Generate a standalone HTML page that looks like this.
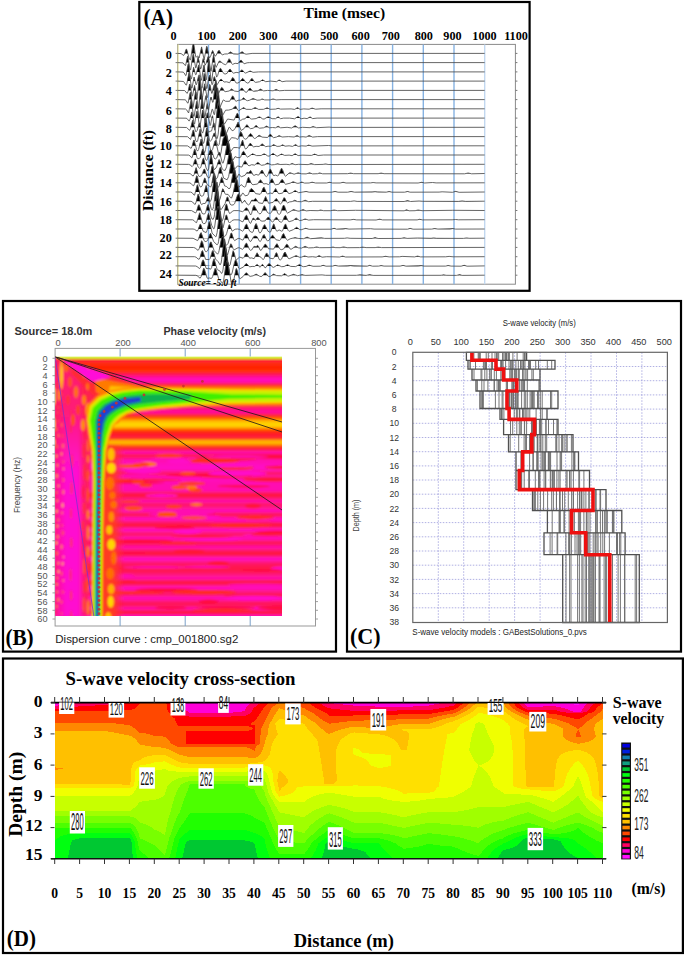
<!DOCTYPE html>
<html><head><meta charset="utf-8"><style>
html,body{margin:0;padding:0;background:#fff;width:685px;height:956px;overflow:hidden}
svg{display:block}
</style></head><body>
<svg width="685" height="956" viewBox="0 0 685 956">
<rect width="685" height="956" fill="#fff"/>
<rect x="139.3" y="2" width="390.3" height="288.8" fill="none" stroke="#000" stroke-width="2.2"/>
<text x="143.5" y="25.0" font-size="22.5" font-family="Liberation Serif" font-weight="bold" text-anchor="start" fill="#000" textLength="29.5" lengthAdjust="spacingAndGlyphs" >(A)</text>
<text x="303.6" y="17.5" font-size="15.6" font-family="Liberation Serif" font-weight="bold" text-anchor="start" fill="#000" textLength="81.5" lengthAdjust="spacingAndGlyphs" >Time (msec)</text>
<text x="173.5" y="39.6" font-size="12.2" font-family="Liberation Serif" font-weight="bold" text-anchor="middle" fill="#000" >0</text>
<text x="206.7" y="39.6" font-size="12.2" font-family="Liberation Serif" font-weight="bold" text-anchor="middle" fill="#000" >100</text>
<text x="237.8" y="39.6" font-size="12.2" font-family="Liberation Serif" font-weight="bold" text-anchor="middle" fill="#000" >200</text>
<text x="268.5" y="39.6" font-size="12.2" font-family="Liberation Serif" font-weight="bold" text-anchor="middle" fill="#000" >300</text>
<text x="300" y="39.6" font-size="12.2" font-family="Liberation Serif" font-weight="bold" text-anchor="middle" fill="#000" >400</text>
<text x="329.3" y="39.6" font-size="12.2" font-family="Liberation Serif" font-weight="bold" text-anchor="middle" fill="#000" >500</text>
<text x="360.6" y="39.6" font-size="12.2" font-family="Liberation Serif" font-weight="bold" text-anchor="middle" fill="#000" >600</text>
<text x="390.8" y="39.6" font-size="12.2" font-family="Liberation Serif" font-weight="bold" text-anchor="middle" fill="#000" >700</text>
<text x="423.8" y="39.6" font-size="12.2" font-family="Liberation Serif" font-weight="bold" text-anchor="middle" fill="#000" >800</text>
<text x="452.5" y="39.6" font-size="12.2" font-family="Liberation Serif" font-weight="bold" text-anchor="middle" fill="#000" >900</text>
<text x="484.5" y="39.6" font-size="12.2" font-family="Liberation Serif" font-weight="bold" text-anchor="middle" fill="#000" >1000</text>
<text x="516" y="39.6" font-size="12.2" font-family="Liberation Serif" font-weight="bold" text-anchor="middle" fill="#000" >1100</text>
<text x="171.8" y="58.5" font-size="12.2" font-family="Liberation Serif" font-weight="bold" text-anchor="end" fill="#000" >0</text>
<text x="171.8" y="76.8" font-size="12.2" font-family="Liberation Serif" font-weight="bold" text-anchor="end" fill="#000" >2</text>
<text x="171.8" y="94.5" font-size="12.2" font-family="Liberation Serif" font-weight="bold" text-anchor="end" fill="#000" >4</text>
<text x="171.8" y="114.60000000000001" font-size="12.2" font-family="Liberation Serif" font-weight="bold" text-anchor="end" fill="#000" >6</text>
<text x="171.8" y="133.2" font-size="12.2" font-family="Liberation Serif" font-weight="bold" text-anchor="end" fill="#000" >8</text>
<text x="171.8" y="149.89999999999998" font-size="12.2" font-family="Liberation Serif" font-weight="bold" text-anchor="end" fill="#000" >10</text>
<text x="171.8" y="168.2" font-size="12.2" font-family="Liberation Serif" font-weight="bold" text-anchor="end" fill="#000" >12</text>
<text x="171.8" y="187.2" font-size="12.2" font-family="Liberation Serif" font-weight="bold" text-anchor="end" fill="#000" >14</text>
<text x="171.8" y="206.2" font-size="12.2" font-family="Liberation Serif" font-weight="bold" text-anchor="end" fill="#000" >16</text>
<text x="171.8" y="224.0" font-size="12.2" font-family="Liberation Serif" font-weight="bold" text-anchor="end" fill="#000" >18</text>
<text x="171.8" y="242.2" font-size="12.2" font-family="Liberation Serif" font-weight="bold" text-anchor="end" fill="#000" >20</text>
<text x="171.8" y="259.2" font-size="12.2" font-family="Liberation Serif" font-weight="bold" text-anchor="end" fill="#000" >22</text>
<text x="171.8" y="278.2" font-size="12.2" font-family="Liberation Serif" font-weight="bold" text-anchor="end" fill="#000" >24</text>
<text transform="translate(153.4,170.5) rotate(-90)" x="0" y="0" font-size="15.6" font-family="Liberation Serif" font-weight="bold" text-anchor="middle" textLength="81" lengthAdjust="spacingAndGlyphs">Distance (ft)</text>
<rect x="177.6" y="44.4" width="337.79999999999995" height="239.79999999999998" fill="none" stroke="#8a8a8a" stroke-width="1"/>
<line x1="178.1" y1="44.4" x2="178.1" y2="284.2" stroke="#e8e49a" stroke-width="1"/>
<line x1="208.5" y1="44.4" x2="208.5" y2="284.2" stroke="#86b2e2" stroke-width="1.4"/>
<line x1="239.2" y1="44.4" x2="239.2" y2="284.2" stroke="#86b2e2" stroke-width="1.4"/>
<line x1="269.9" y1="44.4" x2="269.9" y2="284.2" stroke="#86b2e2" stroke-width="1.4"/>
<line x1="300.6" y1="44.4" x2="300.6" y2="284.2" stroke="#86b2e2" stroke-width="1.4"/>
<line x1="331.2" y1="44.4" x2="331.2" y2="284.2" stroke="#86b2e2" stroke-width="1.4"/>
<line x1="361.9" y1="44.4" x2="361.9" y2="284.2" stroke="#86b2e2" stroke-width="1.4"/>
<line x1="392.6" y1="44.4" x2="392.6" y2="284.2" stroke="#86b2e2" stroke-width="1.4"/>
<line x1="423.3" y1="44.4" x2="423.3" y2="284.2" stroke="#86b2e2" stroke-width="1.4"/>
<line x1="454.0" y1="44.4" x2="454.0" y2="284.2" stroke="#86b2e2" stroke-width="1.4"/>
<line x1="484.7" y1="44.4" x2="484.7" y2="284.2" stroke="#c2d8f0" stroke-width="1.4"/>
<line x1="515.4" y1="53.4" x2="517.4" y2="53.4" stroke="#777" stroke-width="1"/>
<line x1="515.4" y1="62.6" x2="517.4" y2="62.6" stroke="#777" stroke-width="1"/>
<line x1="515.4" y1="71.9" x2="517.4" y2="71.9" stroke="#777" stroke-width="1"/>
<line x1="515.4" y1="81.1" x2="517.4" y2="81.1" stroke="#777" stroke-width="1"/>
<line x1="515.4" y1="90.4" x2="517.4" y2="90.4" stroke="#777" stroke-width="1"/>
<line x1="515.4" y1="99.6" x2="517.4" y2="99.6" stroke="#777" stroke-width="1"/>
<line x1="515.4" y1="108.8" x2="517.4" y2="108.8" stroke="#777" stroke-width="1"/>
<line x1="515.4" y1="118.1" x2="517.4" y2="118.1" stroke="#777" stroke-width="1"/>
<line x1="515.4" y1="127.3" x2="517.4" y2="127.3" stroke="#777" stroke-width="1"/>
<line x1="515.4" y1="136.6" x2="517.4" y2="136.6" stroke="#777" stroke-width="1"/>
<line x1="515.4" y1="145.8" x2="517.4" y2="145.8" stroke="#777" stroke-width="1"/>
<line x1="515.4" y1="155.0" x2="517.4" y2="155.0" stroke="#777" stroke-width="1"/>
<line x1="515.4" y1="164.3" x2="517.4" y2="164.3" stroke="#777" stroke-width="1"/>
<line x1="515.4" y1="173.5" x2="517.4" y2="173.5" stroke="#777" stroke-width="1"/>
<line x1="515.4" y1="182.8" x2="517.4" y2="182.8" stroke="#777" stroke-width="1"/>
<line x1="515.4" y1="192.0" x2="517.4" y2="192.0" stroke="#777" stroke-width="1"/>
<line x1="515.4" y1="201.2" x2="517.4" y2="201.2" stroke="#777" stroke-width="1"/>
<line x1="515.4" y1="210.5" x2="517.4" y2="210.5" stroke="#777" stroke-width="1"/>
<line x1="515.4" y1="219.7" x2="517.4" y2="219.7" stroke="#777" stroke-width="1"/>
<line x1="515.4" y1="229.0" x2="517.4" y2="229.0" stroke="#777" stroke-width="1"/>
<line x1="515.4" y1="238.2" x2="517.4" y2="238.2" stroke="#777" stroke-width="1"/>
<line x1="515.4" y1="247.4" x2="517.4" y2="247.4" stroke="#777" stroke-width="1"/>
<line x1="515.4" y1="256.7" x2="517.4" y2="256.7" stroke="#777" stroke-width="1"/>
<line x1="515.4" y1="265.9" x2="517.4" y2="265.9" stroke="#777" stroke-width="1"/>
<line x1="515.4" y1="275.2" x2="517.4" y2="275.2" stroke="#777" stroke-width="1"/>
<clipPath id="aclip"><rect x="177.6" y="44.4" width="337.79999999999995" height="239.79999999999998"/></clipPath>
<line x1="175.6" y1="53.4" x2="177.6" y2="53.4" stroke="#666" stroke-width="0.9"/>
<line x1="175.6" y1="62.6" x2="177.6" y2="62.6" stroke="#666" stroke-width="0.9"/>
<line x1="175.6" y1="71.9" x2="177.6" y2="71.9" stroke="#666" stroke-width="0.9"/>
<line x1="175.6" y1="81.1" x2="177.6" y2="81.1" stroke="#666" stroke-width="0.9"/>
<line x1="175.6" y1="90.4" x2="177.6" y2="90.4" stroke="#666" stroke-width="0.9"/>
<line x1="175.6" y1="99.6" x2="177.6" y2="99.6" stroke="#666" stroke-width="0.9"/>
<line x1="175.6" y1="108.8" x2="177.6" y2="108.8" stroke="#666" stroke-width="0.9"/>
<line x1="175.6" y1="118.1" x2="177.6" y2="118.1" stroke="#666" stroke-width="0.9"/>
<line x1="175.6" y1="127.3" x2="177.6" y2="127.3" stroke="#666" stroke-width="0.9"/>
<line x1="175.6" y1="136.6" x2="177.6" y2="136.6" stroke="#666" stroke-width="0.9"/>
<line x1="175.6" y1="145.8" x2="177.6" y2="145.8" stroke="#666" stroke-width="0.9"/>
<line x1="175.6" y1="155.0" x2="177.6" y2="155.0" stroke="#666" stroke-width="0.9"/>
<line x1="175.6" y1="164.3" x2="177.6" y2="164.3" stroke="#666" stroke-width="0.9"/>
<line x1="175.6" y1="173.5" x2="177.6" y2="173.5" stroke="#666" stroke-width="0.9"/>
<line x1="175.6" y1="182.8" x2="177.6" y2="182.8" stroke="#666" stroke-width="0.9"/>
<line x1="175.6" y1="192.0" x2="177.6" y2="192.0" stroke="#666" stroke-width="0.9"/>
<line x1="175.6" y1="201.2" x2="177.6" y2="201.2" stroke="#666" stroke-width="0.9"/>
<line x1="175.6" y1="210.5" x2="177.6" y2="210.5" stroke="#666" stroke-width="0.9"/>
<line x1="175.6" y1="219.7" x2="177.6" y2="219.7" stroke="#666" stroke-width="0.9"/>
<line x1="175.6" y1="229.0" x2="177.6" y2="229.0" stroke="#666" stroke-width="0.9"/>
<line x1="175.6" y1="238.2" x2="177.6" y2="238.2" stroke="#666" stroke-width="0.9"/>
<line x1="175.6" y1="247.4" x2="177.6" y2="247.4" stroke="#666" stroke-width="0.9"/>
<line x1="175.6" y1="256.7" x2="177.6" y2="256.7" stroke="#666" stroke-width="0.9"/>
<line x1="175.6" y1="265.9" x2="177.6" y2="265.9" stroke="#666" stroke-width="0.9"/>
<line x1="175.6" y1="275.2" x2="177.6" y2="275.2" stroke="#666" stroke-width="0.9"/>
<g clip-path="url(#aclip)"><path d="M177.6 53.4 184.6 53.4 186.1 49.2 186.6 49.2 188.1 53.4 191.6 53.4 193.1 42.9 193.6 42.6 195.1 53.3 195.6 53.4 200.1 53.4 201.6 46.9 203.1 53.4 205.1 53.4 206.6 46.3 207.1 46.8 208.6 53.4 211.1 53.4 212.6 50.5 214.1 53.4 217.1 53.4 218.1 51.2 219.1 50.2 221.1 53.4 228.1 53.4 230.6 51.9 232.6 53.3 239.6 53.4 242.1 51.7 244.6 53.4 484.6 53.4 L484.7 53.4 L177.6 53.4Z M177.6 62.6 186.1 62.6 187.6 56.2 189.1 62.6 191.6 62.6 193.1 53.9 193.6 54.7 194.6 62.1 195.1 62.6 196.6 62.6 197.1 61.8 198.1 56.9 199.6 62.6 202.1 62.6 203.1 58.7 203.6 59.2 204.6 62.6 206.1 62.6 208.1 56.4 208.6 56.5 209.6 62.6 212.1 62.6 213.6 54.3 215.1 62.6 218.1 62.6 219.6 60.9 222.1 62.6 227.1 62.6 229.1 58.7 231.6 62.6 238.6 62.6 240.6 60.2 241.1 60.1 243.1 62.6 484.6 62.6 L484.7 62.6 L177.6 62.6Z M177.6 71.9 186.6 71.9 188.1 63.9 188.6 63.7 190.1 71.9 192.6 71.9 193.6 67.3 195.1 71.9 196.6 71.9 198.6 64.9 200.1 71.9 202.6 71.9 204.1 65.0 205.1 71.9 207.1 71.9 208.6 60.6 209.1 62.0 210.1 71.9 212.6 71.9 214.1 64.5 215.6 71.9 218.6 71.9 219.6 69.1 220.6 68.3 222.6 71.8 223.1 71.9 228.1 71.7 229.1 69.8 230.1 69.0 232.1 71.9 239.6 71.9 241.6 70.0 242.6 70.3 244.1 71.9 248.1 71.9 250.1 71.0 252.1 71.9 484.6 71.9 L484.7 71.9 L177.6 71.9Z M177.6 81.1 187.1 81.1 189.1 72.1 190.6 81.1 193.1 81.1 194.1 77.0 195.1 81.0 197.1 81.1 199.1 74.8 200.6 81.1 202.6 81.1 203.1 80.6 204.1 73.5 204.6 74.2 205.6 81.1 208.1 81.1 209.1 75.8 209.6 75.2 211.1 81.0 211.6 81.1 213.1 81.1 214.1 76.8 214.6 76.8 215.6 81.1 219.1 81.1 221.1 79.1 223.1 81.1 230.6 81.1 232.6 77.5 233.6 78.2 235.1 81.1 240.1 81.1 242.6 78.3 245.1 81.1 250.1 81.0 251.1 79.1 252.1 78.4 254.1 81.1 260.6 81.1 262.6 79.8 264.6 81.1 277.6 81.1 279.1 79.9 281.1 81.1 484.6 81.1 L484.7 81.1 L177.6 81.1Z M177.6 90.4 188.1 90.4 189.6 84.0 190.1 84.6 191.1 90.4 193.1 90.4 194.6 85.4 195.6 90.3 197.6 90.4 198.1 90.0 199.1 78.6 199.6 77.5 201.1 90.4 203.1 90.4 204.6 83.8 206.1 90.4 208.6 90.3 209.6 84.4 210.1 84.9 211.1 90.4 212.6 90.4 214.1 84.7 214.6 84.4 216.1 90.4 219.6 90.4 221.6 87.4 222.6 88.0 224.1 90.4 229.6 90.4 231.6 88.9 233.6 90.4 239.6 90.4 241.1 88.4 242.1 88.1 244.1 90.4 248.1 90.4 249.1 88.8 250.1 88.1 252.1 90.4 258.6 90.3 260.6 89.1 262.6 90.4 274.1 90.4 276.1 89.3 278.1 90.4 484.6 90.4 L484.7 90.4 L177.6 90.4Z M177.6 99.6 188.6 99.6 189.1 98.8 190.1 92.6 190.6 92.3 191.6 99.0 192.1 99.6 194.1 99.6 195.6 91.2 196.1 92.1 197.1 99.6 199.6 99.4 200.6 89.6 201.1 88.9 202.6 99.6 205.1 99.5 206.1 95.5 207.1 99.6 210.1 99.6 211.1 97.0 212.1 99.6 213.1 99.6 213.6 99.3 215.6 79.6 216.1 80.5 218.1 99.6 230.6 99.6 232.6 95.8 233.6 96.9 234.6 99.5 235.1 99.6 241.6 99.6 243.6 97.8 245.6 99.6 250.6 99.6 253.1 98.4 255.6 99.6 260.6 99.6 262.6 98.9 264.1 99.6 271.1 99.6 273.1 98.9 275.1 99.6 484.6 99.6 L484.7 99.6 L177.6 99.6Z M177.6 108.8 189.6 108.8 191.1 99.6 191.6 100.7 192.6 108.8 195.1 108.8 196.6 101.4 198.1 108.8 200.6 108.8 202.1 96.5 203.6 108.8 206.1 108.8 207.1 103.7 208.6 108.8 215.1 108.8 217.6 87.8 218.6 93.0 220.1 108.8 232.6 108.8 235.6 106.0 237.1 108.8 241.6 108.8 243.6 107.6 245.6 108.8 253.1 108.8 255.1 107.5 257.6 108.8 264.6 108.8 267.1 107.8 269.1 108.8 276.1 108.8 278.1 108.3 280.1 108.8 295.6 108.8 297.6 107.6 299.1 108.8 310.1 108.8 312.1 108.1 314.6 108.8 484.6 108.8 L484.7 108.8 L177.6 108.8Z M177.6 118.1 190.1 118.1 191.6 112.2 192.1 112.4 193.1 118.1 195.6 118.1 196.6 111.9 197.1 111.1 198.6 118.1 201.1 118.1 202.6 110.1 203.1 111.0 204.1 118.1 206.1 118.1 207.1 113.3 207.6 112.8 208.6 117.7 209.1 118.1 211.6 118.1 212.1 116.2 212.6 115.8 213.1 118.1 216.1 118.1 217.6 105.1 218.1 102.7 218.6 102.6 222.6 118.1 235.1 118.1 237.1 113.3 237.6 113.4 238.1 114.3 239.1 117.8 239.6 118.1 245.6 118.1 247.6 115.9 248.6 116.3 250.1 118.1 257.1 118.1 259.1 116.9 261.6 118.1 266.1 118.1 268.1 116.7 269.1 116.9 270.6 118.1 276.1 118.1 278.1 116.7 279.6 118.1 295.6 118.1 298.1 116.5 300.1 118.1 308.1 118.1 310.1 116.9 311.6 118.1 484.6 118.1 L484.7 118.1 L177.6 118.1Z M177.6 127.3 190.6 127.3 192.6 120.3 194.6 127.3 198.1 127.1 199.1 123.4 199.6 123.2 201.1 127.3 203.6 127.3 204.1 126.8 205.6 117.6 206.1 118.3 207.6 127.3 212.6 127.0 213.6 122.9 214.1 123.2 215.1 127.3 218.6 127.3 221.1 108.5 221.6 109.0 222.1 111.4 224.1 127.1 224.6 127.3 235.6 127.3 238.1 122.1 240.1 127.3 245.1 127.2 246.1 125.4 247.1 124.7 249.1 127.3 254.1 127.3 256.1 125.3 258.1 127.3 264.6 127.3 266.6 126.1 268.6 127.3 276.1 127.3 278.1 126.2 280.1 127.3 292.6 127.3 295.1 125.7 297.6 127.3 311.1 127.3 313.1 126.5 315.1 127.3 484.6 127.3 L484.7 127.3 L177.6 127.3Z M177.6 136.6 191.6 136.6 193.1 130.0 193.6 130.2 195.1 136.6 198.1 136.6 198.6 136.0 200.1 129.2 201.6 136.6 204.6 136.6 205.1 136.0 206.6 128.0 207.1 128.5 208.6 136.6 212.6 136.6 214.1 133.0 214.6 133.0 215.6 136.6 220.1 136.6 222.1 125.1 222.6 123.9 223.1 123.8 224.6 127.4 226.6 136.6 238.6 136.6 240.6 131.5 241.6 132.7 243.1 136.6 248.1 136.6 250.6 133.5 253.1 136.6 257.1 136.6 259.1 135.2 261.6 136.6 268.1 136.6 270.1 134.2 270.6 134.3 272.6 136.6 277.1 136.6 279.1 135.6 281.1 136.6 294.6 136.6 297.1 135.5 299.1 136.6 307.1 136.6 309.1 135.4 311.6 136.6 484.6 136.6 L484.7 136.6 L177.6 136.6Z M177.6 145.8 192.1 145.8 193.6 140.4 194.1 140.0 195.6 145.6 199.1 145.8 201.1 139.0 203.1 145.8 206.1 145.8 207.6 137.2 208.1 137.8 209.6 145.8 213.6 145.8 215.1 140.6 215.6 140.6 217.1 145.8 221.6 145.8 223.1 138.7 226.1 133.9 226.6 134.1 227.1 135.5 229.1 145.8 240.6 145.8 242.1 140.6 242.6 140.0 244.1 145.3 244.6 145.8 248.1 145.8 250.1 143.3 250.6 143.3 252.6 145.8 260.1 145.7 262.1 143.8 264.6 145.8 271.6 145.8 273.6 144.6 275.6 145.8 280.6 145.8 282.6 144.8 284.6 145.8 293.6 145.8 295.6 144.5 297.6 145.8 306.6 145.8 308.6 145.1 311.1 145.8 484.6 145.8 L484.7 145.8 L177.6 145.8Z M177.6 155.0 192.6 155.0 193.1 154.7 194.6 149.0 195.1 149.4 196.6 155.0 200.6 155.0 202.6 148.9 203.1 149.3 204.6 155.0 208.6 154.8 209.6 151.1 210.6 149.7 211.6 150.5 213.1 155.0 217.6 155.0 219.1 152.3 219.6 152.4 220.6 155.0 225.1 155.0 227.1 143.4 228.1 141.3 229.1 143.7 231.1 155.0 241.1 155.0 241.6 154.9 242.6 152.0 243.6 151.2 246.1 155.0 250.6 155.0 252.6 153.8 255.1 155.0 261.6 155.0 264.1 153.9 266.6 155.0 270.6 155.0 273.1 153.4 275.6 155.0 279.6 155.0 281.6 154.0 283.6 155.0 293.1 155.0 295.1 153.7 297.1 155.0 312.6 155.0 314.6 154.1 317.1 155.0 484.6 155.0 L484.7 155.0 L177.6 155.0Z M177.6 164.3 193.1 164.3 193.6 164.1 195.1 159.3 195.6 159.2 197.1 164.0 201.6 164.3 202.6 159.9 203.1 158.4 203.6 158.1 205.1 163.8 205.6 164.3 209.1 164.3 211.1 153.6 213.1 164.3 217.1 164.3 219.1 159.5 221.1 164.3 227.1 164.3 229.1 153.6 230.1 151.3 231.1 153.3 233.1 164.3 243.1 164.3 245.1 160.7 247.6 164.3 255.6 164.3 257.6 162.4 258.6 162.8 260.1 164.3 265.1 164.3 267.6 163.0 270.1 164.3 275.6 164.3 277.6 163.7 279.6 164.3 290.6 164.3 292.1 163.4 294.1 164.3 309.1 164.3 311.1 163.6 313.6 164.3 323.6 164.3 325.6 163.9 327.1 164.3 484.6 164.3 L484.7 164.3 L177.6 164.3Z M177.6 173.5 194.1 173.5 196.1 167.6 198.1 173.5 202.6 173.5 203.6 170.1 204.1 169.1 204.6 169.1 206.1 173.4 210.6 173.5 211.6 167.6 212.1 165.8 212.6 165.7 214.1 173.0 214.6 173.5 218.6 173.5 219.6 168.8 220.1 167.4 220.6 167.2 222.1 173.1 222.6 173.5 229.1 173.5 231.1 162.8 232.1 160.0 233.1 161.7 235.1 173.5 246.1 173.5 247.1 172.3 248.6 172.8 250.6 170.4 252.6 173.5 259.6 173.5 262.1 170.0 264.1 173.5 268.1 173.5 270.1 169.2 270.6 169.3 272.6 173.5 279.1 173.5 281.6 168.2 284.1 173.5 288.1 173.5 290.1 172.7 292.1 173.5 296.1 173.5 298.1 172.8 300.6 173.5 307.6 173.5 309.6 172.8 311.6 173.5 318.1 173.5 319.6 172.9 321.6 173.5 348.6 173.5 350.6 173.1 352.6 173.5 379.1 173.5 381.1 173.1 383.1 173.5 466.1 173.5 468.1 173.0 470.6 173.5 484.6 173.5 L484.7 173.5 L177.6 173.5Z M177.6 182.8 194.6 182.8 196.6 175.8 197.1 176.0 198.6 182.1 199.1 182.8 203.1 182.7 204.6 178.0 205.1 178.3 206.6 182.8 211.6 182.8 212.1 182.1 213.6 173.3 214.1 173.5 214.6 175.7 215.6 182.8 219.6 182.8 220.1 182.3 221.6 177.4 222.1 177.8 223.6 182.8 231.1 182.8 234.1 169.1 234.6 169.1 235.1 170.3 237.1 182.3 237.6 182.8 246.6 182.8 248.1 177.4 248.6 177.1 251.1 182.8 258.1 182.8 260.6 179.8 262.6 182.8 269.6 182.8 271.1 179.6 272.1 178.7 274.1 182.8 279.6 182.8 282.1 179.3 284.6 182.8 291.1 182.7 293.1 181.7 295.6 182.8 300.1 182.8 301.6 182.0 303.6 182.8 310.1 182.8 312.1 182.2 314.6 182.8 327.6 182.8 329.6 182.3 331.6 182.8 341.1 182.8 343.1 182.3 345.1 182.8 419.6 182.8 421.6 182.3 423.6 182.8 484.6 182.8 L484.7 182.8 L177.6 182.8Z M177.6 192.0 195.6 192.0 197.1 185.2 197.6 184.7 199.6 192.0 204.1 192.0 206.1 185.4 206.6 186.0 207.6 191.5 208.1 192.0 212.1 192.0 214.6 173.8 215.6 177.8 217.1 192.0 221.1 192.0 221.6 191.7 222.6 188.8 223.1 189.0 224.6 192.0 233.1 192.0 233.6 191.2 235.6 180.1 236.1 178.8 236.6 178.6 237.6 181.7 239.1 191.4 239.6 192.0 249.1 192.0 251.1 188.5 252.6 189.3 254.6 192.0 261.6 192.0 263.1 188.0 264.1 187.2 266.1 192.0 266.6 192.0 273.6 192.0 275.6 188.5 277.6 192.0 283.1 192.0 284.6 189.6 285.6 188.9 287.6 192.0 293.1 192.0 295.1 190.5 297.6 192.0 303.6 192.0 306.1 191.5 308.1 192.0 332.6 192.0 335.1 191.5 337.1 192.0 348.6 192.0 351.1 191.5 353.6 192.0 375.1 191.7 387.1 192.0 389.1 191.6 391.1 192.0 405.6 192.0 407.6 191.5 409.1 192.0 453.6 192.0 455.6 191.4 458.1 192.0 484.6 192.0 L484.7 192.0 L177.6 192.0Z M177.6 201.2 196.1 201.2 198.1 194.1 199.1 196.2 200.1 201.2 206.1 201.2 208.1 197.2 209.6 201.2 214.1 201.2 214.6 199.9 216.1 185.8 216.6 182.9 217.1 182.2 219.1 199.9 219.6 201.2 225.6 201.2 227.1 197.1 227.6 196.9 229.1 201.2 235.6 201.1 237.6 194.7 238.6 193.8 239.6 195.7 241.1 201.2 243.6 201.2 244.6 200.3 245.6 201.2 250.6 201.2 252.1 200.0 253.6 200.2 255.6 198.3 257.6 201.2 263.6 201.2 265.6 196.5 267.6 201.2 274.1 201.2 276.1 198.5 277.1 199.3 278.1 201.1 282.1 201.2 284.1 197.6 285.1 198.6 286.1 201.1 286.6 201.2 292.6 201.2 295.1 200.3 297.1 201.2 303.1 201.2 305.1 200.2 307.6 201.2 405.1 201.2 407.6 200.6 409.6 201.2 462.1 200.9 484.6 201.2 L484.7 201.2 L177.6 201.2Z M177.6 210.5 196.6 210.5 198.1 205.9 198.6 204.9 199.1 204.8 201.1 210.5 206.1 210.5 207.6 205.1 208.1 204.6 209.6 210.1 210.1 210.5 215.1 210.3 216.6 195.5 217.6 191.3 218.6 196.4 220.1 210.5 224.6 210.5 225.6 205.6 226.1 204.2 226.6 204.1 228.6 210.5 244.1 210.4 245.6 208.2 246.6 207.8 248.6 210.5 252.1 210.5 253.6 205.7 254.1 205.4 257.1 210.5 262.1 210.5 264.1 205.7 265.1 206.6 266.6 210.5 272.1 210.5 274.6 205.6 275.6 207.0 276.6 210.2 281.1 210.5 281.6 210.2 282.6 206.7 283.6 205.0 284.6 206.3 286.1 210.5 291.6 210.5 293.6 209.5 296.1 210.5 301.1 210.5 303.1 209.5 305.1 210.5 318.6 210.5 320.6 210.0 322.6 210.5 331.6 210.5 334.1 210.0 336.1 210.5 404.6 210.5 406.6 209.8 408.6 210.5 416.1 210.5 418.1 210.0 420.6 210.5 484.6 210.5 L484.7 210.5 L177.6 210.5Z M177.6 219.7 197.6 219.7 199.6 212.8 201.6 219.7 206.6 219.7 208.1 213.8 208.6 213.3 210.6 219.7 215.6 219.7 217.1 208.5 218.1 206.0 219.1 208.5 221.1 219.7 224.6 219.7 226.1 214.9 226.6 215.1 228.1 219.7 244.1 219.7 245.6 215.9 246.6 215.1 248.6 219.7 252.1 219.7 253.1 218.1 253.6 218.0 254.6 219.6 256.1 219.7 257.1 217.9 258.1 217.4 260.1 219.7 266.1 219.7 268.1 217.1 269.1 217.6 270.6 219.7 274.6 219.6 276.1 217.2 277.1 217.7 278.1 219.6 283.1 219.7 284.6 216.1 285.6 215.4 287.6 219.7 294.1 219.7 296.1 217.9 298.1 219.7 303.1 219.7 305.1 218.9 307.1 219.7 351.1 219.7 353.6 219.4 355.6 219.7 377.1 219.7 379.6 219.2 381.6 219.7 418.1 219.7 420.1 219.3 421.6 219.7 484.6 219.7 L484.7 219.7 L177.6 219.7Z M177.6 229.0 198.1 229.0 200.1 224.2 200.6 224.3 201.1 225.3 202.1 228.8 207.1 229.0 209.1 221.7 209.6 221.8 210.1 223.5 211.1 228.9 217.1 229.0 217.6 228.4 219.6 211.0 220.1 211.2 220.6 213.8 222.1 227.7 222.6 229.0 227.6 229.0 229.1 224.7 229.6 224.8 231.1 229.0 244.1 229.0 245.6 224.9 246.6 224.0 248.6 228.9 254.1 229.0 255.1 225.2 256.1 223.5 258.1 229.0 262.1 229.0 264.6 224.6 267.1 229.0 271.6 229.0 273.6 223.9 274.1 224.3 275.6 229.0 283.1 229.0 285.1 224.2 285.6 223.9 287.6 229.0 294.1 229.0 296.6 227.3 299.1 229.0 304.1 228.9 305.6 228.3 308.1 229.0 332.1 229.0 334.1 228.3 336.1 229.0 345.6 228.6 348.1 229.0 408.1 229.0 410.1 228.4 412.1 229.0 432.6 229.0 434.6 228.6 437.1 229.0 452.6 228.6 454.6 229.0 484.6 229.0 L484.7 229.0 L177.6 229.0Z M177.6 238.2 198.6 238.2 200.1 234.0 201.1 232.6 203.1 238.1 208.6 237.9 209.6 234.6 210.6 233.3 212.6 238.2 218.6 238.2 219.1 237.9 220.6 224.6 221.1 221.9 221.6 221.4 224.1 238.2 229.6 238.2 230.6 234.3 231.1 233.1 231.6 233.0 233.6 238.2 244.1 238.2 245.6 234.7 246.6 234.0 248.6 238.2 252.6 238.2 254.1 236.2 255.1 236.0 256.6 236.2 258.1 238.2 262.1 238.2 263.1 235.5 264.1 234.5 266.1 238.2 270.1 238.2 272.6 235.1 275.1 238.2 281.1 238.2 282.6 234.6 283.6 233.5 286.1 238.2 293.1 238.2 295.1 237.6 297.6 238.2 304.6 238.2 307.1 237.1 309.1 238.2 321.6 237.8 323.6 238.2 373.1 238.2 375.1 237.6 377.1 238.2 402.1 238.2 404.1 237.7 406.1 238.2 433.6 237.9 464.6 238.2 466.6 237.9 468.6 238.2 484.6 238.2 L484.7 238.2 L177.6 238.2Z M177.6 247.4 199.1 247.4 199.6 247.2 201.6 240.7 202.6 242.3 204.1 247.4 208.6 247.4 210.1 243.0 210.6 242.0 211.1 241.9 213.1 247.4 219.6 247.4 221.6 237.7 222.6 236.3 223.6 237.9 225.6 247.4 229.6 247.3 230.6 244.0 231.1 243.8 232.6 247.3 233.1 247.4 244.1 247.4 245.6 243.8 246.6 243.1 248.6 247.4 253.1 247.4 254.1 246.3 256.1 246.7 257.6 245.3 259.1 247.4 263.1 247.4 265.1 244.1 266.1 244.7 267.6 247.4 274.6 247.4 276.1 244.5 277.1 243.7 279.1 247.4 284.6 247.4 286.6 244.2 287.6 244.7 289.1 247.4 293.6 247.4 295.6 246.3 298.1 247.4 303.1 247.4 305.1 246.3 307.1 247.4 314.6 247.4 316.6 246.9 318.6 247.4 331.1 247.4 333.1 247.0 334.6 247.4 341.6 247.4 343.6 246.9 346.1 247.4 360.6 247.4 362.6 247.1 364.6 247.4 376.1 247.4 378.6 247.1 380.6 247.4 484.6 247.4 L484.7 247.4 L177.6 247.4Z M177.6 256.7 200.1 256.7 201.6 251.9 202.1 250.8 202.6 250.7 204.6 256.7 210.6 256.7 212.6 250.7 213.1 250.8 213.6 251.9 215.1 256.7 221.6 256.7 222.1 255.5 224.1 239.0 224.6 239.1 225.1 241.4 227.1 256.7 231.6 256.7 233.1 250.7 233.6 251.1 235.1 256.7 244.1 256.7 245.6 254.0 246.6 253.3 248.6 256.7 255.1 256.7 257.1 252.8 259.6 256.7 264.6 256.7 266.6 252.9 269.1 256.7 274.1 256.7 274.6 256.5 276.1 252.8 276.6 252.8 277.1 253.7 278.1 256.7 282.6 256.7 284.1 253.0 285.1 252.0 287.6 256.7 294.1 256.7 296.1 255.6 298.1 256.7 302.6 256.7 304.6 255.9 307.1 256.7 317.1 256.7 319.1 255.6 321.1 256.7 340.6 256.7 342.6 256.1 344.6 256.7 383.6 256.7 385.6 256.3 387.6 256.7 415.6 256.7 417.6 256.1 419.6 256.7 484.6 256.7 L484.7 256.7 L177.6 256.7Z M177.6 265.9 200.6 265.9 201.1 265.6 202.1 261.7 203.1 259.8 204.1 261.7 205.1 265.6 211.6 265.9 212.1 265.7 213.1 261.0 214.1 258.7 216.1 265.9 223.1 265.9 223.6 265.2 225.1 251.6 225.6 249.0 226.1 248.6 228.6 265.9 233.6 265.9 235.6 259.6 236.6 261.2 238.1 265.9 244.1 265.9 245.6 264.1 246.6 263.6 248.6 265.9 255.1 265.9 257.1 264.4 258.6 265.8 261.1 265.9 262.1 264.5 262.6 264.4 263.6 265.9 266.6 265.9 269.1 263.5 271.6 265.9 276.1 265.9 277.6 264.8 280.1 265.9 285.1 265.9 287.6 264.7 289.6 265.9 297.1 265.9 299.6 264.4 301.6 265.9 307.1 265.9 309.1 265.1 311.6 265.9 321.1 265.9 323.1 265.3 325.1 265.9 333.1 265.9 335.1 265.4 337.6 265.9 350.6 265.6 368.1 265.9 369.6 265.4 371.6 265.9 379.6 265.9 381.1 265.6 383.1 265.9 401.1 265.9 403.1 265.4 405.1 265.9 421.1 265.6 423.6 265.9 446.6 265.9 448.1 265.5 450.1 265.9 462.1 265.9 464.1 265.3 466.1 265.9 484.6 265.9 L484.7 265.9 L177.6 265.9Z M177.6 275.2 201.6 275.1 203.6 268.4 204.1 268.5 204.6 269.6 206.1 275.2 212.6 275.2 213.1 274.9 215.1 268.3 216.1 269.7 217.6 275.2 224.1 275.2 224.6 273.9 226.1 262.6 227.1 260.3 228.1 263.3 230.1 275.2 234.6 275.2 236.1 268.6 236.6 268.8 237.1 270.1 238.6 275.2 244.1 275.2 245.6 273.2 246.6 272.8 248.6 275.2 254.1 275.2 256.1 274.1 258.1 275.2 262.6 275.2 265.1 272.6 267.6 275.2 271.6 275.2 273.6 274.1 275.6 275.2 282.6 275.2 284.6 273.6 287.1 275.2 291.1 275.2 293.6 274.3 295.6 275.2 300.1 275.2 302.1 274.6 304.1 275.2 357.6 275.2 359.6 274.8 367.6 275.2 369.6 274.6 372.1 275.2 441.6 275.2 443.6 274.8 445.6 275.2 457.6 275.2 459.6 274.6 461.6 275.2 484.6 275.2 L484.7 275.2 L177.6 275.2Z" fill="#000"/>
<path d="M177.6 53.4 181.1 53.6 183.6 55.5 184.6 53.9 186.1 49.2 186.6 49.2 189.1 58.0 190.1 60.0 190.6 59.7 192.6 45.7 193.1 42.9 193.6 42.6 195.6 56.3 196.1 57.3 197.6 55.8 199.1 58.0 201.6 46.9 204.1 59.9 206.6 46.3 207.1 46.8 208.6 55.4 209.6 57.9 210.6 56.3 212.6 50.5 215.1 56.1 216.1 55.5 218.1 51.2 219.1 50.2 221.6 54.4 222.6 54.8 224.6 54.0 227.6 53.9 230.6 51.9 233.6 54.0 238.1 54.2 242.1 51.7 244.6 53.7 246.1 54.2 252.1 53.4 484.6 53.4 M177.6 62.6 183.1 62.9 185.1 65.5 185.6 65.4 187.6 56.2 188.1 57.2 189.6 67.6 190.1 69.6 190.6 69.9 193.1 53.9 193.6 54.7 195.6 67.8 196.1 67.7 198.1 56.9 200.6 69.1 201.6 66.5 203.1 58.7 203.6 59.2 205.1 65.2 206.1 63.4 208.1 56.4 208.6 56.5 210.6 70.4 211.1 71.2 213.6 54.3 215.6 66.5 216.1 67.4 219.1 61.2 220.1 61.0 223.1 63.7 225.6 64.8 226.6 63.8 229.1 58.7 230.1 59.8 231.6 63.5 232.6 64.4 235.1 63.3 238.1 63.6 240.1 60.7 241.1 60.1 244.1 63.8 247.1 62.8 249.6 62.6 484.6 62.6 M177.6 71.9 183.1 72.1 184.1 72.9 185.6 75.6 186.1 75.4 188.1 63.9 188.6 63.7 190.1 74.8 191.1 79.1 191.6 78.2 193.6 67.3 195.1 73.3 195.6 74.7 196.1 74.6 198.6 64.9 199.1 65.9 200.6 77.4 201.1 79.9 201.6 80.2 203.6 65.9 204.1 65.0 206.1 79.9 206.6 78.9 208.6 60.6 209.1 62.0 211.1 80.8 211.6 80.8 212.1 78.1 213.6 65.5 214.1 64.5 216.6 77.1 217.6 75.6 219.6 69.1 220.6 68.3 223.6 73.4 225.1 74.1 227.1 73.3 229.1 69.8 230.1 69.0 232.6 72.6 233.6 73.2 236.1 72.4 238.6 72.7 241.6 70.0 242.6 70.3 244.6 72.7 245.6 73.1 250.1 71.0 253.1 72.3 258.6 71.9 484.6 71.9 M177.6 81.1 183.6 81.5 186.1 85.2 186.6 84.9 189.1 72.1 191.6 88.2 192.1 87.9 194.1 77.0 196.1 84.9 196.6 84.4 198.6 75.5 199.1 74.8 199.6 75.8 201.6 88.6 202.1 88.2 202.6 85.3 204.1 73.5 204.6 74.2 206.6 88.7 207.1 88.2 208.6 78.1 209.6 75.2 212.1 84.7 212.6 84.1 214.1 76.8 214.6 76.8 216.6 84.9 217.1 84.8 220.1 79.8 221.1 79.1 224.1 82.0 226.6 81.8 229.6 82.7 232.6 77.5 233.6 78.2 235.6 82.5 237.1 83.2 239.6 82.2 242.6 78.3 243.6 79.1 245.6 82.1 247.6 83.1 249.1 82.5 251.1 79.1 252.1 78.4 254.6 81.9 255.6 82.4 259.6 81.7 262.6 79.8 265.6 81.7 270.6 81.1 276.6 81.7 279.1 79.9 282.1 81.7 286.1 81.1 484.6 81.1 M177.6 90.4 184.6 90.5 187.1 93.4 188.1 91.4 189.6 84.0 190.1 84.6 192.1 96.2 192.6 95.5 194.6 85.4 196.6 97.8 197.1 98.4 199.1 78.6 199.6 77.5 201.6 98.5 202.1 99.9 204.6 83.8 207.1 97.8 207.6 97.2 209.6 84.4 210.1 84.9 211.6 93.2 212.1 93.4 213.6 86.5 214.1 84.7 214.6 84.4 216.6 94.2 217.1 95.4 217.6 95.5 221.6 87.4 222.6 88.0 224.1 90.9 225.1 91.7 229.1 91.0 231.6 88.9 234.6 91.1 238.1 91.5 239.1 91.0 241.1 88.4 242.1 88.1 245.1 91.9 246.1 92.4 247.1 91.9 249.1 88.8 250.1 88.1 252.6 91.0 253.6 91.4 257.6 90.9 260.6 89.1 263.6 90.9 267.6 90.4 273.1 90.8 276.1 89.3 279.1 90.8 284.6 90.4 484.6 90.4 M177.6 99.6 185.1 99.8 186.1 100.5 187.6 103.1 188.1 103.1 190.1 92.6 190.6 92.3 192.6 106.6 193.1 107.3 195.6 91.2 196.1 92.1 198.1 108.0 198.6 107.9 200.6 89.6 201.1 88.9 203.1 106.7 203.6 108.1 204.1 106.8 205.6 96.4 206.1 95.5 208.1 109.1 208.6 110.1 210.6 97.9 211.1 97.0 212.6 102.3 213.1 102.1 215.6 79.6 216.1 80.5 218.6 104.1 219.1 106.0 220.1 107.0 223.1 100.1 223.6 100.0 225.6 101.3 229.6 101.3 232.6 95.8 233.6 96.9 235.1 100.5 236.1 101.3 238.1 100.3 241.1 100.1 243.6 97.8 246.1 100.2 247.6 100.7 249.6 100.2 253.1 98.4 257.1 100.2 260.1 100.0 262.1 98.9 264.6 99.9 270.1 99.9 273.1 98.9 276.1 99.9 281.1 99.6 484.6 99.6 M177.6 108.8 185.6 109.0 186.6 109.8 188.6 113.0 191.1 99.6 191.6 100.7 193.1 113.5 193.6 116.2 194.1 116.6 196.6 101.4 199.1 118.3 199.6 117.7 200.1 114.4 202.1 96.5 204.6 116.9 205.1 116.5 207.1 103.7 207.6 104.7 209.1 115.5 209.6 117.5 210.1 117.4 212.1 109.2 212.6 109.4 214.1 114.7 214.6 114.4 217.6 87.8 218.6 93.0 220.6 112.8 221.1 115.0 222.1 116.3 225.6 110.2 228.6 110.1 232.1 109.2 235.6 106.0 237.6 110.0 238.6 110.8 243.6 107.6 246.1 109.3 251.6 109.4 255.1 107.5 258.6 109.4 263.6 109.3 267.1 107.8 270.1 109.3 275.6 109.1 278.1 108.3 280.6 109.1 291.1 108.9 294.6 109.4 297.6 107.6 300.1 109.4 303.6 108.9 309.1 109.2 312.1 108.1 315.6 109.2 321.1 108.8 484.6 108.8 M177.6 118.1 186.1 118.2 187.1 118.6 189.1 121.1 190.1 119.2 191.6 112.2 192.1 112.4 192.6 114.7 194.1 123.9 194.6 124.0 196.6 111.9 197.1 111.1 199.1 123.6 199.6 125.7 200.1 125.8 202.6 110.1 203.1 111.0 205.1 123.0 207.1 113.3 207.6 112.8 210.1 125.6 210.6 124.7 212.1 116.2 212.6 115.8 214.6 129.9 215.1 130.3 217.6 105.1 218.1 102.7 218.6 102.6 221.1 111.7 223.1 121.3 224.1 123.8 224.6 123.9 227.6 119.0 234.1 120.1 237.1 113.3 237.6 113.4 238.1 114.3 239.6 119.4 240.6 120.6 242.6 119.2 245.1 118.8 247.6 115.9 248.6 116.3 250.6 118.8 251.6 119.1 256.1 118.6 259.1 116.9 260.1 117.1 262.6 118.9 264.1 119.1 268.1 116.7 272.1 118.7 275.6 118.7 278.1 116.7 280.6 118.7 283.6 118.1 289.6 118.1 294.6 118.8 298.1 116.5 301.1 118.8 304.1 118.2 307.1 118.6 310.1 116.9 312.6 118.6 317.1 118.1 484.6 118.1 M177.6 127.3 186.6 127.5 189.6 130.4 190.6 128.4 192.6 120.3 195.6 131.5 196.1 131.8 197.1 130.7 199.1 123.4 199.6 123.2 201.6 131.4 202.6 133.1 203.6 130.1 205.6 117.6 206.1 118.3 207.6 129.1 208.6 132.4 210.1 131.2 211.1 131.3 211.6 130.9 213.6 122.9 214.1 123.2 216.1 136.7 216.6 138.5 217.1 138.7 218.1 134.7 220.1 114.4 221.1 108.5 221.6 109.0 222.1 111.4 224.6 130.1 225.6 133.6 226.1 134.0 229.1 127.2 229.6 127.3 232.1 130.7 233.6 130.3 235.1 128.4 238.1 122.1 241.1 130.5 244.1 128.6 246.1 125.4 247.1 124.7 249.6 128.2 250.6 128.7 253.6 128.1 256.1 125.3 258.6 127.9 259.6 128.2 263.6 127.8 266.6 126.1 269.6 127.8 272.6 127.5 275.6 127.8 278.1 126.2 280.6 127.8 287.1 127.3 291.6 128.0 295.1 125.7 298.6 128.0 302.6 127.3 310.1 127.7 313.1 126.5 316.6 127.7 329.1 127.1 332.1 127.4 484.6 127.3 M177.6 136.6 187.6 136.7 190.6 139.5 193.1 130.0 193.6 130.2 194.1 132.1 195.6 140.2 196.6 142.0 197.6 140.9 200.1 129.2 203.1 143.4 203.6 143.2 204.1 141.9 206.6 128.0 207.1 128.5 209.6 140.7 210.6 141.0 211.6 140.1 214.1 133.0 214.6 133.0 217.1 143.8 218.1 145.7 219.1 144.5 219.6 142.3 221.6 127.6 222.1 125.1 222.6 123.9 223.1 123.8 224.6 127.4 227.6 140.5 228.6 141.7 231.6 137.6 235.6 138.2 237.6 139.5 238.6 137.8 240.6 131.5 241.6 132.7 243.6 137.8 244.6 138.9 245.6 139.2 247.1 138.4 249.6 134.3 250.6 133.5 251.6 134.4 253.6 137.9 254.6 138.5 255.6 138.2 259.1 135.2 262.1 137.1 267.6 137.5 270.1 134.2 271.1 134.7 272.6 137.1 273.6 137.7 276.6 137.0 279.1 135.6 282.1 137.0 288.6 136.6 294.1 137.0 297.1 135.5 299.6 137.0 303.1 136.7 306.1 137.1 309.1 135.4 312.6 137.1 317.6 136.6 484.6 136.6 M177.6 145.8 187.6 145.9 191.1 148.4 192.1 146.2 193.6 140.4 194.1 140.0 196.6 149.7 197.6 151.1 198.6 149.5 201.1 139.0 202.1 141.8 203.6 150.6 204.6 152.8 205.6 149.5 207.6 137.2 208.1 137.8 210.6 150.7 211.6 150.8 212.6 149.5 214.6 141.9 215.1 140.6 215.6 140.6 218.6 153.9 219.6 156.1 220.1 156.1 221.1 152.1 223.1 138.7 226.1 133.9 226.6 134.1 227.1 135.5 229.6 149.6 230.6 151.6 233.6 147.5 237.6 147.6 239.6 148.3 242.6 140.0 244.6 147.4 245.6 149.1 247.1 148.0 250.1 143.3 251.1 143.8 252.6 146.3 253.6 146.9 256.1 146.3 259.1 146.5 262.1 143.8 265.6 146.7 268.1 146.2 271.1 146.3 273.6 144.6 277.1 146.4 280.1 146.2 282.6 144.8 285.1 146.2 289.1 145.8 292.6 146.4 295.6 144.5 297.6 146.1 298.6 146.4 301.6 145.8 306.1 146.1 308.6 145.1 312.1 146.1 328.6 145.5 332.1 145.9 484.6 145.8 M177.6 155.0 188.6 155.1 190.1 155.9 191.6 157.7 192.1 157.6 194.6 149.0 195.1 149.4 197.1 157.8 197.6 158.6 199.1 158.7 200.1 157.7 200.6 156.3 202.6 148.9 203.6 150.9 205.6 159.5 206.6 160.4 207.6 158.7 209.6 151.1 210.6 149.7 211.6 150.5 214.1 158.0 215.1 159.1 216.6 158.2 218.6 153.1 219.1 152.3 219.6 152.4 222.1 162.2 222.6 163.1 223.1 163.1 224.6 158.1 227.1 143.4 228.1 141.3 229.1 143.7 231.6 158.6 232.6 160.7 235.1 156.6 237.1 157.5 240.1 157.7 240.6 157.2 242.6 152.0 243.6 151.2 246.6 156.4 247.6 157.1 252.6 153.8 256.6 155.6 261.1 155.5 263.6 154.0 264.6 153.9 267.6 155.9 269.1 156.2 273.1 153.4 276.1 155.7 277.6 156.1 281.6 154.0 284.6 155.4 289.1 155.1 292.1 155.7 295.1 153.7 298.1 155.6 302.1 155.1 311.6 155.4 314.6 154.1 318.1 155.5 323.6 155.0 484.6 155.0 M177.6 164.3 188.6 164.4 190.1 164.9 192.1 166.6 193.1 165.6 194.6 160.4 195.1 159.3 195.6 159.2 198.1 167.0 199.6 168.3 200.6 167.6 201.1 166.3 202.6 159.9 203.1 158.4 203.6 158.1 206.1 168.0 207.6 170.7 208.6 169.1 210.6 154.8 211.1 153.6 213.1 166.2 214.1 169.6 215.1 169.0 216.6 167.0 219.1 159.5 219.6 160.0 222.1 168.8 223.6 170.1 225.1 170.4 226.6 166.9 229.1 153.6 230.1 151.3 231.1 153.3 233.6 166.9 234.6 169.1 237.6 165.9 241.1 167.0 242.1 166.8 244.1 162.0 245.1 160.7 248.1 165.3 249.1 165.8 251.6 164.7 254.6 165.1 257.6 162.4 258.6 162.8 260.6 165.0 261.6 165.3 264.6 164.8 267.6 163.0 271.6 164.9 274.6 164.6 277.6 163.7 280.1 164.5 286.1 164.3 289.6 164.7 292.1 163.4 295.1 164.7 298.6 164.3 308.1 164.6 311.1 163.6 314.6 164.6 323.1 164.4 325.6 163.9 328.1 164.5 484.6 164.3 M177.6 173.5 190.1 173.6 193.1 176.1 194.1 174.7 196.1 167.6 198.1 174.8 199.1 176.6 201.6 175.7 203.6 170.1 204.1 169.1 204.6 169.1 207.1 176.2 208.1 177.6 209.1 178.1 210.1 176.0 212.1 165.8 212.6 165.7 214.6 175.7 215.6 178.4 216.6 178.6 217.6 177.1 219.6 168.8 220.1 167.4 220.6 167.2 223.6 178.1 227.1 179.8 228.6 176.7 231.1 162.8 232.1 160.0 233.1 161.7 235.6 176.8 236.6 178.7 238.6 174.3 239.1 174.1 240.6 176.3 241.6 176.7 245.1 175.2 247.1 172.3 248.6 172.8 250.6 170.4 253.1 175.0 254.1 175.4 256.1 174.4 258.1 175.1 259.1 174.8 261.1 171.0 262.1 170.0 265.1 175.7 266.6 176.6 267.6 175.7 269.6 170.0 270.1 169.2 270.6 169.3 273.1 175.2 274.1 175.6 275.6 175.1 277.6 175.9 278.6 175.3 280.6 169.7 281.6 168.2 282.6 169.7 284.6 175.4 285.6 176.2 289.1 173.1 290.1 172.7 294.1 174.2 298.1 172.8 301.6 173.8 306.1 173.9 309.6 172.8 312.6 173.9 317.6 173.7 319.6 172.9 322.6 173.8 347.6 173.7 350.6 173.1 353.6 173.7 378.1 173.7 381.1 173.1 384.1 173.7 464.6 173.8 468.1 173.0 471.6 173.8 484.6 173.5 M177.6 182.8 189.6 182.9 191.1 183.5 193.1 185.8 193.6 185.8 194.6 183.7 196.6 175.8 197.1 176.0 197.6 177.4 199.1 184.3 200.1 186.8 201.1 187.0 202.1 185.9 204.6 178.0 205.1 178.3 207.1 184.6 209.1 185.7 210.6 187.2 211.6 185.1 213.6 173.3 214.1 173.5 214.6 175.7 216.1 185.8 217.1 188.1 218.1 187.6 219.1 185.9 221.6 177.4 222.1 177.8 224.6 185.9 226.6 186.5 229.1 189.0 230.1 187.9 230.6 186.4 233.1 172.3 234.1 169.1 234.6 169.1 235.1 170.3 237.6 185.1 238.6 187.6 241.1 184.6 244.1 187.0 245.1 187.0 245.6 186.5 247.6 178.8 248.6 177.1 251.1 183.0 252.1 184.3 253.1 184.7 257.6 184.0 259.6 180.6 260.6 179.8 263.6 184.0 266.1 183.6 268.6 184.6 269.6 183.5 271.1 179.6 272.1 178.7 274.6 184.3 275.6 184.8 279.1 184.1 281.1 180.3 282.1 179.3 283.1 180.3 284.6 183.4 285.6 184.3 290.1 183.2 293.1 181.7 297.1 183.3 299.1 183.2 301.6 182.0 304.6 183.1 309.1 183.0 312.1 182.2 315.6 183.0 326.6 183.0 329.6 182.3 332.6 183.0 340.1 183.0 343.1 182.3 346.1 183.0 370.6 182.9 373.1 182.5 376.1 182.9 418.1 183.0 421.6 182.3 424.6 183.0 432.6 182.5 436.1 182.9 484.6 182.8 M177.6 192.0 190.6 192.1 192.1 192.7 194.1 195.2 194.6 195.1 197.1 185.2 197.6 184.7 200.1 195.0 201.1 196.1 202.6 196.1 203.6 195.0 206.1 185.4 207.1 188.3 209.1 200.1 210.1 201.6 211.1 200.0 211.6 197.9 214.6 173.8 215.6 177.8 217.6 196.3 218.1 198.9 219.1 200.8 220.1 198.9 222.6 188.8 223.1 189.0 225.1 193.9 225.6 194.3 228.1 194.4 230.6 197.8 231.6 198.0 233.1 193.8 235.6 180.1 236.1 178.8 236.6 178.6 237.6 181.7 239.6 194.2 240.6 196.5 242.6 193.1 243.1 193.1 245.1 195.8 247.6 195.3 248.6 193.9 250.1 189.7 251.1 188.5 253.1 189.9 255.6 193.6 260.1 194.3 261.1 193.2 263.1 188.0 264.1 187.2 266.6 193.1 267.6 194.1 270.1 193.0 272.6 193.6 275.6 188.5 278.1 193.2 279.1 193.7 282.6 193.1 284.6 189.6 285.6 188.9 288.1 193.0 289.1 193.6 292.1 192.7 295.1 190.5 298.6 192.7 306.1 191.5 309.1 192.2 331.6 192.2 335.1 191.5 338.1 192.2 347.6 192.2 351.1 191.5 354.6 192.2 372.1 192.1 375.1 191.7 377.6 192.1 386.1 192.2 389.1 191.6 392.1 192.2 404.6 192.2 407.6 191.5 410.1 192.2 439.1 192.1 442.1 191.8 452.6 192.3 455.6 191.4 459.1 192.3 484.6 192.0 M177.6 201.2 191.1 201.3 192.6 202.0 194.6 204.3 195.1 204.4 196.1 202.1 198.1 194.1 199.1 196.2 200.6 203.2 201.6 204.6 203.1 203.5 205.1 203.5 205.6 203.1 207.6 197.8 208.1 197.2 208.6 197.7 211.1 208.4 212.1 209.9 213.1 208.4 213.6 206.5 216.1 185.8 216.6 182.9 217.1 182.2 219.6 204.7 220.1 207.9 220.6 209.5 221.1 209.7 225.1 203.5 227.1 197.1 227.6 196.9 228.1 197.7 230.1 204.2 231.1 205.0 233.1 205.0 234.6 203.7 237.6 194.7 238.6 193.8 242.1 203.2 244.6 200.3 247.1 204.0 248.6 204.9 249.6 204.2 251.6 200.3 253.6 200.2 255.6 198.3 258.6 202.8 262.6 203.5 265.6 196.5 268.6 203.3 273.1 202.3 276.1 198.5 277.1 199.3 279.1 202.8 280.6 203.9 281.6 203.1 284.1 197.6 285.1 198.6 286.6 202.1 287.6 202.9 289.6 201.9 292.1 201.6 294.6 200.3 297.6 201.6 301.6 201.7 305.1 200.2 308.6 201.7 312.6 201.3 350.6 201.4 354.1 200.9 357.1 201.4 404.1 201.5 407.6 200.6 410.6 201.5 419.1 201.0 422.6 201.3 458.6 201.4 462.1 200.9 465.6 201.4 484.6 201.2 M177.6 210.5 191.6 210.6 195.6 213.0 196.6 211.4 198.1 205.9 198.6 204.9 199.1 204.8 202.1 213.4 203.1 213.9 204.6 214.0 205.6 212.5 207.1 206.6 208.1 204.6 209.1 207.5 211.1 217.0 212.1 219.0 213.1 219.4 214.1 217.0 214.6 214.2 216.6 195.5 217.6 191.3 218.6 196.4 220.6 216.4 221.1 219.3 222.1 221.3 223.6 217.2 225.6 205.6 226.1 204.2 226.6 204.1 228.6 211.5 229.6 213.5 230.6 213.1 232.6 211.0 234.1 210.6 238.6 210.6 242.6 211.7 243.6 211.1 245.6 208.2 246.6 207.8 247.6 208.9 250.6 215.0 251.6 213.5 253.1 207.0 254.1 205.4 258.1 212.5 259.1 213.6 260.1 214.0 261.6 212.4 264.1 205.7 265.1 206.6 267.1 212.1 268.6 213.2 270.6 213.1 271.6 212.2 273.6 206.9 274.6 205.6 275.6 207.0 277.6 213.0 279.1 214.6 280.6 213.1 282.6 206.7 283.6 205.0 284.6 206.3 286.6 212.2 287.6 213.1 293.6 209.5 297.1 210.9 299.1 211.2 303.1 209.5 306.1 210.9 310.1 210.5 318.1 210.7 320.6 210.0 323.6 210.7 330.6 210.7 334.1 210.0 337.6 210.7 355.6 210.3 404.1 210.8 406.6 209.8 409.1 210.8 415.1 210.7 418.1 210.0 422.1 210.7 452.6 210.3 484.6 210.5 M177.6 219.7 192.6 219.8 194.1 220.6 196.1 222.8 196.6 222.6 199.6 212.8 202.6 223.0 203.6 223.6 205.1 223.5 206.1 222.0 207.6 215.5 208.6 213.3 211.6 225.2 213.6 228.8 214.1 228.7 214.6 227.3 217.1 208.5 218.1 206.0 219.6 210.9 222.1 225.7 223.1 227.7 226.1 214.9 226.6 215.1 227.1 216.4 228.6 221.9 229.6 223.0 232.1 220.5 234.1 219.8 239.1 219.9 242.1 221.7 243.1 221.6 245.6 215.9 246.6 215.1 249.6 222.7 250.6 223.4 253.1 218.1 253.6 218.0 255.1 220.3 255.6 220.3 257.1 217.9 258.1 217.4 260.6 220.7 262.1 221.2 265.1 220.9 267.6 217.5 268.6 217.2 271.1 221.0 272.6 221.9 273.6 221.3 275.6 217.7 276.6 217.2 279.1 221.2 280.1 221.9 281.6 222.1 282.6 221.2 284.6 216.1 285.6 215.4 288.1 221.0 289.1 221.7 293.1 220.5 296.1 217.9 299.6 220.6 302.1 220.2 305.1 218.9 308.6 220.1 313.6 219.7 350.1 219.9 353.6 219.4 356.6 219.9 376.1 220.0 379.6 219.2 382.6 219.9 417.1 219.9 419.6 219.3 422.6 219.9 452.1 219.8 455.6 219.5 458.6 219.8 484.6 219.7 M177.6 229.0 193.1 229.0 194.6 229.4 197.1 231.1 198.1 229.9 200.1 224.2 200.6 224.3 201.1 225.3 203.1 231.2 206.1 232.6 207.1 230.5 209.1 221.7 209.6 221.8 210.1 223.5 212.1 233.1 215.6 236.7 216.1 236.6 217.1 232.6 219.6 211.0 220.1 211.2 220.6 213.8 223.1 234.0 223.6 235.5 224.6 236.4 225.6 235.7 226.6 233.6 229.1 224.7 229.6 224.8 232.1 231.0 232.6 231.0 235.1 229.2 237.6 229.0 239.6 229.4 242.6 231.2 243.6 230.3 245.6 224.9 246.6 224.0 249.6 231.1 252.1 232.5 253.1 231.8 255.1 225.2 256.1 223.5 257.1 225.4 259.1 232.3 260.1 233.1 261.6 231.2 263.6 225.8 264.6 224.6 268.1 231.3 269.6 232.1 270.6 231.9 273.6 223.9 274.1 224.3 276.1 230.5 277.1 231.2 279.1 229.9 281.6 231.2 282.6 230.8 284.6 225.2 285.6 223.9 288.1 230.3 289.1 231.3 293.6 229.5 296.6 227.3 299.6 229.5 301.1 229.8 305.6 228.3 309.1 229.3 331.1 229.2 334.1 228.3 336.6 229.2 343.1 229.1 345.6 228.6 349.1 229.1 370.6 228.7 374.1 229.1 407.6 229.2 410.1 228.4 413.1 229.2 431.6 229.1 434.6 228.6 438.1 229.1 450.1 229.1 452.6 228.6 455.6 229.1 484.6 229.0 M177.6 238.2 193.1 238.3 197.6 240.6 198.6 238.9 200.1 234.0 201.1 232.6 204.1 240.6 205.1 241.5 206.1 241.5 207.6 240.5 209.6 234.6 210.6 233.3 213.6 241.5 217.1 244.9 218.1 243.5 218.6 241.3 220.6 224.6 221.1 221.9 221.6 221.4 224.1 240.3 224.6 243.1 225.6 245.4 226.6 245.1 228.1 243.4 230.6 234.3 231.1 233.1 231.6 233.0 233.6 239.3 234.6 240.6 238.1 238.4 240.1 238.7 242.1 240.0 243.1 240.0 245.6 234.7 246.6 234.0 249.1 240.1 250.1 241.5 251.1 241.1 253.6 236.7 255.1 236.0 257.1 236.7 259.1 240.8 260.1 241.5 261.1 240.6 263.1 235.5 264.1 234.5 266.6 240.0 267.6 241.0 269.1 240.3 271.6 235.9 272.6 235.1 276.1 239.8 279.6 240.5 280.6 239.6 282.6 234.6 283.6 233.5 286.1 238.9 287.6 240.3 290.1 238.8 295.1 237.6 298.1 238.4 303.6 238.7 307.1 237.1 310.6 238.7 321.6 237.8 324.6 238.4 344.6 238.3 347.1 237.9 350.1 238.3 372.1 238.5 375.1 237.6 378.1 238.5 401.1 238.4 404.1 237.7 407.1 238.4 417.6 238.0 431.1 238.3 433.6 237.9 436.6 238.3 463.6 238.4 466.6 237.9 469.1 238.3 484.6 238.2 M177.6 247.4 193.6 247.5 195.1 248.0 198.1 250.4 199.1 248.9 201.6 240.7 202.6 242.3 204.6 250.1 205.6 251.6 206.6 251.7 208.1 250.0 210.1 243.0 210.6 242.0 211.1 241.9 214.1 250.6 217.6 254.2 218.6 252.6 219.1 250.6 221.6 237.7 222.6 236.3 224.1 239.8 226.6 253.2 227.6 254.8 230.6 244.0 231.1 243.8 231.6 244.5 233.1 248.6 234.1 249.9 238.1 247.7 239.6 247.9 242.6 249.4 243.6 248.4 245.6 243.8 246.6 243.1 249.6 249.6 250.6 250.4 251.6 250.0 254.1 246.3 256.1 246.7 257.6 245.3 258.6 246.5 260.1 250.1 261.1 250.4 265.1 244.1 266.1 244.7 268.6 248.8 273.6 249.1 276.1 244.5 277.1 243.7 279.6 248.6 281.1 249.8 283.6 249.0 286.6 244.2 287.6 244.7 290.1 249.0 291.1 249.3 295.6 246.3 298.6 247.9 301.6 248.1 305.1 246.3 308.6 247.9 313.6 247.7 316.6 246.9 319.6 247.7 330.1 247.6 333.1 247.0 335.1 247.6 340.1 247.7 343.6 246.9 347.1 247.7 359.6 247.6 362.6 247.1 366.1 247.6 375.1 247.6 378.1 247.1 381.6 247.6 484.6 247.4 M177.6 256.7 194.6 256.7 196.1 257.2 198.1 259.0 199.1 259.3 200.1 257.5 201.6 251.9 202.1 250.8 202.6 250.7 205.6 259.4 209.1 259.6 210.1 258.6 212.1 251.7 212.6 250.7 213.1 250.8 215.6 259.1 218.1 261.6 220.1 264.9 221.1 263.0 221.6 259.9 224.1 239.0 224.6 239.1 225.1 241.4 227.6 261.8 229.1 266.0 230.1 264.8 233.1 250.7 234.1 252.6 235.6 258.6 236.6 259.7 239.6 257.1 243.1 258.2 244.1 257.2 245.6 254.0 246.6 253.3 249.6 258.2 251.6 257.9 254.1 258.7 257.1 252.8 259.1 256.4 261.1 257.3 263.1 259.7 264.1 258.5 265.6 254.4 266.6 252.9 267.6 253.9 269.6 258.1 273.1 258.8 274.1 257.7 276.1 252.8 276.6 252.8 277.1 253.7 279.1 259.3 280.1 260.1 281.6 259.1 284.1 253.0 285.1 252.0 288.1 258.2 289.1 258.8 296.1 255.6 299.6 257.3 301.6 257.1 304.6 255.9 308.1 257.0 312.6 256.7 316.1 257.2 319.1 255.6 322.1 257.2 326.6 256.7 339.6 257.0 342.6 256.1 345.6 257.0 382.1 256.9 385.6 256.3 389.1 256.9 399.6 256.8 402.1 256.4 414.6 256.9 417.6 256.1 420.6 256.9 445.6 256.8 449.1 256.4 453.1 256.8 484.6 256.7 M177.6 265.9 195.6 266.0 197.1 266.6 199.6 268.6 200.6 267.2 202.1 261.7 203.1 259.8 204.1 261.7 206.1 268.3 207.1 268.7 208.6 268.3 210.6 269.2 211.6 267.6 213.1 261.0 214.1 258.7 217.1 269.3 217.6 269.9 219.6 270.7 221.6 273.5 222.6 271.8 223.1 269.1 225.1 251.6 225.6 249.0 226.1 248.6 229.1 270.8 229.6 273.2 230.6 275.0 231.1 274.9 232.1 273.0 234.6 261.9 235.6 259.6 236.6 261.2 238.6 268.0 239.6 268.9 243.6 266.9 245.6 264.1 246.6 263.6 249.6 266.9 252.1 266.4 254.6 266.5 257.1 264.4 260.1 267.3 262.1 264.5 262.6 264.4 265.1 267.9 266.1 267.3 268.1 264.2 269.1 263.5 270.1 264.1 272.1 266.8 273.6 267.4 277.6 264.8 281.6 266.7 284.1 266.5 287.6 264.7 290.6 266.4 295.6 266.6 299.6 264.4 302.1 266.3 303.6 266.7 306.1 266.4 309.1 265.1 313.1 266.3 320.6 266.2 323.1 265.3 326.1 266.2 332.6 266.1 335.1 265.4 338.6 266.1 347.6 266.1 350.6 265.6 353.6 266.1 367.1 266.2 369.6 265.4 372.6 266.2 378.6 266.1 381.1 265.6 384.1 266.1 400.1 266.1 403.1 265.4 406.1 266.2 418.6 266.1 421.1 265.6 424.1 266.1 445.6 266.1 448.1 265.5 451.1 266.1 461.1 266.2 464.1 265.3 467.1 266.2 484.6 265.9 M177.6 275.2 195.6 275.3 197.1 275.7 200.1 278.2 201.1 276.7 203.6 268.4 204.1 268.5 204.6 269.6 207.1 278.0 207.6 278.4 209.6 278.0 211.1 278.5 212.1 277.8 212.6 276.6 215.1 268.3 216.1 269.7 218.6 278.6 222.6 283.4 223.6 280.8 226.1 262.6 227.1 260.3 228.1 263.3 231.1 282.0 232.1 284.6 232.6 284.5 233.1 283.4 236.1 268.6 236.6 268.8 237.1 270.1 239.1 277.8 240.1 278.7 243.1 276.5 245.6 273.2 246.6 272.8 249.1 275.8 250.1 276.4 253.1 275.8 256.1 274.1 259.6 276.2 261.1 276.6 262.1 276.1 265.1 272.6 268.1 276.1 269.1 276.6 270.6 276.2 273.6 274.1 276.6 275.6 281.6 275.8 284.6 273.6 287.6 275.9 288.6 276.1 293.6 274.3 297.6 275.7 302.1 274.6 305.1 275.4 322.1 274.9 325.6 275.3 356.6 275.3 359.6 274.8 366.1 275.4 369.6 274.6 373.1 275.4 441.1 275.3 443.6 274.8 446.1 275.3 456.6 275.4 459.6 274.6 462.1 275.4 484.6 275.2" fill="none" stroke="#4a4a4a" stroke-width="0.85"/></g>
<text x="178.4" y="285.5" font-size="10.5" font-family="Liberation Serif" font-weight="bold" font-style="italic" text-anchor="start" fill="#000" textLength="58" lengthAdjust="spacingAndGlyphs" >Source= -5.0 ft</text>
<rect x="3" y="301" width="333" height="350.6" fill="none" stroke="#000" stroke-width="2.2"/>
<text x="14.4" y="334.7" font-size="11" font-family="Liberation Sans" font-weight="bold" text-anchor="start" fill="#333" textLength="78" lengthAdjust="spacingAndGlyphs" >Source= 18.0m</text>
<text x="163.4" y="335.4" font-size="10.7" font-family="Liberation Sans" font-weight="bold" text-anchor="start" fill="#333" textLength="102.7" lengthAdjust="spacingAndGlyphs" >Phase velocity (m/s)</text>
<text x="58" y="345.6" font-size="9.3" font-family="Liberation Sans" text-anchor="middle" fill="#555" >0</text>
<text x="123" y="345.6" font-size="9.3" font-family="Liberation Sans" text-anchor="middle" fill="#555" >200</text>
<text x="188.2" y="345.6" font-size="9.3" font-family="Liberation Sans" text-anchor="middle" fill="#555" >400</text>
<text x="252.8" y="345.6" font-size="9.3" font-family="Liberation Sans" text-anchor="middle" fill="#555" >600</text>
<text x="318.9" y="345.6" font-size="9.3" font-family="Liberation Sans" text-anchor="middle" fill="#555" >800</text>
<rect x="55.1" y="348.4" width="260.4" height="277.6" fill="none" stroke="#999" stroke-width="1"/>
<text x="47.5" y="361.5" font-size="9.2" font-family="Liberation Sans" text-anchor="end" fill="#555" >0</text>
<text x="47.5" y="370.19" font-size="9.2" font-family="Liberation Sans" text-anchor="end" fill="#555" >2</text>
<text x="47.5" y="378.88" font-size="9.2" font-family="Liberation Sans" text-anchor="end" fill="#555" >4</text>
<text x="47.5" y="387.57" font-size="9.2" font-family="Liberation Sans" text-anchor="end" fill="#555" >6</text>
<text x="47.5" y="396.26" font-size="9.2" font-family="Liberation Sans" text-anchor="end" fill="#555" >8</text>
<text x="47.5" y="404.95" font-size="9.2" font-family="Liberation Sans" text-anchor="end" fill="#555" >10</text>
<text x="47.5" y="413.64" font-size="9.2" font-family="Liberation Sans" text-anchor="end" fill="#555" >12</text>
<text x="47.5" y="422.33" font-size="9.2" font-family="Liberation Sans" text-anchor="end" fill="#555" >14</text>
<text x="47.5" y="431.02" font-size="9.2" font-family="Liberation Sans" text-anchor="end" fill="#555" >16</text>
<text x="47.5" y="439.71" font-size="9.2" font-family="Liberation Sans" text-anchor="end" fill="#555" >18</text>
<text x="47.5" y="448.4" font-size="9.2" font-family="Liberation Sans" text-anchor="end" fill="#555" >20</text>
<text x="47.5" y="457.09" font-size="9.2" font-family="Liberation Sans" text-anchor="end" fill="#555" >22</text>
<text x="47.5" y="465.78000000000003" font-size="9.2" font-family="Liberation Sans" text-anchor="end" fill="#555" >24</text>
<text x="47.5" y="474.46999999999997" font-size="9.2" font-family="Liberation Sans" text-anchor="end" fill="#555" >26</text>
<text x="47.5" y="483.16" font-size="9.2" font-family="Liberation Sans" text-anchor="end" fill="#555" >28</text>
<text x="47.5" y="491.84999999999997" font-size="9.2" font-family="Liberation Sans" text-anchor="end" fill="#555" >30</text>
<text x="47.5" y="500.54" font-size="9.2" font-family="Liberation Sans" text-anchor="end" fill="#555" >32</text>
<text x="47.5" y="509.22999999999996" font-size="9.2" font-family="Liberation Sans" text-anchor="end" fill="#555" >34</text>
<text x="47.5" y="517.9200000000001" font-size="9.2" font-family="Liberation Sans" text-anchor="end" fill="#555" >36</text>
<text x="47.5" y="526.61" font-size="9.2" font-family="Liberation Sans" text-anchor="end" fill="#555" >38</text>
<text x="47.5" y="535.3000000000001" font-size="9.2" font-family="Liberation Sans" text-anchor="end" fill="#555" >40</text>
<text x="47.5" y="543.99" font-size="9.2" font-family="Liberation Sans" text-anchor="end" fill="#555" >42</text>
<text x="47.5" y="552.6800000000001" font-size="9.2" font-family="Liberation Sans" text-anchor="end" fill="#555" >44</text>
<text x="47.5" y="561.37" font-size="9.2" font-family="Liberation Sans" text-anchor="end" fill="#555" >46</text>
<text x="47.5" y="570.0600000000001" font-size="9.2" font-family="Liberation Sans" text-anchor="end" fill="#555" >48</text>
<text x="47.5" y="578.75" font-size="9.2" font-family="Liberation Sans" text-anchor="end" fill="#555" >50</text>
<text x="47.5" y="587.44" font-size="9.2" font-family="Liberation Sans" text-anchor="end" fill="#555" >52</text>
<text x="47.5" y="596.1300000000001" font-size="9.2" font-family="Liberation Sans" text-anchor="end" fill="#555" >54</text>
<text x="47.5" y="604.82" font-size="9.2" font-family="Liberation Sans" text-anchor="end" fill="#555" >56</text>
<text x="47.5" y="613.51" font-size="9.2" font-family="Liberation Sans" text-anchor="end" fill="#555" >58</text>
<text x="47.5" y="622.2" font-size="9.2" font-family="Liberation Sans" text-anchor="end" fill="#555" >60</text>
<text transform="translate(20.3,485) rotate(-90)" font-size="9" font-family="Liberation Sans" text-anchor="middle" fill="#444" textLength="56" lengthAdjust="spacingAndGlyphs">Frequency (Hz)</text>
<text x="5.4" y="645.2" font-size="22.5" font-family="Liberation Serif" font-weight="bold" text-anchor="start" fill="#000" textLength="28.3" lengthAdjust="spacingAndGlyphs" >(B)</text>
<text x="55.3" y="642.5" font-size="11.3" font-family="Liberation Sans" text-anchor="start" fill="#222" textLength="183" lengthAdjust="spacingAndGlyphs" >Dispersion curve : cmp_001800.sg2</text>
<defs>
<clipPath id="bclip"><rect x="55.1" y="356.5" width="226.9" height="259.5"/></clipPath>
<filter id="bblur" x="-5%" y="-5%" width="110%" height="110%"><feGaussianBlur stdDeviation="1.1"/></filter>
<filter id="bblur2" x="-20%" y="-20%" width="140%" height="140%"><feGaussianBlur stdDeviation="1.8"/></filter>
<linearGradient id="bband" gradientUnits="userSpaceOnUse" x1="0" y1="356.5" x2="0" y2="616.0">
<stop offset="0.0000" stop-color="#c8f000"/>
<stop offset="0.0081" stop-color="#c8f000"/>
<stop offset="0.0119" stop-color="#ff1050"/>
<stop offset="0.0212" stop-color="#ff2a20"/>
<stop offset="0.0289" stop-color="#ff3010"/>
<stop offset="0.0405" stop-color="#ff2000"/>
<stop offset="0.0559" stop-color="#ff3400"/>
<stop offset="0.0674" stop-color="#ff1a50"/>
<stop offset="0.0751" stop-color="#ff1080"/>
<stop offset="0.0867" stop-color="#ff10c0"/>
<stop offset="0.0983" stop-color="#ff10b0"/>
<stop offset="0.1079" stop-color="#ff2040"/>
<stop offset="0.1175" stop-color="#ff6000"/>
<stop offset="0.1241" stop-color="#ff9a00"/>
<stop offset="0.1303" stop-color="#f0e000"/>
<stop offset="0.1380" stop-color="#c8f000"/>
<stop offset="0.1522" stop-color="#a8f000"/>
<stop offset="0.1657" stop-color="#c8f000"/>
<stop offset="0.1734" stop-color="#f0f000"/>
<stop offset="0.1811" stop-color="#ffb000"/>
<stop offset="0.1869" stop-color="#ff6000"/>
<stop offset="0.1946" stop-color="#ff1a60"/>
<stop offset="0.2062" stop-color="#ff1090"/>
<stop offset="0.2177" stop-color="#ff10a0"/>
<stop offset="0.2254" stop-color="#ff2030"/>
<stop offset="0.2331" stop-color="#ff4010"/>
<stop offset="0.2428" stop-color="#ff8a00"/>
<stop offset="0.2524" stop-color="#ffc800"/>
<stop offset="0.2659" stop-color="#ffd800"/>
<stop offset="0.2755" stop-color="#ffa000"/>
<stop offset="0.2832" stop-color="#ff5000"/>
<stop offset="0.2929" stop-color="#ff2010"/>
<stop offset="0.3064" stop-color="#ff1840"/>
<stop offset="0.3160" stop-color="#ff3020"/>
<stop offset="0.3237" stop-color="#ffa000"/>
<stop offset="0.3314" stop-color="#ffc000"/>
<stop offset="0.3391" stop-color="#ff9000"/>
<stop offset="0.3487" stop-color="#ff3020"/>
<stop offset="0.3603" stop-color="#ff1850"/>
<stop offset="0.3680" stop-color="#ff10c0"/>
<stop offset="0.3830" stop-color="#ff1448"/>
<stop offset="0.3985" stop-color="#ff10b0"/>
<stop offset="0.4173" stop-color="#ff10c0"/>
<stop offset="0.4339" stop-color="#ff10c8"/>
<stop offset="0.4513" stop-color="#ff1660"/>
<stop offset="0.4659" stop-color="#ff10c0"/>
<stop offset="0.4921" stop-color="#ff10b0"/>
<stop offset="0.5164" stop-color="#ff10b0"/>
<stop offset="0.5341" stop-color="#ff1a30"/>
<stop offset="0.5572" stop-color="#ff10b0"/>
<stop offset="0.5719" stop-color="#ff1660"/>
<stop offset="0.5946" stop-color="#ff10c0"/>
<stop offset="0.6104" stop-color="#ff1448"/>
<stop offset="0.6250" stop-color="#ff10c8"/>
<stop offset="0.6501" stop-color="#ff1a30"/>
<stop offset="0.6674" stop-color="#ff10c8"/>
<stop offset="0.6852" stop-color="#ff1660"/>
<stop offset="0.7010" stop-color="#ff10c0"/>
<stop offset="0.7187" stop-color="#ff1448"/>
<stop offset="0.7353" stop-color="#ff10b0"/>
<stop offset="0.7595" stop-color="#ff1a30"/>
<stop offset="0.7792" stop-color="#ff10c8"/>
<stop offset="0.8000" stop-color="#ff1660"/>
<stop offset="0.8181" stop-color="#ff1448"/>
<stop offset="0.8324" stop-color="#ff1660"/>
<stop offset="0.8543" stop-color="#ff10b0"/>
<stop offset="0.8724" stop-color="#ff1a30"/>
<stop offset="0.8906" stop-color="#ff10c8"/>
<stop offset="0.9160" stop-color="#ff1660"/>
<stop offset="0.9303" stop-color="#ff10c0"/>
<stop offset="0.9541" stop-color="#ff1448"/>
<stop offset="0.9711" stop-color="#ff10b0"/>
<stop offset="0.9869" stop-color="#ff1a30"/>
<stop offset="1.0000" stop-color="#ff10c0"/>
</linearGradient>
<linearGradient id="bleft" gradientUnits="userSpaceOnUse" x1="55.1" y1="0" x2="92" y2="0"><stop offset="0" stop-color="#ff1880"/><stop offset="0.15" stop-color="#ff10b0"/><stop offset="0.3" stop-color="#ff10d0"/><stop offset="0.62" stop-color="#ff10d0"/><stop offset="0.8" stop-color="#ff1a70"/><stop offset="1" stop-color="#ff2a40"/></linearGradient>
</defs>
<g clip-path="url(#bclip)">
<g filter="url(#bblur)">
<rect x="50.1" y="356.5" width="236.9" height="264.5" fill="url(#bband)"/>
<ellipse cx="201.4" cy="512.5" rx="13.0" ry="2.1" fill="#ff10b0"/>
<ellipse cx="180.8" cy="527.1" rx="10.2" ry="2.0" fill="#ff1040"/>
<ellipse cx="226.7" cy="458.6" rx="12.6" ry="2.5" fill="#ff2a20"/>
<ellipse cx="282.0" cy="520.5" rx="14.4" ry="1.4" fill="#ff10b0"/>
<ellipse cx="208.5" cy="601.7" rx="9.7" ry="2.2" fill="#ff1040"/>
<ellipse cx="255.3" cy="595.7" rx="13.5" ry="1.5" fill="#ff1838"/>
<ellipse cx="255.8" cy="596.1" rx="32.6" ry="1.8" fill="#ff1838"/>
<ellipse cx="181.4" cy="459.0" rx="31.7" ry="1.3" fill="#ff10c8"/>
<ellipse cx="187.5" cy="531.7" rx="14.4" ry="2.2" fill="#ff10c8"/>
<ellipse cx="265.4" cy="608.2" rx="11.3" ry="2.0" fill="#ff10c8"/>
<ellipse cx="272.7" cy="484.9" rx="32.1" ry="1.4" fill="#ff10c8"/>
<ellipse cx="276.4" cy="533.1" rx="21.4" ry="2.5" fill="#ff1040"/>
<ellipse cx="194.3" cy="516.5" rx="26.9" ry="1.4" fill="#ff10c8"/>
<ellipse cx="280.1" cy="568.6" rx="9.5" ry="2.0" fill="#ff10c8"/>
<ellipse cx="225.1" cy="476.2" rx="27.9" ry="2.0" fill="#ff1838"/>
<ellipse cx="130.6" cy="592.7" rx="33.7" ry="1.5" fill="#ff2a20"/>
<ellipse cx="225.8" cy="459.0" rx="30.8" ry="1.9" fill="#ff1838"/>
<ellipse cx="218.3" cy="563.4" rx="11.0" ry="2.4" fill="#ff1838"/>
<ellipse cx="185.3" cy="486.0" rx="34.6" ry="2.0" fill="#ff10b0"/>
<ellipse cx="128.0" cy="581.5" rx="8.0" ry="1.4" fill="#ff1838"/>
<ellipse cx="161.6" cy="495.7" rx="16.3" ry="1.6" fill="#ff10c8"/>
<ellipse cx="210.4" cy="460.9" rx="29.1" ry="2.3" fill="#ff2a20"/>
<ellipse cx="207.1" cy="566.9" rx="23.3" ry="1.3" fill="#ff10b0"/>
<ellipse cx="231.9" cy="467.5" rx="21.8" ry="2.5" fill="#ff2a20"/>
<ellipse cx="217.5" cy="474.5" rx="12.6" ry="2.4" fill="#ff1838"/>
<ellipse cx="167.7" cy="460.2" rx="15.1" ry="1.4" fill="#ff10b0"/>
<ellipse cx="144.8" cy="476.0" rx="9.6" ry="1.5" fill="#ff10c8"/>
<ellipse cx="189.2" cy="551.1" rx="15.7" ry="1.9" fill="#ff1838"/>
<ellipse cx="170.8" cy="607.8" rx="16.0" ry="1.4" fill="#ff1040"/>
<ellipse cx="194.3" cy="475.1" rx="28.6" ry="1.7" fill="#ff1040"/>
<ellipse cx="271.4" cy="479.4" rx="28.8" ry="2.4" fill="#ff1838"/>
<ellipse cx="206.6" cy="468.1" rx="15.5" ry="1.4" fill="#ff10c8"/>
<ellipse cx="256.7" cy="584.9" rx="29.1" ry="1.5" fill="#ff10b0"/>
<ellipse cx="127.1" cy="480.5" rx="24.0" ry="2.0" fill="#ff2a20"/>
<ellipse cx="138.7" cy="540.9" rx="33.6" ry="1.9" fill="#ff1040"/>
<ellipse cx="280.3" cy="456.7" rx="32.0" ry="2.0" fill="#ff1040"/>
<ellipse cx="211.4" cy="539.0" rx="31.7" ry="2.0" fill="#ff10c8"/>
<ellipse cx="282.6" cy="462.4" rx="27.5" ry="1.3" fill="#ff10b0"/>
<ellipse cx="240.4" cy="525.5" rx="32.0" ry="2.2" fill="#ff2a20"/>
<ellipse cx="237.0" cy="456.7" rx="31.7" ry="1.5" fill="#ff10b0"/>
<ellipse cx="260.8" cy="570.2" rx="21.4" ry="1.5" fill="#ff1040"/>
<ellipse cx="227.7" cy="465.7" rx="26.3" ry="1.8" fill="#ff10c8"/>
<ellipse cx="136.4" cy="482.6" rx="28.3" ry="1.3" fill="#ff1040"/>
<ellipse cx="129.9" cy="553.2" rx="22.5" ry="1.2" fill="#ff1040"/>
<ellipse cx="253.0" cy="506.1" rx="8.2" ry="2.5" fill="#ff1838"/>
<ellipse cx="222.4" cy="610.2" rx="30.5" ry="1.3" fill="#ff2a20"/>
<ellipse cx="182.5" cy="489.5" rx="13.2" ry="1.5" fill="#ff10b0"/>
<ellipse cx="143.3" cy="471.5" rx="18.1" ry="2.2" fill="#ff10c8"/>
<ellipse cx="202.1" cy="536.6" rx="31.6" ry="1.3" fill="#ff1838"/>
<ellipse cx="125.9" cy="575.7" rx="8.4" ry="1.6" fill="#ff10b0"/>
<ellipse cx="225.8" cy="607.6" rx="29.6" ry="1.3" fill="#ff1040"/>
<ellipse cx="166.5" cy="590.0" rx="31.6" ry="2.1" fill="#ff1040"/>
<ellipse cx="237.4" cy="473.4" rx="29.6" ry="2.6" fill="#ff10c8"/>
<ellipse cx="254.7" cy="598.1" rx="31.7" ry="2.5" fill="#ff10c8"/>
<ellipse cx="284.6" cy="467.3" rx="19.9" ry="1.8" fill="#ff1838"/>
<ellipse cx="178.1" cy="543.3" rx="19.6" ry="1.3" fill="#ff2a20"/>
<ellipse cx="174.6" cy="527.6" rx="20.3" ry="1.7" fill="#ff1040"/>
<ellipse cx="179.4" cy="461.5" rx="12.6" ry="2.0" fill="#ff10c8"/>
<ellipse cx="156.1" cy="567.3" rx="33.5" ry="1.3" fill="#ff10b0"/>
<ellipse cx="285.9" cy="607.9" rx="28.6" ry="2.4" fill="#ff1040"/>
<ellipse cx="246.0" cy="486.2" rx="28.8" ry="1.3" fill="#ff1040"/>
<ellipse cx="235.5" cy="520.3" rx="31.4" ry="1.7" fill="#ff10b0"/>
<ellipse cx="262.5" cy="535.3" rx="20.5" ry="1.2" fill="#ff10c8"/>
<ellipse cx="276.4" cy="485.2" rx="8.3" ry="2.5" fill="#ff10b0"/>
<ellipse cx="131.9" cy="476.2" rx="26.7" ry="1.9" fill="#ff10b0"/>
<ellipse cx="255.3" cy="517.4" rx="18.5" ry="2.0" fill="#ff2a20"/>
<ellipse cx="268.3" cy="534.4" rx="17.7" ry="1.6" fill="#ff1838"/>
<ellipse cx="177.9" cy="514.4" rx="29.6" ry="2.3" fill="#ff10b0"/>
<ellipse cx="154.4" cy="479.8" rx="26.5" ry="1.2" fill="#ff1838"/>
<ellipse cx="204.0" cy="592.2" rx="32.5" ry="2.3" fill="#ff2a20"/>
<ellipse cx="147.6" cy="464.3" rx="9.3" ry="2.2" fill="#ff7a00"/>
<ellipse cx="140.9" cy="464.5" rx="8.1" ry="1.8" fill="#ff3a20"/>
<ellipse cx="167.3" cy="515.4" rx="10.2" ry="1.7" fill="#ff5010"/>
<ellipse cx="196.4" cy="504.5" rx="6.2" ry="1.4" fill="#ff7a00"/>
<ellipse cx="167.1" cy="513.7" rx="9.6" ry="2.0" fill="#ff5010"/>
<ellipse cx="168.9" cy="455.7" rx="14.0" ry="2.1" fill="#ff3a20"/>
<ellipse cx="179.5" cy="487.3" rx="8.4" ry="2.0" fill="#ff5010"/>
<ellipse cx="191.8" cy="483.4" rx="13.7" ry="1.8" fill="#ff3a20"/>
<ellipse cx="194.1" cy="517.7" rx="13.0" ry="1.5" fill="#ff5010"/>
<ellipse cx="145.8" cy="485.5" rx="6.7" ry="1.7" fill="#ff3a20"/>
<ellipse cx="195.2" cy="490.1" rx="7.0" ry="2.2" fill="#ff3a20"/>
<ellipse cx="130.0" cy="501.6" rx="10.2" ry="1.4" fill="#ff3a20"/>
<ellipse cx="187.9" cy="473.4" rx="8.0" ry="1.6" fill="#ff5010"/>
<ellipse cx="133.5" cy="508.4" rx="9.1" ry="2.2" fill="#ff5010"/>
<ellipse cx="131.0" cy="466.2" rx="12.9" ry="1.9" fill="#ff5010"/>
<ellipse cx="173.9" cy="506.7" rx="8.4" ry="2.0" fill="#ff3a20"/>
<ellipse cx="191.7" cy="487.6" rx="5.3" ry="2.2" fill="#ff7a00"/>
<ellipse cx="138.1" cy="482.0" rx="6.6" ry="2.0" fill="#ff3a20"/>
<linearGradient id="bredge" gradientUnits="userSpaceOnUse" x1="101" y1="0" x2="124" y2="0"><stop offset="0" stop-color="#ff3a20"/><stop offset="0.5" stop-color="#ff3a20"/><stop offset="1" stop-color="#ff3a20" stop-opacity="0"/></linearGradient>
<rect x="101" y="445" width="23" height="175" fill="url(#bredge)"/>
<ellipse cx="111.1" cy="454.4" rx="3.5" ry="6.4" fill="#ffc000"/>
<ellipse cx="111.2" cy="468.0" rx="4.5" ry="5.2" fill="#ffd800"/>
<ellipse cx="109.9" cy="483.5" rx="4.2" ry="6.4" fill="#ff7000"/>
<ellipse cx="112.3" cy="495.3" rx="3.0" ry="3.6" fill="#ff7000"/>
<ellipse cx="113.6" cy="504.6" rx="3.2" ry="3.6" fill="#ff7000"/>
<ellipse cx="111.3" cy="516.7" rx="2.6" ry="5.0" fill="#ff9000"/>
<ellipse cx="109.3" cy="530.0" rx="3.0" ry="4.4" fill="#ffc000"/>
<ellipse cx="111.3" cy="544.5" rx="3.9" ry="5.5" fill="#ffd800"/>
<ellipse cx="113.7" cy="557.9" rx="2.6" ry="6.7" fill="#ff7000"/>
<ellipse cx="110.2" cy="573.7" rx="3.8" ry="5.8" fill="#ff7000"/>
<ellipse cx="111.1" cy="589.1" rx="3.3" ry="5.1" fill="#ffb000"/>
<ellipse cx="110.7" cy="601.8" rx="3.1" ry="6.0" fill="#ffd800"/>
<ellipse cx="108.3" cy="617.8" rx="3.2" ry="5.9" fill="#ffc000"/>
<path d="M55 357 L150 388 L118 393 L100 405 L90 410 Z" fill="#ff2a30"/>
<path d="M62 359 L110 375 L90 380 Z" fill="#ff10d0"/>
<path d="M95 378 L150 388 L125 392 L104 396 L96 392 Z" fill="#ff7a00"/>
<path d="M110 386 L150 388 L128 392 L108 394 Z" fill="#ffc000"/>
<path d="M55.1 358 L100 402 L92 412 L90 440 L88 616 L55.1 616 Z" fill="url(#bleft)"/>
<ellipse cx="57.4" cy="367.2" rx="0.7" ry="1.6" fill="#ffb000"/>
<ellipse cx="57.5" cy="376.7" rx="0.7" ry="1.2" fill="#ff9000"/>
<ellipse cx="57.1" cy="384.6" rx="0.7" ry="1.2" fill="#ffb000"/>
<ellipse cx="57.8" cy="390.6" rx="0.7" ry="1.8" fill="#ff9000"/>
<ellipse cx="57.8" cy="399.3" rx="0.7" ry="1.4" fill="#ffb000"/>
<ellipse cx="58.2" cy="407.4" rx="0.7" ry="1.2" fill="#ffd000"/>
<ellipse cx="57.7" cy="412.4" rx="0.7" ry="1.0" fill="#ffd000"/>
<ellipse cx="58.2" cy="421.2" rx="0.7" ry="1.3" fill="#ff9000"/>
<ellipse cx="56.5" cy="429.2" rx="0.7" ry="1.6" fill="#ffb000"/>
<ellipse cx="58.5" cy="435.5" rx="0.7" ry="1.7" fill="#ffb000"/>
<ellipse cx="57.0" cy="446.4" rx="0.7" ry="1.8" fill="#ff9000"/>
<ellipse cx="56.6" cy="456.1" rx="0.7" ry="1.5" fill="#ffd000"/>
<ellipse cx="57.3" cy="465.3" rx="0.7" ry="1.4" fill="#ffb000"/>
<ellipse cx="56.9" cy="475.9" rx="0.7" ry="1.8" fill="#ffd000"/>
<ellipse cx="58.5" cy="485.9" rx="0.7" ry="1.1" fill="#ffb000"/>
<ellipse cx="56.9" cy="492.5" rx="0.7" ry="1.1" fill="#ff9000"/>
<ellipse cx="57.2" cy="500.8" rx="0.7" ry="1.3" fill="#ffb000"/>
<ellipse cx="56.8" cy="511.2" rx="0.7" ry="1.8" fill="#ffd000"/>
<ellipse cx="58.1" cy="520.0" rx="0.7" ry="1.0" fill="#ffb000"/>
<ellipse cx="57.5" cy="526.0" rx="0.7" ry="1.6" fill="#ffb000"/>
<ellipse cx="57.8" cy="536.7" rx="0.7" ry="1.8" fill="#ffb000"/>
<ellipse cx="56.5" cy="543.0" rx="0.7" ry="1.4" fill="#ffd000"/>
<ellipse cx="57.1" cy="553.2" rx="0.7" ry="2.0" fill="#ff9000"/>
<ellipse cx="58.5" cy="563.3" rx="0.7" ry="1.2" fill="#ffb000"/>
<ellipse cx="58.5" cy="571.6" rx="0.7" ry="1.6" fill="#ffd000"/>
<ellipse cx="57.2" cy="578.0" rx="0.7" ry="1.3" fill="#ff9000"/>
<ellipse cx="56.9" cy="584.3" rx="0.7" ry="1.1" fill="#ffd000"/>
<ellipse cx="57.2" cy="592.1" rx="0.7" ry="1.0" fill="#ffb000"/>
<ellipse cx="58.2" cy="599.8" rx="0.7" ry="2.0" fill="#ffb000"/>
<ellipse cx="56.8" cy="606.4" rx="0.7" ry="1.4" fill="#ff9000"/>
<ellipse cx="61.8" cy="369.9" rx="0.7" ry="1.4" fill="#ffc000"/>
<ellipse cx="63.4" cy="381.0" rx="0.7" ry="1.8" fill="#ff6010"/>
<ellipse cx="61.6" cy="394.4" rx="0.7" ry="1.9" fill="#ff9000"/>
<ellipse cx="62.0" cy="402.4" rx="0.7" ry="1.8" fill="#ff9000"/>
<ellipse cx="62.5" cy="414.0" rx="0.7" ry="1.4" fill="#ff6010"/>
<ellipse cx="61.8" cy="424.9" rx="0.7" ry="2.4" fill="#ffc000"/>
<ellipse cx="62.7" cy="436.1" rx="0.7" ry="2.0" fill="#ff6010"/>
<ellipse cx="63.0" cy="445.9" rx="0.7" ry="2.4" fill="#ffc000"/>
<ellipse cx="61.6" cy="453.9" rx="0.7" ry="1.6" fill="#ffc000"/>
<ellipse cx="63.4" cy="461.8" rx="0.7" ry="1.6" fill="#ff6010"/>
<ellipse cx="63.5" cy="468.7" rx="0.7" ry="1.2" fill="#ff9000"/>
<ellipse cx="63.4" cy="480.1" rx="0.7" ry="2.0" fill="#ff6010"/>
<ellipse cx="63.3" cy="492.1" rx="0.7" ry="2.4" fill="#ff9000"/>
<ellipse cx="62.7" cy="505.3" rx="0.7" ry="2.4" fill="#ffc000"/>
<ellipse cx="62.1" cy="512.9" rx="0.7" ry="1.1" fill="#ff9000"/>
<ellipse cx="62.2" cy="525.6" rx="0.7" ry="1.1" fill="#ff6010"/>
<ellipse cx="62.9" cy="533.0" rx="0.7" ry="2.4" fill="#ff6010"/>
<ellipse cx="61.7" cy="546.8" rx="0.7" ry="2.4" fill="#ff9000"/>
<ellipse cx="63.4" cy="557.1" rx="0.7" ry="1.1" fill="#ff9000"/>
<ellipse cx="62.7" cy="563.7" rx="0.7" ry="1.7" fill="#ffc000"/>
<ellipse cx="61.6" cy="573.5" rx="0.7" ry="1.9" fill="#ff6010"/>
<ellipse cx="63.3" cy="580.6" rx="0.7" ry="1.2" fill="#ff9000"/>
<ellipse cx="62.9" cy="592.0" rx="0.7" ry="1.6" fill="#ff6010"/>
<ellipse cx="61.7" cy="602.0" rx="0.7" ry="1.7" fill="#ff6010"/>
<ellipse cx="61.7" cy="613.5" rx="0.7" ry="1.0" fill="#ff6010"/>
<ellipse cx="83.8" cy="374.3" rx="1.3" ry="4.7" fill="#ff5010"/>
<ellipse cx="83.1" cy="392.3" rx="1.3" ry="9.4" fill="#ff2040"/>
<ellipse cx="84.0" cy="411.6" rx="1.3" ry="5.2" fill="#ff3030"/>
<ellipse cx="84.3" cy="429.8" rx="1.3" ry="9.6" fill="#ff2040"/>
<ellipse cx="83.8" cy="450.7" rx="1.3" ry="8.0" fill="#ff3030"/>
<ellipse cx="84.3" cy="472.4" rx="1.3" ry="8.5" fill="#ff3030"/>
<ellipse cx="82.9" cy="492.0" rx="1.3" ry="7.5" fill="#ff2040"/>
<ellipse cx="83.9" cy="508.1" rx="1.3" ry="6.1" fill="#ff3030"/>
<ellipse cx="82.7" cy="525.7" rx="1.3" ry="5.7" fill="#ff3030"/>
<ellipse cx="83.3" cy="544.8" rx="1.3" ry="9.6" fill="#ff2040"/>
<ellipse cx="84.2" cy="566.5" rx="1.3" ry="8.0" fill="#ff5010"/>
<ellipse cx="84.2" cy="587.1" rx="1.3" ry="6.7" fill="#ff3030"/>
<ellipse cx="83.9" cy="604.6" rx="1.3" ry="7.6" fill="#ff5010"/>
<ellipse cx="88.3" cy="371.4" rx="1.2" ry="7.0" fill="#ff5010"/>
<ellipse cx="87.5" cy="386.9" rx="1.2" ry="3.9" fill="#ff8000"/>
<ellipse cx="87.2" cy="397.3" rx="1.2" ry="3.2" fill="#ff3020"/>
<ellipse cx="88.6" cy="409.2" rx="1.2" ry="5.7" fill="#ff3020"/>
<ellipse cx="88.6" cy="428.6" rx="1.2" ry="6.4" fill="#ff5010"/>
<ellipse cx="88.1" cy="445.4" rx="1.2" ry="6.6" fill="#ff8000"/>
<ellipse cx="88.1" cy="458.8" rx="1.2" ry="4.1" fill="#ff8000"/>
<ellipse cx="87.8" cy="475.6" rx="1.2" ry="5.5" fill="#ff5010"/>
<ellipse cx="87.8" cy="495.1" rx="1.2" ry="7.5" fill="#ff5010"/>
<ellipse cx="87.9" cy="514.6" rx="1.2" ry="4.9" fill="#ff8000"/>
<ellipse cx="88.1" cy="532.7" rx="1.2" ry="7.5" fill="#ff8000"/>
<ellipse cx="87.9" cy="551.5" rx="1.2" ry="5.5" fill="#ff8000"/>
<ellipse cx="88.7" cy="566.8" rx="1.2" ry="4.0" fill="#ff3020"/>
<ellipse cx="87.4" cy="584.9" rx="1.2" ry="7.6" fill="#ff5010"/>
<ellipse cx="88.1" cy="607.5" rx="1.2" ry="7.9" fill="#ff8000"/>
<ellipse cx="70.7" cy="371.2" rx="1.0" ry="6.6" fill="#ff2a60"/>
<ellipse cx="71.5" cy="390.8" rx="1.0" ry="4.8" fill="#ff3050"/>
<ellipse cx="70.9" cy="412.5" rx="1.0" ry="3.1" fill="#ff2a60"/>
<ellipse cx="70.9" cy="428.2" rx="1.0" ry="5.1" fill="#ff2a60"/>
<ellipse cx="71.9" cy="460.9" rx="1.0" ry="6.6" fill="#ff3050"/>
<ellipse cx="71.5" cy="488.2" rx="1.0" ry="6.8" fill="#ff2a60"/>
<ellipse cx="71.0" cy="513.4" rx="1.0" ry="5.2" fill="#ff2a60"/>
<ellipse cx="71.3" cy="542.7" rx="1.0" ry="5.2" fill="#ff3050"/>
<ellipse cx="70.6" cy="574.8" rx="1.0" ry="6.5" fill="#ff2a60"/>
<ellipse cx="71.1" cy="595.4" rx="1.0" ry="5.2" fill="#ff3050"/>
<ellipse cx="71.2" cy="615.6" rx="1.0" ry="5.1" fill="#ff2a60"/>
<linearGradient id="bul" gradientUnits="userSpaceOnUse" x1="0" y1="358" x2="0" y2="470"><stop offset="0" stop-color="#ff2050" stop-opacity="0.8"/><stop offset="0.45" stop-color="#ff2050" stop-opacity="0.7"/><stop offset="1" stop-color="#ff2050" stop-opacity="0"/></linearGradient>
<path d="M55.5 358 L100 402 L95 410 L92 425 L90 470 L55.5 470 Z" fill="url(#bul)"/>
<ellipse cx="61.5" cy="375" rx="1.6" ry="14" fill="#ffc000"/>
<ellipse cx="59" cy="395" rx="1.2" ry="6" fill="#ff9000"/>
<ellipse cx="66" cy="368" rx="2" ry="4" fill="#ff6010"/>
<ellipse cx="70" cy="382" rx="2" ry="5" fill="#ff5020"/>
<ellipse cx="76" cy="392" rx="2.2" ry="6" fill="#ff7010"/>
<ellipse cx="84" cy="400" rx="2" ry="5" fill="#ff8000"/>
<ellipse cx="88" cy="410" rx="2.5" ry="7" fill="#ffa000"/>
<ellipse cx="78" cy="410" rx="1.8" ry="5" fill="#ff4020"/>
<ellipse cx="68" cy="400" rx="1.6" ry="5" fill="#ff3030"/>
<ellipse cx="73" cy="420" rx="2" ry="6" fill="#ff5010"/>
<ellipse cx="83" cy="425" rx="2" ry="6" fill="#ff9000"/>
<path d="M62 360 L112 377 L92 382 Z" fill="#ff10d8"/>
<path d="M102.0 622.0 L102.2 580.0 L102.7 530.1 L103.9 480.1 L106.0 450.1 L109.3 435.5 L113.6 424.3 L117.6 422.7 L117.9 422.2 L120.9 418.3 L127.8 413.7 L141.1 410.7 L160.5 408.5 L190.2 406.0 L230.1 404.5 L290.0 403.8 L290.0 388.8 L229.9 388.5 L189.8 388.0 L159.5 387.5 L138.9 387.9 L122.2 389.3 L109.1 391.7 L98.1 395.8 L88.4 405.3 L87.0 419.7 L89.3 434.5 L92.0 449.9 L93.3 479.9 L92.9 529.9 L92.6 580.0 L92.4 622.0Z" fill="#ff7a00" stroke="#ff7a00" stroke-width="1.5" stroke-linejoin="round"/>
<path d="M101.2 622.0 L101.4 580.0 L101.9 530.0 L103.0 480.1 L105.0 450.1 L108.3 435.4 L112.6 424.2 L115.9 421.6 L116.7 420.6 L120.2 416.9 L127.4 412.2 L141.0 409.3 L160.4 407.0 L190.2 404.5 L230.0 403.0 L290.0 402.3 L290.0 390.3 L230.0 390.0 L189.8 389.5 L159.6 389.0 L139.0 389.3 L122.6 390.8 L109.8 393.1 L99.3 397.4 L90.1 406.4 L88.0 419.8 L90.3 434.6 L93.0 449.9 L94.2 479.9 L93.7 530.0 L93.4 580.0 L93.2 622.0Z" fill="#ffd400" stroke="#ffd400" stroke-width="1.5" stroke-linejoin="round"/>
<path d="M100.4 622.0 L100.6 580.0 L101.1 530.0 L102.1 480.1 L104.0 450.1 L107.3 435.4 L111.6 424.0 L114.6 420.9 L115.8 419.4 L119.6 415.5 L127.2 411.2 L140.9 408.3 L160.4 406.0 L190.1 403.5 L230.0 401.5 L290.0 400.8 L290.0 391.8 L230.0 391.5 L189.9 390.5 L159.6 390.0 L139.1 390.3 L122.8 391.8 L110.4 394.5 L100.2 398.6 L91.4 407.1 L89.0 420.0 L91.3 434.6 L94.0 449.9 L95.1 479.9 L94.5 530.0 L94.2 580.0 L94.0 622.0Z" fill="#c8f000" stroke="#c8f000" stroke-width="1.5" stroke-linejoin="round"/>
<path d="M99.7 622.0 L99.9 580.0 L100.4 530.0 L101.4 480.0 L103.0 450.1 L105.8 435.3 L109.7 423.6 L112.5 419.6 L114.3 417.4 L118.8 413.7 L126.9 409.8 L140.8 407.3 L160.3 404.5 L190.1 401.5 L230.0 398.0 L290.0 396.8 L290.0 395.8 L230.0 395.0 L189.9 392.5 L159.7 391.5 L139.2 391.3 L123.1 393.2 L111.2 396.3 L101.7 400.6 L93.5 408.4 L90.9 420.4 L92.8 434.7 L95.0 449.9 L95.8 480.0 L95.2 530.0 L94.9 580.0 L94.7 622.0Z" fill="#40f000" stroke="#40f000" stroke-width="1.5" stroke-linejoin="round"/>
<path d="M98.3 622.0 L98.5 580.0 L98.9 530.0 L99.9 480.0 L101.0 450.0 L102.3 435.1 L104.7 422.8 L107.7 416.8 L111.3 413.4 L117.0 409.6 L126.0 405.9 L140.4 403.3 L160.1 401.0 L190.0 398.5 L190.0 395.5 L159.9 395.0 L139.6 395.3 L124.0 397.1 L113.0 400.4 L104.7 404.6 L98.3 411.2 L95.9 421.2 L96.3 434.9 L97.0 450.0 L97.3 480.0 L96.7 530.0 L96.3 580.0 L96.1 622.0Z" fill="#10b050" stroke="#10b050" stroke-width="1.5" stroke-linejoin="round"/>
<path d="M97.7 622.0 L97.9 580.0 L98.3 530.0 L99.2 480.0 L100.0 450.0 L100.9 435.1 L102.7 422.4 L105.6 415.5 L109.9 411.6 L116.3 407.9 L125.5 403.8 L140.2 400.9 L139.8 397.7 L124.5 399.2 L113.7 402.1 L106.1 406.4 L100.4 412.5 L97.9 421.6 L97.7 434.9 L98.0 450.0 L98.0 480.0 L97.3 530.0 L96.9 580.0 L96.7 622.0Z" fill="#2040d0" stroke="#2040d0" stroke-width="1.5" stroke-linejoin="round"/>
</g>
<line x1="55.1" y1="356.8" x2="282" y2="422" stroke="#2a1a1a" stroke-width="1" opacity="0.85"/>
<line x1="55.1" y1="356.8" x2="282" y2="432" stroke="#2a1a1a" stroke-width="1" opacity="0.85"/>
<line x1="55.1" y1="356.8" x2="282" y2="510" stroke="#2a1a1a" stroke-width="1" opacity="0.85"/>
<line x1="55.1" y1="356.8" x2="93.8" y2="616" stroke="#8030d0" stroke-width="1" opacity="0.8"/>
<circle cx="125" cy="398.4" r="1.4" fill="#c83030" opacity="0.9"/>
<circle cx="144" cy="394.9" r="1.4" fill="#c83030" opacity="0.9"/>
<circle cx="164.5" cy="389.6" r="1.4" fill="#c83030" opacity="0.9"/>
<circle cx="183.4" cy="386.1" r="1.4" fill="#c83030" opacity="0.9"/>
<circle cx="202.4" cy="381.4" r="1.4" fill="#c83030" opacity="0.9"/>
<circle cx="116.3" cy="403.2" r="1.4" fill="#c83030" opacity="0.9"/>
<circle cx="112.4" cy="407.1" r="1.4" fill="#c83030" opacity="0.9"/>
<circle cx="104.1" cy="411.5" r="1.4" fill="#c83030" opacity="0.9"/>
<circle cx="100.1" cy="415.7" r="1.4" fill="#c83030" opacity="0.9"/>
<circle cx="99.0" cy="420.1" r="1.4" fill="#c83030" opacity="0.9"/>
<circle cx="99.0" cy="424.5" r="1.4" fill="#c83030" opacity="0.9"/>
<circle cx="99.0" cy="428.9" r="1.4" fill="#c83030" opacity="0.9"/>
<circle cx="99.0" cy="433.3" r="1.4" fill="#c83030" opacity="0.9"/>
<circle cx="99.0" cy="437.7" r="1.4" fill="#c83030" opacity="0.9"/>
<circle cx="99.0" cy="442.1" r="1.4" fill="#c83030" opacity="0.9"/>
<circle cx="99.0" cy="446.5" r="1.4" fill="#c83030" opacity="0.9"/>
<circle cx="99.0" cy="450.9" r="1.4" fill="#c83030" opacity="0.9"/>
<circle cx="99.0" cy="455.3" r="1.4" fill="#c83030" opacity="0.9"/>
<circle cx="99.0" cy="459.7" r="1.4" fill="#c83030" opacity="0.9"/>
<circle cx="99.0" cy="464.1" r="1.4" fill="#c83030" opacity="0.9"/>
<circle cx="99.0" cy="468.5" r="1.4" fill="#c83030" opacity="0.9"/>
<circle cx="99.0" cy="472.9" r="1.4" fill="#c83030" opacity="0.9"/>
<circle cx="99.0" cy="477.3" r="1.4" fill="#c83030" opacity="0.9"/>
<circle cx="99.0" cy="481.7" r="1.4" fill="#c83030" opacity="0.9"/>
<circle cx="99.0" cy="486.1" r="1.4" fill="#c83030" opacity="0.9"/>
<circle cx="99.0" cy="490.5" r="1.4" fill="#c83030" opacity="0.9"/>
<circle cx="99.0" cy="494.9" r="1.4" fill="#c83030" opacity="0.9"/>
<circle cx="99.0" cy="499.3" r="1.4" fill="#c83030" opacity="0.9"/>
<circle cx="99.0" cy="503.7" r="1.4" fill="#c83030" opacity="0.9"/>
<circle cx="99.0" cy="508.1" r="1.4" fill="#c83030" opacity="0.9"/>
<circle cx="99.0" cy="512.5" r="1.4" fill="#c83030" opacity="0.9"/>
<circle cx="99.0" cy="516.9" r="1.4" fill="#c83030" opacity="0.9"/>
<circle cx="99.0" cy="521.3" r="1.4" fill="#c83030" opacity="0.9"/>
<circle cx="99.0" cy="525.7" r="1.4" fill="#c83030" opacity="0.9"/>
<circle cx="99.0" cy="530.1" r="1.4" fill="#c83030" opacity="0.9"/>
<circle cx="99.0" cy="534.5" r="1.4" fill="#c83030" opacity="0.9"/>
<circle cx="99.0" cy="538.9" r="1.4" fill="#c83030" opacity="0.9"/>
<circle cx="99.0" cy="543.3" r="1.4" fill="#c83030" opacity="0.9"/>
<circle cx="99.0" cy="547.7" r="1.4" fill="#c83030" opacity="0.9"/>
<circle cx="99.0" cy="552.1" r="1.4" fill="#c83030" opacity="0.9"/>
<circle cx="99.0" cy="556.5" r="1.4" fill="#c83030" opacity="0.9"/>
<circle cx="99.0" cy="560.9" r="1.4" fill="#c83030" opacity="0.9"/>
<circle cx="99.0" cy="565.3" r="1.4" fill="#c83030" opacity="0.9"/>
<circle cx="99.0" cy="569.7" r="1.4" fill="#c83030" opacity="0.9"/>
<circle cx="99.0" cy="574.1" r="1.4" fill="#c83030" opacity="0.9"/>
<circle cx="99.0" cy="578.5" r="1.4" fill="#c83030" opacity="0.9"/>
<circle cx="99.0" cy="582.9" r="1.4" fill="#c83030" opacity="0.9"/>
<circle cx="99.0" cy="587.3" r="1.4" fill="#c83030" opacity="0.9"/>
<circle cx="99.0" cy="591.7" r="1.4" fill="#c83030" opacity="0.9"/>
<circle cx="99.0" cy="596.1" r="1.4" fill="#c83030" opacity="0.9"/>
<circle cx="99.0" cy="600.5" r="1.4" fill="#c83030" opacity="0.9"/>
<circle cx="99.0" cy="604.9" r="1.4" fill="#c83030" opacity="0.9"/>
<circle cx="99.0" cy="609.3" r="1.4" fill="#c83030" opacity="0.9"/>
<circle cx="99.0" cy="613.7" r="1.4" fill="#c83030" opacity="0.9"/>
</g>
<line x1="120.1" y1="348.4" x2="120.1" y2="356.5" stroke="#7aa0c8" stroke-width="1"/>
<line x1="120.1" y1="616" x2="120.1" y2="626" stroke="#7aa0c8" stroke-width="1"/>
<line x1="185.2" y1="348.4" x2="185.2" y2="356.5" stroke="#7aa0c8" stroke-width="1"/>
<line x1="185.2" y1="616" x2="185.2" y2="626" stroke="#7aa0c8" stroke-width="1"/>
<line x1="250.2" y1="348.4" x2="250.2" y2="356.5" stroke="#7aa0c8" stroke-width="1"/>
<line x1="250.2" y1="616" x2="250.2" y2="626" stroke="#7aa0c8" stroke-width="1"/>
<line x1="52.5" y1="358.3" x2="55.1" y2="358.3" stroke="#888" stroke-width="0.8"/>
<line x1="315.5" y1="358.3" x2="318" y2="358.3" stroke="#888" stroke-width="0.8"/>
<line x1="52.5" y1="367.0" x2="55.1" y2="367.0" stroke="#888" stroke-width="0.8"/>
<line x1="315.5" y1="367.0" x2="318" y2="367.0" stroke="#888" stroke-width="0.8"/>
<line x1="52.5" y1="375.7" x2="55.1" y2="375.7" stroke="#888" stroke-width="0.8"/>
<line x1="315.5" y1="375.7" x2="318" y2="375.7" stroke="#888" stroke-width="0.8"/>
<line x1="52.5" y1="384.4" x2="55.1" y2="384.4" stroke="#888" stroke-width="0.8"/>
<line x1="315.5" y1="384.4" x2="318" y2="384.4" stroke="#888" stroke-width="0.8"/>
<line x1="52.5" y1="393.1" x2="55.1" y2="393.1" stroke="#888" stroke-width="0.8"/>
<line x1="315.5" y1="393.1" x2="318" y2="393.1" stroke="#888" stroke-width="0.8"/>
<line x1="52.5" y1="401.8" x2="55.1" y2="401.8" stroke="#888" stroke-width="0.8"/>
<line x1="315.5" y1="401.8" x2="318" y2="401.8" stroke="#888" stroke-width="0.8"/>
<line x1="52.5" y1="410.4" x2="55.1" y2="410.4" stroke="#888" stroke-width="0.8"/>
<line x1="315.5" y1="410.4" x2="318" y2="410.4" stroke="#888" stroke-width="0.8"/>
<line x1="52.5" y1="419.1" x2="55.1" y2="419.1" stroke="#888" stroke-width="0.8"/>
<line x1="315.5" y1="419.1" x2="318" y2="419.1" stroke="#888" stroke-width="0.8"/>
<line x1="52.5" y1="427.8" x2="55.1" y2="427.8" stroke="#888" stroke-width="0.8"/>
<line x1="315.5" y1="427.8" x2="318" y2="427.8" stroke="#888" stroke-width="0.8"/>
<line x1="52.5" y1="436.5" x2="55.1" y2="436.5" stroke="#888" stroke-width="0.8"/>
<line x1="315.5" y1="436.5" x2="318" y2="436.5" stroke="#888" stroke-width="0.8"/>
<line x1="52.5" y1="445.2" x2="55.1" y2="445.2" stroke="#888" stroke-width="0.8"/>
<line x1="315.5" y1="445.2" x2="318" y2="445.2" stroke="#888" stroke-width="0.8"/>
<line x1="52.5" y1="453.9" x2="55.1" y2="453.9" stroke="#888" stroke-width="0.8"/>
<line x1="315.5" y1="453.9" x2="318" y2="453.9" stroke="#888" stroke-width="0.8"/>
<line x1="52.5" y1="462.6" x2="55.1" y2="462.6" stroke="#888" stroke-width="0.8"/>
<line x1="315.5" y1="462.6" x2="318" y2="462.6" stroke="#888" stroke-width="0.8"/>
<line x1="52.5" y1="471.3" x2="55.1" y2="471.3" stroke="#888" stroke-width="0.8"/>
<line x1="315.5" y1="471.3" x2="318" y2="471.3" stroke="#888" stroke-width="0.8"/>
<line x1="52.5" y1="480.0" x2="55.1" y2="480.0" stroke="#888" stroke-width="0.8"/>
<line x1="315.5" y1="480.0" x2="318" y2="480.0" stroke="#888" stroke-width="0.8"/>
<line x1="52.5" y1="488.6" x2="55.1" y2="488.6" stroke="#888" stroke-width="0.8"/>
<line x1="315.5" y1="488.6" x2="318" y2="488.6" stroke="#888" stroke-width="0.8"/>
<line x1="52.5" y1="497.3" x2="55.1" y2="497.3" stroke="#888" stroke-width="0.8"/>
<line x1="315.5" y1="497.3" x2="318" y2="497.3" stroke="#888" stroke-width="0.8"/>
<line x1="52.5" y1="506.0" x2="55.1" y2="506.0" stroke="#888" stroke-width="0.8"/>
<line x1="315.5" y1="506.0" x2="318" y2="506.0" stroke="#888" stroke-width="0.8"/>
<line x1="52.5" y1="514.7" x2="55.1" y2="514.7" stroke="#888" stroke-width="0.8"/>
<line x1="315.5" y1="514.7" x2="318" y2="514.7" stroke="#888" stroke-width="0.8"/>
<line x1="52.5" y1="523.4" x2="55.1" y2="523.4" stroke="#888" stroke-width="0.8"/>
<line x1="315.5" y1="523.4" x2="318" y2="523.4" stroke="#888" stroke-width="0.8"/>
<line x1="52.5" y1="532.1" x2="55.1" y2="532.1" stroke="#888" stroke-width="0.8"/>
<line x1="315.5" y1="532.1" x2="318" y2="532.1" stroke="#888" stroke-width="0.8"/>
<line x1="52.5" y1="540.8" x2="55.1" y2="540.8" stroke="#888" stroke-width="0.8"/>
<line x1="315.5" y1="540.8" x2="318" y2="540.8" stroke="#888" stroke-width="0.8"/>
<line x1="52.5" y1="549.5" x2="55.1" y2="549.5" stroke="#888" stroke-width="0.8"/>
<line x1="315.5" y1="549.5" x2="318" y2="549.5" stroke="#888" stroke-width="0.8"/>
<line x1="52.5" y1="558.2" x2="55.1" y2="558.2" stroke="#888" stroke-width="0.8"/>
<line x1="315.5" y1="558.2" x2="318" y2="558.2" stroke="#888" stroke-width="0.8"/>
<line x1="52.5" y1="566.9" x2="55.1" y2="566.9" stroke="#888" stroke-width="0.8"/>
<line x1="315.5" y1="566.9" x2="318" y2="566.9" stroke="#888" stroke-width="0.8"/>
<line x1="52.5" y1="575.5" x2="55.1" y2="575.5" stroke="#888" stroke-width="0.8"/>
<line x1="315.5" y1="575.5" x2="318" y2="575.5" stroke="#888" stroke-width="0.8"/>
<line x1="52.5" y1="584.2" x2="55.1" y2="584.2" stroke="#888" stroke-width="0.8"/>
<line x1="315.5" y1="584.2" x2="318" y2="584.2" stroke="#888" stroke-width="0.8"/>
<line x1="52.5" y1="592.9" x2="55.1" y2="592.9" stroke="#888" stroke-width="0.8"/>
<line x1="315.5" y1="592.9" x2="318" y2="592.9" stroke="#888" stroke-width="0.8"/>
<line x1="52.5" y1="601.6" x2="55.1" y2="601.6" stroke="#888" stroke-width="0.8"/>
<line x1="315.5" y1="601.6" x2="318" y2="601.6" stroke="#888" stroke-width="0.8"/>
<line x1="52.5" y1="610.3" x2="55.1" y2="610.3" stroke="#888" stroke-width="0.8"/>
<line x1="315.5" y1="610.3" x2="318" y2="610.3" stroke="#888" stroke-width="0.8"/>
<line x1="52.5" y1="619.0" x2="55.1" y2="619.0" stroke="#888" stroke-width="0.8"/>
<line x1="315.5" y1="619.0" x2="318" y2="619.0" stroke="#888" stroke-width="0.8"/>
<rect x="347" y="301" width="334" height="350.6" fill="none" stroke="#000" stroke-width="2.2"/>
<text x="502.7" y="325.8" font-size="9.5" font-family="Liberation Sans" text-anchor="start" fill="#222" textLength="73" lengthAdjust="spacingAndGlyphs" >S-wave velocity (m/s)</text>
<text x="410.4" y="345.4" font-size="9.2" font-family="Liberation Sans" text-anchor="middle" fill="#333" >0</text>
<text x="435.78" y="345.4" font-size="9.2" font-family="Liberation Sans" text-anchor="middle" fill="#333" >50</text>
<text x="461.15999999999997" y="345.4" font-size="9.2" font-family="Liberation Sans" text-anchor="middle" fill="#333" >100</text>
<text x="486.53999999999996" y="345.4" font-size="9.2" font-family="Liberation Sans" text-anchor="middle" fill="#333" >150</text>
<text x="511.91999999999996" y="345.4" font-size="9.2" font-family="Liberation Sans" text-anchor="middle" fill="#333" >200</text>
<text x="537.3" y="345.4" font-size="9.2" font-family="Liberation Sans" text-anchor="middle" fill="#333" >250</text>
<text x="562.68" y="345.4" font-size="9.2" font-family="Liberation Sans" text-anchor="middle" fill="#333" >300</text>
<text x="588.06" y="345.4" font-size="9.2" font-family="Liberation Sans" text-anchor="middle" fill="#333" >350</text>
<text x="613.4399999999999" y="345.4" font-size="9.2" font-family="Liberation Sans" text-anchor="middle" fill="#333" >400</text>
<text x="638.8199999999999" y="345.4" font-size="9.2" font-family="Liberation Sans" text-anchor="middle" fill="#333" >450</text>
<text x="664.1999999999999" y="345.4" font-size="9.2" font-family="Liberation Sans" text-anchor="middle" fill="#333" >500</text>
<line x1="438.3" y1="352.3" x2="438.3" y2="622.5" stroke="#9c9cdc" stroke-width="0.8" stroke-dasharray="1.5,1.5"/>
<line x1="463.7" y1="352.3" x2="463.7" y2="622.5" stroke="#9c9cdc" stroke-width="0.8" stroke-dasharray="1.5,1.5"/>
<line x1="489.2" y1="352.3" x2="489.2" y2="622.5" stroke="#9c9cdc" stroke-width="0.8" stroke-dasharray="1.5,1.5"/>
<line x1="514.6" y1="352.3" x2="514.6" y2="622.5" stroke="#9c9cdc" stroke-width="0.8" stroke-dasharray="1.5,1.5"/>
<line x1="540.1" y1="352.3" x2="540.1" y2="622.5" stroke="#9c9cdc" stroke-width="0.8" stroke-dasharray="1.5,1.5"/>
<line x1="565.6" y1="352.3" x2="565.6" y2="622.5" stroke="#9c9cdc" stroke-width="0.8" stroke-dasharray="1.5,1.5"/>
<line x1="591.0" y1="352.3" x2="591.0" y2="622.5" stroke="#9c9cdc" stroke-width="0.8" stroke-dasharray="1.5,1.5"/>
<line x1="616.5" y1="352.3" x2="616.5" y2="622.5" stroke="#9c9cdc" stroke-width="0.8" stroke-dasharray="1.5,1.5"/>
<line x1="641.9" y1="352.3" x2="641.9" y2="622.5" stroke="#9c9cdc" stroke-width="0.8" stroke-dasharray="1.5,1.5"/>
<line x1="412.8" y1="366.5" x2="667.4" y2="366.5" stroke="#9c9cdc" stroke-width="0.8" stroke-dasharray="1.5,1.5"/>
<line x1="412.8" y1="380.7" x2="667.4" y2="380.7" stroke="#9c9cdc" stroke-width="0.8" stroke-dasharray="1.5,1.5"/>
<line x1="412.8" y1="394.9" x2="667.4" y2="394.9" stroke="#9c9cdc" stroke-width="0.8" stroke-dasharray="1.5,1.5"/>
<line x1="412.8" y1="409.1" x2="667.4" y2="409.1" stroke="#9c9cdc" stroke-width="0.8" stroke-dasharray="1.5,1.5"/>
<line x1="412.8" y1="423.3" x2="667.4" y2="423.3" stroke="#9c9cdc" stroke-width="0.8" stroke-dasharray="1.5,1.5"/>
<line x1="412.8" y1="437.5" x2="667.4" y2="437.5" stroke="#9c9cdc" stroke-width="0.8" stroke-dasharray="1.5,1.5"/>
<line x1="412.8" y1="451.7" x2="667.4" y2="451.7" stroke="#9c9cdc" stroke-width="0.8" stroke-dasharray="1.5,1.5"/>
<line x1="412.8" y1="465.9" x2="667.4" y2="465.9" stroke="#9c9cdc" stroke-width="0.8" stroke-dasharray="1.5,1.5"/>
<line x1="412.8" y1="480.0" x2="667.4" y2="480.0" stroke="#9c9cdc" stroke-width="0.8" stroke-dasharray="1.5,1.5"/>
<line x1="412.8" y1="494.2" x2="667.4" y2="494.2" stroke="#9c9cdc" stroke-width="0.8" stroke-dasharray="1.5,1.5"/>
<line x1="412.8" y1="508.4" x2="667.4" y2="508.4" stroke="#9c9cdc" stroke-width="0.8" stroke-dasharray="1.5,1.5"/>
<line x1="412.8" y1="522.6" x2="667.4" y2="522.6" stroke="#9c9cdc" stroke-width="0.8" stroke-dasharray="1.5,1.5"/>
<line x1="412.8" y1="536.8" x2="667.4" y2="536.8" stroke="#9c9cdc" stroke-width="0.8" stroke-dasharray="1.5,1.5"/>
<line x1="412.8" y1="551.0" x2="667.4" y2="551.0" stroke="#9c9cdc" stroke-width="0.8" stroke-dasharray="1.5,1.5"/>
<line x1="412.8" y1="565.2" x2="667.4" y2="565.2" stroke="#9c9cdc" stroke-width="0.8" stroke-dasharray="1.5,1.5"/>
<line x1="412.8" y1="579.4" x2="667.4" y2="579.4" stroke="#9c9cdc" stroke-width="0.8" stroke-dasharray="1.5,1.5"/>
<line x1="412.8" y1="593.6" x2="667.4" y2="593.6" stroke="#9c9cdc" stroke-width="0.8" stroke-dasharray="1.5,1.5"/>
<line x1="412.8" y1="607.8" x2="667.4" y2="607.8" stroke="#9c9cdc" stroke-width="0.8" stroke-dasharray="1.5,1.5"/>
<path d="M472.6 352.3V360.3M473.9 352.3V360.3M478.2 352.3V360.3M478.9 352.3V360.3M479.6 352.3V360.3M480.3 352.3V360.3M492.0 352.3V360.3M502.7 352.3V360.3M504.1 352.3V360.3M506.5 352.3V360.3M506.7 352.3V360.3M508.1 352.3V360.3M508.7 352.3V360.3M512.9 352.3V360.3M517.1 352.3V360.3M523.2 352.3V360.3M524.5 352.3V360.3M525.2 352.3V360.3M486.2 352.3V360.3M509.4 352.3V360.3M502.8 352.3V360.3M498.7 352.3V360.3M488.3 352.3V360.3M496.5 352.3V360.3M495.0 352.3V360.3M505.5 352.3V360.3M497.7 352.3V360.3M470.0 360.3V369.1M470.2 360.3V369.1M475.5 360.3V369.1M483.4 360.3V369.1M484.9 360.3V369.1M485.2 360.3V369.1M485.4 360.3V369.1M486.3 360.3V369.1M491.4 360.3V369.1M492.5 360.3V369.1M501.6 360.3V369.1M503.1 360.3V369.1M505.6 360.3V369.1M511.3 360.3V369.1M515.9 360.3V369.1M518.3 360.3V369.1M520.5 360.3V369.1M522.8 360.3V369.1M523.5 360.3V369.1M523.9 360.3V369.1M529.2 360.3V369.1M529.5 360.3V369.1M530.5 360.3V369.1M535.7 360.3V369.1M538.5 360.3V369.1M547.3 360.3V369.1M551.7 360.3V369.1M528.5 360.3V369.1M486.5 360.3V369.1M500.9 360.3V369.1M509.0 360.3V369.1M513.1 360.3V369.1M496.3 360.3V369.1M501.0 360.3V369.1M512.6 360.3V369.1M501.4 360.3V369.1M502.2 360.3V369.1M521.2 360.3V369.1M525.0 360.3V369.1M510.6 360.3V369.1M474.0 369.1V380.0M481.0 369.1V380.0M481.9 369.1V380.0M484.8 369.1V380.0M489.9 369.1V380.0M491.4 369.1V380.0M494.3 369.1V380.0M500.8 369.1V380.0M510.9 369.1V380.0M512.6 369.1V380.0M514.4 369.1V380.0M515.3 369.1V380.0M518.4 369.1V380.0M519.3 369.1V380.0M522.6 369.1V380.0M523.2 369.1V380.0M525.0 369.1V380.0M526.1 369.1V380.0M527.6 369.1V380.0M531.9 369.1V380.0M533.3 369.1V380.0M511.7 369.1V380.0M502.8 369.1V380.0M486.9 369.1V380.0M516.7 369.1V380.0M502.0 369.1V380.0M496.4 369.1V380.0M516.1 369.1V380.0M509.8 369.1V380.0M489.9 369.1V380.0M504.9 369.1V380.0M477.4 380.0V391.0M481.8 380.0V391.0M484.0 380.0V391.0M487.9 380.0V391.0M494.1 380.0V391.0M494.4 380.0V391.0M498.6 380.0V391.0M499.1 380.0V391.0M500.3 380.0V391.0M506.3 380.0V391.0M512.2 380.0V391.0M513.4 380.0V391.0M513.5 380.0V391.0M514.0 380.0V391.0M519.6 380.0V391.0M523.4 380.0V391.0M524.2 380.0V391.0M524.6 380.0V391.0M527.3 380.0V391.0M538.9 380.0V391.0M497.1 380.0V391.0M507.3 380.0V391.0M507.3 380.0V391.0M499.3 380.0V391.0M498.6 380.0V391.0M512.0 380.0V391.0M522.3 380.0V391.0M515.6 380.0V391.0M515.3 380.0V391.0M521.3 380.0V391.0M481.7 391.0V408.5M482.5 391.0V408.5M482.9 391.0V408.5M483.3 391.0V408.5M495.4 391.0V408.5M499.0 391.0V408.5M502.1 391.0V408.5M508.9 391.0V408.5M509.4 391.0V408.5M512.7 391.0V408.5M513.5 391.0V408.5M515.5 391.0V408.5M518.1 391.0V408.5M521.6 391.0V408.5M524.3 391.0V408.5M527.3 391.0V408.5M531.4 391.0V408.5M532.5 391.0V408.5M534.2 391.0V408.5M537.5 391.0V408.5M540.3 391.0V408.5M542.2 391.0V408.5M550.5 391.0V408.5M551.7 391.0V408.5M513.8 391.0V408.5M516.7 391.0V408.5M533.3 391.0V408.5M511.5 391.0V408.5M538.6 391.0V408.5M503.0 391.0V408.5M511.3 391.0V408.5M530.1 391.0V408.5M525.7 391.0V408.5M507.9 391.0V408.5M517.6 391.0V408.5M509.8 391.0V408.5M501.5 408.5V419.4M501.5 408.5V419.4M502.2 408.5V419.4M503.9 408.5V419.4M514.2 408.5V419.4M516.4 408.5V419.4M517.7 408.5V419.4M519.5 408.5V419.4M519.7 408.5V419.4M522.6 408.5V419.4M526.2 408.5V419.4M536.1 408.5V419.4M540.6 408.5V419.4M542.2 408.5V419.4M519.7 408.5V419.4M525.1 408.5V419.4M523.7 408.5V419.4M528.0 408.5V419.4M529.8 408.5V419.4M522.6 408.5V419.4M522.6 408.5V419.4M512.7 419.4V434.6M516.8 419.4V434.6M519.3 419.4V434.6M520.8 419.4V434.6M526.6 419.4V434.6M531.9 419.4V434.6M534.1 419.4V434.6M536.5 419.4V434.6M540.0 419.4V434.6M540.3 419.4V434.6M541.7 419.4V434.6M545.8 419.4V434.6M546.1 419.4V434.6M548.5 419.4V434.6M553.5 419.4V434.6M556.9 419.4V434.6M510.5 419.4V434.6M524.4 419.4V434.6M524.6 419.4V434.6M539.4 419.4V434.6M540.4 419.4V434.6M521.3 419.4V434.6M532.4 419.4V434.6M531.6 419.4V434.6M510.2 434.6V451.9M518.7 434.6V451.9M524.1 434.6V451.9M525.8 434.6V451.9M526.0 434.6V451.9M526.4 434.6V451.9M529.6 434.6V451.9M529.8 434.6V451.9M539.1 434.6V451.9M540.8 434.6V451.9M540.8 434.6V451.9M542.8 434.6V451.9M556.2 434.6V451.9M556.8 434.6V451.9M561.9 434.6V451.9M562.0 434.6V451.9M564.1 434.6V451.9M566.1 434.6V451.9M567.2 434.6V451.9M571.4 434.6V451.9M533.7 434.6V451.9M545.3 434.6V451.9M534.1 434.6V451.9M555.9 434.6V451.9M559.0 434.6V451.9M537.5 434.6V451.9M546.7 434.6V451.9M562.2 434.6V451.9M537.2 434.6V451.9M531.1 434.6V451.9M520.9 451.9V470.5M529.6 451.9V470.5M532.9 451.9V470.5M533.4 451.9V470.5M537.8 451.9V470.5M538.0 451.9V470.5M541.1 451.9V470.5M543.2 451.9V470.5M545.2 451.9V470.5M545.3 451.9V470.5M548.4 451.9V470.5M548.4 451.9V470.5M549.8 451.9V470.5M550.6 451.9V470.5M560.8 451.9V470.5M571.9 451.9V470.5M573.6 451.9V470.5M574.5 451.9V470.5M574.9 451.9V470.5M544.6 451.9V470.5M548.5 451.9V470.5M557.0 451.9V470.5M537.2 451.9V470.5M542.7 451.9V470.5M549.8 451.9V470.5M560.1 451.9V470.5M561.6 451.9V470.5M536.8 451.9V470.5M518.2 470.5V489.6M519.9 470.5V489.6M521.4 470.5V489.6M521.7 470.5V489.6M524.2 470.5V489.6M528.7 470.5V489.6M538.6 470.5V489.6M539.1 470.5V489.6M539.2 470.5V489.6M540.0 470.5V489.6M545.7 470.5V489.6M550.3 470.5V489.6M554.0 470.5V489.6M554.3 470.5V489.6M556.9 470.5V489.6M566.1 470.5V489.6M569.9 470.5V489.6M571.1 470.5V489.6M573.4 470.5V489.6M578.8 470.5V489.6M579.6 470.5V489.6M583.9 470.5V489.6M529.5 470.5V489.6M567.1 470.5V489.6M535.3 470.5V489.6M569.5 470.5V489.6M545.6 470.5V489.6M544.1 470.5V489.6M553.1 470.5V489.6M552.5 470.5V489.6M560.1 470.5V489.6M558.9 470.5V489.6M550.9 470.5V489.6M534.0 489.6V510.5M534.3 489.6V510.5M535.4 489.6V510.5M537.8 489.6V510.5M540.4 489.6V510.5M543.6 489.6V510.5M547.6 489.6V510.5M551.7 489.6V510.5M553.4 489.6V510.5M556.5 489.6V510.5M559.5 489.6V510.5M560.2 489.6V510.5M568.3 489.6V510.5M573.5 489.6V510.5M581.4 489.6V510.5M583.9 489.6V510.5M585.9 489.6V510.5M588.8 489.6V510.5M595.4 489.6V510.5M596.2 489.6V510.5M600.0 489.6V510.5M600.6 489.6V510.5M564.7 489.6V510.5M562.5 489.6V510.5M581.6 489.6V510.5M579.5 489.6V510.5M579.9 489.6V510.5M571.6 489.6V510.5M589.3 489.6V510.5M581.9 489.6V510.5M573.2 489.6V510.5M556.4 489.6V510.5M577.6 489.6V510.5M552.2 510.5V532.8M559.2 510.5V532.8M559.3 510.5V532.8M560.0 510.5V532.8M560.2 510.5V532.8M563.9 510.5V532.8M564.6 510.5V532.8M569.1 510.5V532.8M570.7 510.5V532.8M571.6 510.5V532.8M572.9 510.5V532.8M574.4 510.5V532.8M579.6 510.5V532.8M583.9 510.5V532.8M586.3 510.5V532.8M595.6 510.5V532.8M596.0 510.5V532.8M602.5 510.5V532.8M604.4 510.5V532.8M606.9 510.5V532.8M612.4 510.5V532.8M613.7 510.5V532.8M613.8 510.5V532.8M607.2 510.5V532.8M597.0 510.5V532.8M612.7 510.5V532.8M578.4 510.5V532.8M588.0 510.5V532.8M586.7 510.5V532.8M590.0 510.5V532.8M597.3 510.5V532.8M580.6 510.5V532.8M605.8 510.5V532.8M600.4 510.5V532.8M550.1 532.8V554.7M552.1 532.8V554.7M557.1 532.8V554.7M565.9 532.8V554.7M569.9 532.8V554.7M571.4 532.8V554.7M575.0 532.8V554.7M578.3 532.8V554.7M587.0 532.8V554.7M587.1 532.8V554.7M587.3 532.8V554.7M587.6 532.8V554.7M588.8 532.8V554.7M589.9 532.8V554.7M595.7 532.8V554.7M597.0 532.8V554.7M598.1 532.8V554.7M600.7 532.8V554.7M602.8 532.8V554.7M609.4 532.8V554.7M616.5 532.8V554.7M617.1 532.8V554.7M617.5 532.8V554.7M619.6 532.8V554.7M620.8 532.8V554.7M595.0 532.8V554.7M580.7 532.8V554.7M569.5 532.8V554.7M584.8 532.8V554.7M579.9 532.8V554.7M557.7 532.8V554.7M568.6 532.8V554.7M579.1 532.8V554.7M604.6 532.8V554.7M577.0 532.8V554.7M584.3 532.8V554.7M593.2 532.8V554.7M566.0 554.7V622.5M569.6 554.7V622.5M571.0 554.7V622.5M581.9 554.7V622.5M583.0 554.7V622.5M589.9 554.7V622.5M589.9 554.7V622.5M591.2 554.7V622.5M593.2 554.7V622.5M593.3 554.7V622.5M595.4 554.7V622.5M599.8 554.7V622.5M605.6 554.7V622.5M606.6 554.7V622.5M608.4 554.7V622.5M608.5 554.7V622.5M612.5 554.7V622.5M618.1 554.7V622.5M620.4 554.7V622.5M624.5 554.7V622.5M624.9 554.7V622.5M635.2 554.7V622.5M636.6 554.7V622.5M604.1 554.7V622.5M585.2 554.7V622.5M588.7 554.7V622.5M577.6 554.7V622.5M579.4 554.7V622.5M608.6 554.7V622.5M595.0 554.7V622.5M599.9 554.7V622.5M599.0 554.7V622.5M586.5 554.7V622.5M592.2 554.7V622.5" stroke="#6e6e6e" stroke-width="0.95" fill="none"/>
<path d="M466.4 352.3H526.6V360.3H466.4ZM468.0 360.3H555.0V369.1H468.0ZM472.0 369.1H540.0V380.0H472.0ZM476.0 380.0H540.0V391.0H476.0ZM480.0 391.0H558.0V408.5H480.0ZM500.0 408.5H547.0V419.4H500.0ZM503.6 419.4H558.0V434.6H503.6ZM508.5 434.6H573.0V451.9H508.5ZM516.0 451.9H578.5V470.5H516.0ZM516.0 470.5H589.5V489.6H516.0ZM532.5 489.6H606.0V510.5H532.5ZM547.4 510.5H621.8V532.8H547.4ZM544.0 532.8H625.1V554.7H544.0ZM562.7 554.7H639.3V622.5H562.7Z" stroke="#505050" stroke-width="1.3" fill="none"/>
<path d="M471.9 352.3 L471.9 360.3 L496.0 360.3 L496.0 369.1 L503.6 369.1 L503.6 380.0 L516.8 380.0 L516.8 391.0 L507.0 391.0 L507.0 408.5 L509.1 408.5 L509.1 419.4 L534.5 419.4 L534.5 434.6 L531.8 434.6 L531.8 451.9 L522.7 451.9 L522.7 470.5 L519.4 470.5 L519.4 489.6 L593.0 489.6 L593.0 510.5 L571.5 510.5 L571.5 532.8 L585.7 532.8 L585.7 554.7 L609.8 554.7 L609.8 622.5" stroke="#ee1010" stroke-width="3.6" fill="none" stroke-linejoin="miter"/>
<rect x="412.8" y="352.3" width="254.59999999999997" height="270.2" fill="none" stroke="#666" stroke-width="1.2"/>
<text x="394.2" y="355.40000000000003" font-size="8.6" font-family="Liberation Sans" text-anchor="middle" fill="#333" >0</text>
<text x="394.2" y="369.59400000000005" font-size="8.6" font-family="Liberation Sans" text-anchor="middle" fill="#333" >2</text>
<text x="394.2" y="383.788" font-size="8.6" font-family="Liberation Sans" text-anchor="middle" fill="#333" >4</text>
<text x="394.2" y="397.982" font-size="8.6" font-family="Liberation Sans" text-anchor="middle" fill="#333" >6</text>
<text x="394.2" y="412.17600000000004" font-size="8.6" font-family="Liberation Sans" text-anchor="middle" fill="#333" >8</text>
<text x="394.2" y="426.37" font-size="8.6" font-family="Liberation Sans" text-anchor="middle" fill="#333" >10</text>
<text x="394.2" y="440.564" font-size="8.6" font-family="Liberation Sans" text-anchor="middle" fill="#333" >12</text>
<text x="394.2" y="454.75800000000004" font-size="8.6" font-family="Liberation Sans" text-anchor="middle" fill="#333" >14</text>
<text x="394.2" y="468.95200000000006" font-size="8.6" font-family="Liberation Sans" text-anchor="middle" fill="#333" >16</text>
<text x="394.2" y="483.1460000000001" font-size="8.6" font-family="Liberation Sans" text-anchor="middle" fill="#333" >18</text>
<text x="394.2" y="497.34000000000003" font-size="8.6" font-family="Liberation Sans" text-anchor="middle" fill="#333" >20</text>
<text x="394.2" y="511.53400000000005" font-size="8.6" font-family="Liberation Sans" text-anchor="middle" fill="#333" >22</text>
<text x="394.2" y="525.7280000000001" font-size="8.6" font-family="Liberation Sans" text-anchor="middle" fill="#333" >24</text>
<text x="394.2" y="539.922" font-size="8.6" font-family="Liberation Sans" text-anchor="middle" fill="#333" >26</text>
<text x="394.2" y="554.1160000000001" font-size="8.6" font-family="Liberation Sans" text-anchor="middle" fill="#333" >28</text>
<text x="394.2" y="568.3100000000001" font-size="8.6" font-family="Liberation Sans" text-anchor="middle" fill="#333" >30</text>
<text x="394.2" y="582.504" font-size="8.6" font-family="Liberation Sans" text-anchor="middle" fill="#333" >32</text>
<text x="394.2" y="596.698" font-size="8.6" font-family="Liberation Sans" text-anchor="middle" fill="#333" >34</text>
<text x="394.2" y="610.892" font-size="8.6" font-family="Liberation Sans" text-anchor="middle" fill="#333" >36</text>
<text x="394.2" y="625.0860000000001" font-size="8.6" font-family="Liberation Sans" text-anchor="middle" fill="#333" >38</text>
<text transform="translate(359.2,515.5) rotate(-90)" font-size="8.5" font-family="Liberation Sans" text-anchor="middle" fill="#444" textLength="32" lengthAdjust="spacingAndGlyphs">Depth (m)</text>
<text x="350" y="644.0" font-size="22.5" font-family="Liberation Serif" font-weight="bold" text-anchor="start" fill="#000" textLength="30.7" lengthAdjust="spacingAndGlyphs" >(C)</text>
<text x="412.3" y="635" font-size="9" font-family="Liberation Sans" text-anchor="start" fill="#222" textLength="174.5" lengthAdjust="spacingAndGlyphs" >S-wave velocity models  : GABestSolutions_0.pvs</text>
<rect x="3" y="658.5" width="679.9" height="294.5" fill="none" stroke="#000" stroke-width="2.2"/>
<text x="65.5" y="684.5" font-size="18.8" font-family="Liberation Serif" font-weight="bold" text-anchor="start" fill="#000" textLength="230" lengthAdjust="spacingAndGlyphs" >S-wave velocity cross-section</text>
<text x="42.5" y="707.3" font-size="17.5" font-family="Liberation Serif" font-weight="bold" text-anchor="end" fill="#000" >0</text>
<text x="42.5" y="738.3" font-size="17.5" font-family="Liberation Serif" font-weight="bold" text-anchor="end" fill="#000" >3</text>
<text x="42.5" y="770.3" font-size="17.5" font-family="Liberation Serif" font-weight="bold" text-anchor="end" fill="#000" >6</text>
<text x="42.5" y="801.3" font-size="17.5" font-family="Liberation Serif" font-weight="bold" text-anchor="end" fill="#000" >9</text>
<text x="42.5" y="831.4" font-size="17.5" font-family="Liberation Serif" font-weight="bold" text-anchor="end" fill="#000" >12</text>
<text x="42.5" y="859.6" font-size="17.5" font-family="Liberation Serif" font-weight="bold" text-anchor="end" fill="#000" >15</text>
<text transform="translate(21.8,794.3) rotate(-90)" font-size="19" font-family="Liberation Serif" font-weight="bold" text-anchor="middle" textLength="85" lengthAdjust="spacingAndGlyphs">Depth (m)</text>
<text x="54.7" y="897.8" font-size="13.6" font-family="Liberation Serif" font-weight="bold" text-anchor="middle" fill="#000" >0</text>
<text x="79.60000000000001" y="897.8" font-size="13.6" font-family="Liberation Serif" font-weight="bold" text-anchor="middle" fill="#000" >5</text>
<text x="104.5" y="897.8" font-size="13.6" font-family="Liberation Serif" font-weight="bold" text-anchor="middle" fill="#000" >10</text>
<text x="129.4" y="897.8" font-size="13.6" font-family="Liberation Serif" font-weight="bold" text-anchor="middle" fill="#000" >15</text>
<text x="154.3" y="897.8" font-size="13.6" font-family="Liberation Serif" font-weight="bold" text-anchor="middle" fill="#000" >20</text>
<text x="179.20000000000002" y="897.8" font-size="13.6" font-family="Liberation Serif" font-weight="bold" text-anchor="middle" fill="#000" >25</text>
<text x="204.10000000000002" y="897.8" font-size="13.6" font-family="Liberation Serif" font-weight="bold" text-anchor="middle" fill="#000" >30</text>
<text x="229.0" y="897.8" font-size="13.6" font-family="Liberation Serif" font-weight="bold" text-anchor="middle" fill="#000" >35</text>
<text x="253.90000000000003" y="897.8" font-size="13.6" font-family="Liberation Serif" font-weight="bold" text-anchor="middle" fill="#000" >40</text>
<text x="278.8" y="897.8" font-size="13.6" font-family="Liberation Serif" font-weight="bold" text-anchor="middle" fill="#000" >45</text>
<text x="303.70000000000005" y="897.8" font-size="13.6" font-family="Liberation Serif" font-weight="bold" text-anchor="middle" fill="#000" >50</text>
<text x="328.6" y="897.8" font-size="13.6" font-family="Liberation Serif" font-weight="bold" text-anchor="middle" fill="#000" >55</text>
<text x="353.5" y="897.8" font-size="13.6" font-family="Liberation Serif" font-weight="bold" text-anchor="middle" fill="#000" >60</text>
<text x="378.40000000000003" y="897.8" font-size="13.6" font-family="Liberation Serif" font-weight="bold" text-anchor="middle" fill="#000" >65</text>
<text x="403.3" y="897.8" font-size="13.6" font-family="Liberation Serif" font-weight="bold" text-anchor="middle" fill="#000" >70</text>
<text x="428.20000000000005" y="897.8" font-size="13.6" font-family="Liberation Serif" font-weight="bold" text-anchor="middle" fill="#000" >75</text>
<text x="453.1" y="897.8" font-size="13.6" font-family="Liberation Serif" font-weight="bold" text-anchor="middle" fill="#000" >80</text>
<text x="478.0" y="897.8" font-size="13.6" font-family="Liberation Serif" font-weight="bold" text-anchor="middle" fill="#000" >85</text>
<text x="502.90000000000003" y="897.8" font-size="13.6" font-family="Liberation Serif" font-weight="bold" text-anchor="middle" fill="#000" >90</text>
<text x="527.8000000000001" y="897.8" font-size="13.6" font-family="Liberation Serif" font-weight="bold" text-anchor="middle" fill="#000" >95</text>
<text x="552.7" y="897.8" font-size="13.6" font-family="Liberation Serif" font-weight="bold" text-anchor="middle" fill="#000" >100</text>
<text x="577.6000000000001" y="897.8" font-size="13.6" font-family="Liberation Serif" font-weight="bold" text-anchor="middle" fill="#000" >105</text>
<text x="602.5000000000001" y="897.8" font-size="13.6" font-family="Liberation Serif" font-weight="bold" text-anchor="middle" fill="#000" >110</text>
<text x="293.7" y="946.5" font-size="18.5" font-family="Liberation Serif" font-weight="bold" text-anchor="start" fill="#000" textLength="100.2" lengthAdjust="spacingAndGlyphs" >Distance (m)</text>
<text x="6.8" y="945.9" font-size="22.5" font-family="Liberation Serif" font-weight="bold" text-anchor="start" fill="#000" textLength="29.2" lengthAdjust="spacingAndGlyphs" >(D)</text>
<text x="612.7" y="707.7" font-size="16" font-family="Liberation Serif" font-weight="bold" text-anchor="start" fill="#000" textLength="49" lengthAdjust="spacingAndGlyphs" >S-wave</text>
<text x="612.7" y="724" font-size="16" font-family="Liberation Serif" font-weight="bold" text-anchor="start" fill="#000" textLength="51.5" lengthAdjust="spacingAndGlyphs" >velocity</text>
<text x="631.5" y="894" font-size="15.7" font-family="Liberation Serif" font-weight="bold" text-anchor="start" fill="#000" textLength="34" lengthAdjust="spacingAndGlyphs" >(m/s)</text>
<g transform="translate(54.5,702.7)" shape-rendering="crispEdges">
<path fill="#ff10ff" d="M497 0h27v1h-27zM519 1h5v1h-5z"/>
<path fill="#ff00d8" d="M0 2h3v1h-3zM0 1h9v1h-9zM0 0h15v1h-15zM122 0h73v1h-73zM123 3h69v1h-69zM123 2h70v1h-70zM123 1h71v1h-71zM124 4h67v2h-67zM127 6h63v1h-63zM131 7h59v1h-59zM133 8h54v1h-54zM134 9h44v1h-44zM279 0h105v1h-105zM288 1h91v1h-91zM298 2h76v1h-76zM320 3h38v1h-38zM469 0h28v1h-28zM470 1h49v1h-49zM471 2h59v1h-59zM472 3h16v1h-16zM501 3h28v1h-28zM506 4h23v1h-23zM510 5h18v1h-18zM513 6h14v1h-14zM515 7h12v1h-12zM518 8h8v1h-8zM524 1h7v1h-7zM524 0h8v1h-8z"/>
<path fill="#ff0060" d="M0 5h10v1h-10zM0 4h17v1h-17zM0 3h23v1h-23zM3 2h37v1h-37zM9 1h44v1h-44zM15 0h45v1h-45zM117 0h5v1h-5zM117 1h6v2h-6zM118 3h5v1h-5zM118 4h6v2h-6zM119 6h8v1h-8zM120 7h11v1h-11zM121 8h12v1h-12zM123 9h11v1h-11zM126 10h69v1h-69zM128 11h65v1h-65zM130 12h61v1h-61zM134 13h42v1h-42zM178 9h18v1h-18zM187 8h10v1h-10zM190 7h7v1h-7zM190 6h8v1h-8zM191 5h7v1h-7zM191 4h8v1h-8zM192 3h9v1h-9zM193 2h9v1h-9zM194 1h9v1h-9zM195 0h10v1h-10zM265 0h14v1h-14zM267 1h21v1h-21zM268 2h30v1h-30zM270 3h50v1h-50zM272 4h118v1h-118zM276 5h108v1h-108zM285 6h93v1h-93zM295 7h47v1h-47zM358 3h36v1h-36zM374 2h25v1h-25zM379 1h21v1h-21zM384 0h17v1h-17zM464 0h5v1h-5zM465 1h5v1h-5zM466 2h5v1h-5zM467 3h5v1h-5zM468 4h38v1h-38zM470 5h40v1h-40zM472 6h41v1h-41zM488 3h13v1h-13zM502 7h13v1h-13zM505 8h13v1h-13zM511 9h17v1h-17zM526 8h6v1h-6zM527 7h6v1h-6zM527 6h7v1h-7zM528 5h7v1h-7zM529 4h6v1h-6zM529 3h7v1h-7zM530 2h7v1h-7zM531 1h7v1h-7zM532 0h8v1h-8z"/>
<path fill="#ff0000" d="M0 7h63v1h-63zM0 6h77v1h-77zM10 5h70v1h-70zM17 4h64v1h-64zM23 3h59v1h-59zM40 2h43v1h-43zM53 1h31v1h-31zM60 0h25v1h-25zM111 0h6v1h-6zM112 1h5v2h-5zM112 3h6v3h-6zM112 6h7v1h-7zM113 7h7v1h-7zM113 8h8v1h-8zM114 9h9v1h-9zM115 10h11v1h-11zM116 11h12v1h-12zM116 12h14v1h-14zM117 13h17v1h-17zM118 14h84v1h-84zM120 17h80v1h-80zM120 16h81v1h-81zM120 15h82v1h-82zM121 19h76v1h-76zM121 18h78v1h-78zM122 20h74v2h-74zM123 22h77v1h-77zM131 28h69v13h-69zM176 13h27v1h-27zM191 12h13v1h-13zM193 11h11v1h-11zM194 23h6v1h-6zM194 27h6v1h-6zM195 10h10v1h-10zM196 9h10v1h-10zM197 24h3v1h-3zM197 26h3v1h-3zM197 8h9v1h-9zM197 7h10v1h-10zM198 25h2v1h-2zM198 5h10v2h-10zM199 4h10v1h-10zM201 3h9v1h-9zM202 2h9v1h-9zM203 1h9v1h-9zM205 0h8v1h-8zM255 0h10v1h-10zM256 1h11v1h-11zM257 2h11v1h-11zM259 3h11v1h-11zM260 4h12v1h-12zM262 5h14v1h-14zM264 6h21v1h-21zM266 7h29v1h-29zM268 8h121v1h-121zM270 9h113v1h-113zM272 10h105v1h-105zM273 11h70v1h-70zM274 12h24v1h-24zM342 7h53v1h-53zM378 6h21v1h-21zM384 5h17v1h-17zM390 4h13v1h-13zM394 3h10v1h-10zM399 2h6v1h-6zM400 1h7v1h-7zM401 0h7v1h-7zM459 0h5v1h-5zM460 1h5v1h-5zM460 2h6v1h-6zM461 3h6v1h-6zM462 4h6v1h-6zM464 5h6v1h-6zM466 6h6v1h-6zM468 7h34v1h-34zM470 8h35v1h-35zM473 9h38v1h-38zM494 10h39v1h-39zM502 11h30v1h-30zM507 12h23v1h-23zM511 13h18v1h-18zM515 14h12v1h-12zM519 15h6v1h-6zM528 9h9v1h-9zM532 8h7v1h-7zM533 7h7v1h-7zM534 6h7v1h-7zM535 5h6v1h-6zM535 4h7v1h-7zM536 3h7v1h-7zM537 2h8v1h-8zM538 1h8v1h-8zM540 0h7v1h-7z"/>
<path fill="#ff4800" d="M0 8h113v1h-113zM0 9h114v1h-114zM0 10h115v1h-115zM0 11h116v2h-116zM0 13h117v1h-117zM0 14h118v1h-118zM0 15h120v3h-120zM0 18h121v2h-121zM61 20h61v1h-61zM63 7h50v1h-50zM69 21h53v1h-53zM75 22h48v1h-48zM77 6h35v1h-35zM77 23h117v1h-117zM78 24h119v1h-119zM80 5h32v1h-32zM80 25h118v1h-118zM81 4h31v1h-31zM81 26h116v1h-116zM82 3h30v1h-30zM82 27h112v1h-112zM83 2h29v1h-29zM83 28h48v1h-48zM84 1h28v1h-28zM84 29h47v1h-47zM85 0h26v1h-26zM91 30h40v1h-40zM95 31h36v1h-36zM98 32h33v1h-33zM108 33h23v1h-23zM111 34h20v1h-20zM112 35h19v1h-19zM113 36h18v1h-18zM114 37h17v1h-17zM115 38h16v2h-16zM116 40h15v1h-15zM118 41h86v1h-86zM120 42h82v1h-82zM122 43h79v1h-79zM192 44h9v1h-9zM195 45h5v1h-5zM196 21h12v1h-12zM196 20h13v1h-13zM197 46h3v1h-3zM197 19h12v1h-12zM199 47h1v1h-1zM199 18h11v1h-11zM200 32h5v9h-5zM200 25h6v7h-6zM200 23h7v2h-7zM200 22h8v1h-8zM200 17h10v1h-10zM201 16h10v1h-10zM202 15h9v1h-9zM202 14h10v1h-10zM203 13h9v1h-9zM204 11h9v2h-9zM205 10h9v1h-9zM206 9h8v1h-8zM206 8h9v1h-9zM207 7h8v1h-8zM208 5h8v2h-8zM209 4h8v1h-8zM210 3h8v1h-8zM211 2h9v1h-9zM212 1h9v1h-9zM213 0h10v1h-10zM232 0h23v1h-23zM237 1h19v1h-19zM241 2h16v1h-16zM245 3h14v1h-14zM247 4h13v1h-13zM250 5h12v1h-12zM251 6h13v1h-13zM253 7h13v1h-13zM255 8h13v1h-13zM257 9h13v1h-13zM259 10h13v1h-13zM260 11h13v1h-13zM261 12h13v1h-13zM263 13h119v1h-119zM264 14h114v1h-114zM265 15h109v1h-109zM267 16h74v1h-74zM268 17h41v1h-41zM270 18h22v1h-22zM272 19h12v1h-12zM274 20h2v1h-2zM298 12h89v1h-89zM343 11h49v1h-49zM377 10h21v1h-21zM383 9h18v1h-18zM389 8h14v1h-14zM395 7h10v1h-10zM399 6h7v1h-7zM401 5h7v1h-7zM403 4h6v1h-6zM404 3h7v1h-7zM405 2h7v1h-7zM407 1h6v1h-6zM408 0h6v1h-6zM454 0h5v1h-5zM454 1h6v1h-6zM455 2h5v1h-5zM456 3h5v1h-5zM457 4h5v1h-5zM458 5h6v1h-6zM460 6h6v1h-6zM461 7h7v1h-7zM463 8h7v1h-7zM465 9h8v1h-8zM468 10h26v1h-26zM470 11h32v1h-32zM473 12h34v1h-34zM482 13h29v1h-29zM490 14h25v1h-25zM497 15h22v1h-22zM502 16h33v1h-33zM505 17h29v1h-29zM508 18h24v1h-24zM511 19h20v1h-20zM514 20h16v1h-16zM515 21h14v1h-14zM517 22h11v1h-11zM519 23h8v1h-8zM521 24h4v1h-4zM521 30h4v2h-4zM521 32h5v2h-5zM522 25h2v1h-2zM522 28h2v1h-2zM522 29h3v1h-3zM523 27h1v1h-1zM525 15h12v1h-12zM527 14h11v1h-11zM529 13h10v1h-10zM530 12h11v1h-11zM532 11h10v1h-10zM533 10h10v1h-10zM537 9h8v1h-8zM539 8h7v1h-7zM540 7h7v1h-7zM541 6h6v1h-6zM541 5h7v1h-7zM542 4h6v1h-6zM543 3h5v1h-5zM545 2h3v1h-3zM546 1h2v1h-2zM547 0h1v1h-1z"/>
<path fill="#ff8800" d="M0 64h1v1h-1zM0 66h3v1h-3zM0 65h8v1h-8zM0 20h61v1h-61zM0 21h69v1h-69zM0 22h75v1h-75zM0 23h77v1h-77zM0 24h78v1h-78zM0 25h80v1h-80zM0 26h81v1h-81zM0 27h82v1h-82zM53 28h30v1h-30zM59 29h25v1h-25zM64 30h27v1h-27zM69 31h26v1h-26zM74 32h24v1h-24zM77 33h31v1h-31zM78 34h33v1h-33zM80 35h32v1h-32zM81 36h32v1h-32zM82 37h32v1h-32zM82 38h33v1h-33zM83 39h32v1h-32zM84 40h32v1h-32zM85 41h33v1h-33zM90 42h30v1h-30zM96 43h26v1h-26zM106 44h86v1h-86zM111 45h84v1h-84zM114 46h83v1h-83zM116 47h83v1h-83zM118 48h89v1h-89zM120 49h86v1h-86zM122 50h84v1h-84zM124 51h81v1h-81zM128 52h76v1h-76zM132 53h71v1h-71zM193 54h8v1h-8zM200 47h7v1h-7zM200 45h8v2h-8zM201 44h7v1h-7zM201 43h8v1h-8zM202 42h7v1h-7zM204 41h5v1h-5zM205 37h5v4h-5zM205 34h6v3h-6zM205 32h7v2h-7zM206 25h7v7h-7zM207 23h7v2h-7zM208 21h6v2h-6zM209 19h6v2h-6zM210 18h6v1h-6zM210 17h7v1h-7zM211 16h6v1h-6zM211 15h7v1h-7zM212 14h6v1h-6zM212 13h7v1h-7zM213 12h6v1h-6zM213 11h7v1h-7zM214 9h7v2h-7zM215 8h7v1h-7zM215 7h8v1h-8zM216 6h7v1h-7zM216 5h8v1h-8zM217 4h30v1h-30zM218 3h27v1h-27zM220 2h21v1h-21zM221 1h16v1h-16zM223 0h9v1h-9zM225 5h25v1h-25zM228 6h23v1h-23zM230 7h23v1h-23zM233 8h22v1h-22zM237 9h20v1h-20zM241 10h18v1h-18zM245 11h15v1h-15zM249 12h12v1h-12zM251 13h12v1h-12zM252 14h12v1h-12zM253 15h12v1h-12zM255 16h12v1h-12zM256 17h12v1h-12zM258 18h12v1h-12zM260 19h12v1h-12zM261 20h13v1h-13zM262 21h81v1h-81zM263 22h74v1h-74zM264 23h68v1h-68zM265 24h29v1h-29zM266 25h24v1h-24zM268 26h18v1h-18zM269 27h14v1h-14zM270 28h10v1h-10zM271 29h7v1h-7zM273 30h2v1h-2zM276 20h99v1h-99zM284 19h94v1h-94zM292 18h89v1h-89zM309 17h75v1h-75zM311 24h17v1h-17zM320 25h5v1h-5zM341 16h46v1h-46zM374 15h17v1h-17zM378 14h17v1h-17zM382 13h18v1h-18zM387 12h15v1h-15zM392 11h12v1h-12zM398 10h8v1h-8zM401 9h7v1h-7zM403 8h7v1h-7zM405 7h7v1h-7zM406 6h7v1h-7zM408 5h7v1h-7zM409 4h7v1h-7zM411 3h6v1h-6zM412 2h6v1h-6zM413 1h7v1h-7zM414 0h7v1h-7zM449 0h5v2h-5zM450 2h5v1h-5zM450 3h6v1h-6zM451 4h6v1h-6zM452 5h6v1h-6zM453 6h7v1h-7zM455 7h6v1h-6zM456 8h7v1h-7zM458 9h7v1h-7zM460 10h8v1h-8zM462 11h8v1h-8zM464 12h9v1h-9zM466 13h16v1h-16zM468 14h22v1h-22zM470 15h27v1h-27zM473 16h29v1h-29zM478 17h27v1h-27zM483 18h25v1h-25zM489 19h22v1h-22zM496 20h18v1h-18zM500 21h15v1h-15zM502 22h15v1h-15zM504 23h15v1h-15zM506 24h15v1h-15zM508 30h13v4h-13zM508 25h14v1h-14zM508 28h14v2h-14zM508 27h15v1h-15zM508 26h31v1h-31zM509 34h31v1h-31zM510 35h29v1h-29zM511 36h27v1h-27zM513 37h23v1h-23zM515 38h19v1h-19zM518 39h12v1h-12zM522 40h3v1h-3zM524 25h15v1h-15zM524 27h15v1h-15zM524 28h16v1h-16zM525 24h14v1h-14zM525 29h15v3h-15zM526 32h15v2h-15zM527 23h13v1h-13zM528 22h12v1h-12zM529 21h11v1h-11zM530 20h11v1h-11zM531 19h11v1h-11zM532 18h12v1h-12zM534 17h11v1h-11zM535 16h12v1h-12zM537 15h11v1h-11zM538 14h10v1h-10zM539 13h9v1h-9zM541 12h7v1h-7zM542 11h6v1h-6zM543 10h5v1h-5zM545 9h3v1h-3zM546 8h2v1h-2zM547 6h1v2h-1z"/>
<path fill="#ffc000" d="M0 28h53v1h-53zM0 29h59v1h-59zM0 30h64v1h-64zM0 31h69v1h-69zM0 32h74v1h-74zM0 79h75v2h-75zM0 67h76v12h-76zM0 33h77v1h-77zM0 62h77v2h-77zM0 34h78v1h-78zM0 60h78v2h-78zM0 59h79v1h-79zM0 35h80v1h-80zM0 36h81v1h-81zM0 58h81v1h-81zM0 37h82v2h-82zM0 39h83v1h-83zM0 40h84v1h-84zM0 57h84v1h-84zM0 41h85v1h-85zM0 56h86v1h-86zM0 55h87v1h-87zM0 54h89v1h-89zM0 42h90v1h-90zM0 53h92v1h-92zM0 43h96v1h-96zM0 52h97v1h-97zM0 44h106v1h-106zM0 45h111v1h-111zM0 46h114v1h-114zM0 47h116v1h-116zM0 48h118v1h-118zM0 49h120v1h-120zM0 50h122v1h-122zM0 51h124v1h-124zM1 64h76v1h-76zM3 66h73v1h-73zM8 65h68v1h-68zM67 81h8v1h-8zM111 52h17v1h-17zM113 53h19v1h-19zM115 54h78v1h-78zM117 55h95v1h-95zM119 56h92v1h-92zM121 57h89v1h-89zM123 58h85v1h-85zM126 59h77v1h-77zM133 60h62v1h-62zM201 54h12v1h-12zM203 53h10v1h-10zM204 52h10v1h-10zM205 51h10v1h-10zM206 49h9v2h-9zM207 48h8v1h-8zM207 47h9v1h-9zM208 44h8v3h-8zM209 43h7v1h-7zM209 41h8v2h-8zM210 40h7v1h-7zM210 38h8v2h-8zM210 37h9v1h-9zM211 36h8v1h-8zM211 35h9v1h-9zM211 34h10v1h-10zM212 33h9v1h-9zM212 32h10v1h-10zM213 25h8v2h-8zM213 27h9v3h-9zM213 30h10v2h-10zM214 21h6v1h-6zM214 22h7v3h-7zM215 20h5v1h-5zM215 19h6v1h-6zM216 18h6v1h-6zM217 17h6v1h-6zM217 16h7v1h-7zM218 14h34v1h-34zM218 15h35v1h-35zM219 12h30v1h-30zM219 13h32v1h-32zM220 11h25v1h-25zM221 9h16v1h-16zM221 10h20v1h-20zM222 8h11v1h-11zM222 76h11v3h-11zM223 6h5v1h-5zM223 70h5v1h-5zM223 71h6v1h-6zM223 83h6v1h-6zM223 7h7v1h-7zM223 72h7v1h-7zM223 82h7v1h-7zM223 73h8v2h-8zM223 81h8v1h-8zM223 75h9v1h-9zM223 80h9v1h-9zM223 79h10v1h-10zM224 5h1v1h-1zM224 87h1v1h-1zM224 68h2v1h-2zM224 85h2v2h-2zM224 69h3v1h-3zM224 84h3v1h-3zM229 16h26v1h-26zM234 17h22v1h-22zM239 18h19v1h-19zM243 19h17v1h-17zM248 20h13v1h-13zM250 21h12v1h-12zM250 22h13v1h-13zM251 23h13v1h-13zM252 24h13v1h-13zM252 25h14v1h-14zM253 26h15v1h-15zM254 27h15v1h-15zM255 28h15v1h-15zM256 29h15v1h-15zM257 30h16v1h-16zM258 32h34v1h-34zM258 31h35v1h-35zM259 33h31v1h-31zM260 34h29v1h-29zM261 35h26v1h-26zM262 37h23v1h-23zM262 36h24v1h-24zM263 41h20v2h-20zM263 39h21v2h-21zM263 38h22v1h-22zM264 46h17v3h-17zM264 43h18v3h-18zM265 49h16v6h-16zM266 55h15v6h-15zM267 61h14v7h-14zM268 68h13v3h-13zM268 71h14v3h-14zM269 80h10v1h-10zM269 79h11v1h-11zM269 78h12v1h-12zM269 74h13v4h-13zM275 30h20v1h-20zM278 29h21v1h-21zM280 28h72v1h-72zM283 27h65v1h-65zM286 26h61v1h-61zM290 25h30v1h-30zM294 24h17v1h-17zM300 29h53v1h-53zM313 30h41v1h-41zM325 31h29v1h-29zM325 25h52v1h-52zM328 24h53v1h-53zM330 32h24v1h-24zM332 23h52v1h-52zM333 33h21v1h-21zM335 34h19v1h-19zM337 35h17v1h-17zM337 22h50v1h-50zM339 36h15v1h-15zM340 37h13v1h-13zM341 38h12v1h-12zM342 39h11v1h-11zM343 40h10v2h-10zM343 21h46v1h-46zM344 43h8v1h-8zM344 42h9v1h-9zM345 44h7v2h-7zM346 46h6v1h-6zM375 20h16v1h-16zM378 19h16v1h-16zM381 18h17v1h-17zM384 17h16v1h-16zM387 16h16v1h-16zM391 15h14v1h-14zM395 14h12v1h-12zM400 13h9v1h-9zM402 12h9v1h-9zM404 11h9v1h-9zM406 10h9v1h-9zM408 9h8v1h-8zM410 8h8v1h-8zM412 7h7v1h-7zM413 6h7v1h-7zM415 5h6v1h-6zM416 4h6v1h-6zM417 3h33v1h-33zM418 2h32v1h-32zM420 1h29v1h-29zM421 0h28v1h-28zM429 4h22v1h-22zM434 5h18v1h-18zM440 6h13v1h-13zM446 7h9v1h-9zM449 8h7v1h-7zM451 9h7v1h-7zM452 10h8v1h-8zM453 11h9v1h-9zM455 12h9v1h-9zM456 13h10v1h-10zM457 14h11v1h-11zM459 15h11v1h-11zM460 16h13v1h-13zM462 17h16v1h-16zM464 18h19v1h-19zM466 19h23v1h-23zM468 20h28v1h-28zM469 26h39v8h-39zM469 34h40v1h-40zM469 35h41v1h-41zM470 21h30v1h-30zM470 66h30v1h-30zM470 60h31v6h-31zM470 56h32v4h-32zM470 55h33v1h-33zM470 53h34v2h-34zM470 52h35v1h-35zM470 51h36v1h-36zM470 25h38v1h-38zM470 50h38v1h-38zM470 49h40v1h-40zM470 36h41v1h-41zM470 37h43v1h-43zM470 48h43v1h-43zM470 38h45v1h-45zM470 39h48v1h-48zM470 47h48v1h-48zM470 40h52v1h-52zM470 41h78v6h-78zM471 77h28v6h-28zM471 67h29v10h-29zM471 24h35v1h-35zM472 83h27v1h-27zM472 22h30v1h-30zM473 23h31v1h-31zM525 40h23v1h-23zM526 47h22v1h-22zM529 48h19v1h-19zM530 39h18v1h-18zM532 49h16v1h-16zM533 50h15v1h-15zM534 38h14v1h-14zM535 51h13v1h-13zM536 37h12v1h-12zM536 52h12v1h-12zM537 53h11v1h-11zM538 36h10v1h-10zM538 54h10v1h-10zM539 24h9v4h-9zM539 35h9v1h-9zM539 55h9v2h-9zM540 21h8v3h-8zM540 28h8v4h-8zM540 34h8v1h-8zM540 57h8v3h-8zM541 20h7v1h-7zM541 32h7v2h-7zM541 60h7v4h-7zM542 19h6v1h-6zM542 64h6v5h-6zM543 69h5v9h-5zM544 18h4v1h-4zM544 78h4v15h-4zM545 17h3v1h-3zM545 93h3v1h-3zM546 94h2v1h-2zM547 16h1v1h-1z"/>
<path fill="#ffe000" d="M0 81h67v1h-67zM0 84h76v1h-76zM0 83h78v1h-78zM0 82h79v1h-79zM75 79h4v3h-4zM76 68h4v11h-4zM76 66h5v2h-5zM76 65h6v1h-6zM77 64h6v1h-6zM77 63h7v1h-7zM77 62h8v1h-8zM78 61h13v1h-13zM78 60h18v1h-18zM79 59h20v1h-20zM81 58h27v1h-27zM84 57h37v1h-37zM86 56h33v1h-33zM87 55h30v1h-30zM89 54h26v1h-26zM92 53h21v1h-21zM97 52h14v1h-14zM110 58h13v1h-13zM112 59h14v1h-14zM114 60h19v1h-19zM116 61h151v1h-151zM119 62h90v1h-90zM121 63h78v1h-78zM125 64h65v1h-65zM195 60h71v1h-71zM203 59h63v1h-63zM208 58h58v1h-58zM210 57h56v1h-56zM210 62h57v1h-57zM211 56h55v1h-55zM212 55h54v1h-54zM213 53h52v2h-52zM213 63h54v1h-54zM214 52h51v1h-51zM215 48h49v1h-49zM215 49h50v3h-50zM215 64h52v1h-52zM216 43h48v5h-48zM216 65h51v2h-51zM217 68h7v2h-7zM217 40h46v3h-46zM217 67h50v1h-50zM218 76h4v3h-4zM218 70h5v6h-5zM218 38h45v2h-45zM219 79h4v4h-4zM219 36h43v2h-43zM220 83h3v1h-3zM220 84h4v4h-4zM220 20h28v1h-28zM220 21h30v1h-30zM220 35h41v1h-41zM221 89h17v1h-17zM221 88h18v1h-18zM221 19h22v1h-22zM221 22h29v1h-29zM221 23h30v1h-30zM221 24h31v2h-31zM221 26h32v1h-32zM221 33h38v1h-38zM221 34h39v1h-39zM222 90h14v1h-14zM222 18h17v1h-17zM222 27h32v1h-32zM222 28h33v1h-33zM222 29h34v1h-34zM222 32h36v1h-36zM223 92h7v1h-7zM223 91h10v1h-10zM223 17h11v1h-11zM223 30h34v1h-34zM223 31h35v1h-35zM224 93h1v1h-1zM224 16h5v1h-5zM225 87h15v1h-15zM226 85h15v2h-15zM226 68h42v1h-42zM227 84h15v1h-15zM227 69h41v1h-41zM228 70h40v1h-40zM229 83h19v1h-19zM229 71h39v1h-39zM230 72h38v1h-38zM230 82h68v1h-68zM231 73h37v1h-37zM231 74h38v1h-38zM231 81h153v1h-153zM232 75h37v1h-37zM232 80h37v1h-37zM233 76h36v4h-36zM279 80h105v1h-105zM280 79h104v1h-104zM281 46h17v5h-17zM281 51h18v1h-18zM281 52h20v1h-20zM281 53h23v1h-23zM281 54h26v1h-26zM281 55h28v1h-28zM281 56h30v1h-30zM281 57h31v1h-31zM281 58h32v1h-32zM281 59h33v2h-33zM281 61h34v1h-34zM281 62h35v1h-35zM281 63h38v1h-38zM281 64h41v1h-41zM281 78h104v1h-104zM281 65h105v6h-105zM282 45h16v1h-16zM282 43h62v1h-62zM282 44h63v1h-63zM282 72h103v6h-103zM282 71h104v1h-104zM283 41h60v1h-60zM283 42h61v1h-61zM284 39h58v1h-58zM284 40h59v1h-59zM285 37h55v1h-55zM285 38h56v1h-56zM286 36h53v1h-53zM287 35h50v1h-50zM289 34h46v1h-46zM290 33h43v1h-43zM292 32h38v1h-38zM293 31h32v1h-32zM295 30h18v1h-18zM299 29h1v1h-1zM301 45h44v1h-44zM303 82h81v1h-81zM304 46h42v1h-42zM305 47h84v1h-84zM306 48h83v1h-83zM307 49h82v1h-82zM314 50h75v1h-75zM326 83h58v1h-58zM328 64h59v1h-59zM330 51h59v1h-59zM332 84h50v1h-50zM333 63h54v1h-54zM336 85h45v1h-45zM336 58h51v5h-51zM336 52h52v6h-52zM340 86h41v1h-41zM343 87h37v1h-37zM345 88h34v1h-34zM347 89h28v1h-28zM347 26h55v1h-55zM348 90h4v1h-4zM348 27h53v1h-53zM352 46h37v1h-37zM352 43h38v3h-38zM352 28h48v1h-48zM353 41h37v2h-37zM353 37h38v4h-38zM353 29h46v1h-46zM354 36h37v1h-37zM354 31h38v5h-38zM354 30h41v1h-41zM377 25h25v1h-25zM381 24h22v1h-22zM384 23h20v1h-20zM387 22h18v1h-18zM389 21h16v1h-16zM391 20h16v1h-16zM394 19h15v1h-15zM398 18h13v1h-13zM400 17h13v1h-13zM403 16h12v1h-12zM405 15h11v1h-11zM407 14h11v1h-11zM409 13h10v1h-10zM411 12h10v1h-10zM413 11h9v1h-9zM415 10h8v1h-8zM416 9h35v1h-35zM418 8h31v1h-31zM419 7h27v1h-27zM420 6h20v1h-20zM421 5h13v1h-13zM422 4h7v1h-7zM428 10h24v1h-24zM432 11h21v1h-21zM436 12h19v1h-19zM439 13h17v1h-17zM442 14h15v1h-15zM445 15h14v1h-14zM447 16h13v1h-13zM449 17h13v1h-13zM450 18h14v1h-14zM451 19h15v1h-15zM453 20h15v1h-15zM453 21h17v1h-17zM454 22h18v1h-18zM455 26h14v6h-14zM455 25h15v1h-15zM455 24h16v1h-16zM455 23h18v1h-18zM456 32h13v4h-13zM456 36h14v1h-14zM457 37h13v10h-13zM458 47h12v20h-12zM458 67h13v16h-13zM459 83h13v1h-13zM462 84h45v1h-45zM466 85h39v1h-39zM475 86h28v1h-28zM486 87h15v1h-15zM499 83h9v1h-9zM499 80h10v3h-10zM499 77h11v3h-11zM500 76h10v1h-10zM500 73h11v3h-11zM500 70h12v3h-12zM500 69h13v1h-13zM500 67h14v2h-14zM500 66h15v1h-15zM501 65h14v1h-14zM501 64h15v1h-15zM501 63h16v1h-16zM501 61h17v2h-17zM501 60h18v1h-18zM502 59h18v1h-18zM502 58h20v1h-20zM502 56h37v1h-37zM502 57h38v1h-38zM503 55h36v1h-36zM504 53h33v1h-33zM504 54h34v1h-34zM505 52h31v1h-31zM506 51h29v1h-29zM508 50h25v1h-25zM510 49h22v1h-22zM513 48h16v1h-16zM518 47h8v1h-8zM524 58h16v1h-16zM525 59h15v1h-15zM526 60h15v1h-15zM527 61h14v1h-14zM528 62h13v2h-13zM529 64h13v1h-13zM530 65h12v2h-12zM531 67h11v2h-11zM532 69h11v2h-11zM533 71h10v3h-10zM534 74h9v4h-9zM535 78h9v5h-9zM536 83h8v5h-8zM537 88h7v5h-7zM538 93h7v1h-7zM539 94h7v1h-7zM540 95h8v1h-8zM542 96h6v1h-6zM544 97h4v1h-4zM547 98h1v1h-1z"/>
<path fill="#f0ff00" d="M0 92h75v1h-75zM0 91h77v1h-77zM0 90h78v1h-78zM0 88h79v2h-79zM0 87h80v1h-80zM0 85h81v2h-81zM76 84h6v1h-6zM78 83h4v1h-4zM79 79h4v4h-4zM80 78h3v1h-3zM80 70h4v8h-4zM80 68h5v2h-5zM81 67h20v1h-20zM81 66h26v1h-26zM82 65h134v1h-134zM83 64h42v1h-42zM84 63h37v1h-37zM85 62h34v1h-34zM91 61h25v1h-25zM96 60h18v1h-18zM99 59h13v1h-13zM108 58h2v1h-2zM111 66h105v1h-105zM113 67h104v1h-104zM121 68h71v1h-71zM190 64h25v1h-25zM199 63h14v1h-14zM209 62h1v1h-1zM210 68h7v1h-7zM211 69h6v1h-6zM212 70h6v2h-6zM213 72h5v3h-5zM214 75h4v4h-4zM215 79h4v4h-4zM216 83h4v4h-4zM217 87h3v1h-3zM217 88h4v2h-4zM218 90h4v1h-4zM218 91h5v1h-5zM219 92h4v1h-4zM220 93h4v1h-4zM220 94h36v1h-36zM221 95h33v1h-33zM222 96h30v1h-30zM223 97h28v1h-28zM224 98h26v1h-26zM225 93h33v1h-33zM230 92h31v1h-31zM233 91h31v1h-31zM236 90h33v1h-33zM238 89h109v1h-109zM239 88h106v1h-106zM240 87h103v1h-103zM241 85h95v1h-95zM241 86h99v1h-99zM242 84h90v1h-90zM248 83h78v1h-78zM280 90h68v1h-68zM286 91h117v1h-117zM292 92h109v1h-109zM298 45h3v1h-3zM298 82h5v1h-5zM298 46h6v1h-6zM298 47h7v1h-7zM298 48h8v1h-8zM298 49h9v1h-9zM298 50h16v1h-16zM298 93h101v1h-101zM299 51h31v1h-31zM301 52h35v1h-35zM304 53h32v1h-32zM307 54h29v1h-29zM309 55h27v1h-27zM311 56h25v1h-25zM312 57h24v1h-24zM313 58h23v1h-23zM314 59h22v2h-22zM315 61h21v1h-21zM316 62h20v1h-20zM319 63h14v1h-14zM322 64h6v1h-6zM326 94h67v1h-67zM328 95h52v1h-52zM332 96h39v1h-39zM337 97h28v1h-28zM345 98h10v1h-10zM352 90h53v1h-53zM375 89h32v1h-32zM379 88h30v1h-30zM380 87h30v1h-30zM381 86h31v1h-31zM381 85h32v1h-32zM382 84h33v1h-33zM384 82h32v2h-32zM384 79h33v3h-33zM385 78h32v1h-32zM385 75h33v3h-33zM385 72h34v3h-34zM386 70h34v2h-34zM386 67h35v3h-35zM386 65h36v2h-36zM387 58h33v1h-33zM387 59h34v1h-34zM387 60h35v1h-35zM387 61h36v4h-36zM388 52h29v2h-29zM388 54h30v2h-30zM388 56h31v2h-31zM389 46h25v2h-25zM389 48h26v2h-26zM389 50h27v2h-27zM390 45h24v1h-24zM390 41h25v4h-25zM391 39h24v2h-24zM391 36h25v3h-25zM392 34h24v2h-24zM392 31h25v3h-25zM395 30h22v1h-22zM399 29h19v1h-19zM400 28h18v1h-18zM401 27h18v1h-18zM402 25h17v2h-17zM403 24h17v1h-17zM404 23h16v1h-16zM405 21h15v2h-15zM407 20h14v1h-14zM409 19h14v1h-14zM411 18h39v1h-39zM413 17h36v1h-36zM415 16h32v1h-32zM416 15h29v1h-29zM418 14h24v1h-24zM419 13h20v1h-20zM421 12h15v1h-15zM422 11h10v1h-10zM423 10h5v1h-5zM424 62h34v1h-34zM425 19h26v1h-26zM425 63h33v1h-33zM427 61h31v1h-31zM427 64h31v1h-31zM428 20h25v1h-25zM428 65h30v1h-30zM429 21h24v1h-24zM429 60h29v1h-29zM429 66h29v1h-29zM430 22h24v1h-24zM430 23h25v2h-25zM430 67h28v1h-28zM431 25h24v2h-24zM431 59h27v1h-27zM431 68h27v1h-27zM432 27h23v3h-23zM432 69h26v1h-26zM433 30h22v2h-22zM433 58h25v1h-25zM433 70h25v2h-25zM434 32h22v2h-22zM434 57h24v1h-24zM434 72h24v1h-24zM435 34h21v2h-21zM435 56h23v1h-23zM435 73h23v2h-23zM436 36h20v1h-20zM436 37h21v1h-21zM436 54h22v2h-22zM436 75h22v3h-22zM437 38h20v2h-20zM437 53h21v1h-21zM437 78h21v2h-21zM438 40h19v2h-19zM438 50h20v3h-20zM438 80h20v3h-20zM439 42h18v5h-18zM439 47h19v3h-19zM439 83h20v1h-20zM440 84h22v1h-22zM442 85h24v1h-24zM443 86h32v1h-32zM445 87h41v1h-41zM446 88h66v1h-66zM448 89h63v1h-63zM449 90h61v1h-61zM466 91h43v1h-43zM478 92h29v1h-29zM482 93h24v1h-24zM485 94h20v1h-20zM489 95h14v1h-14zM492 96h10v1h-10zM495 97h5v1h-5zM497 98h2v1h-2zM501 87h13v1h-13zM503 86h12v1h-12zM505 85h11v1h-11zM507 84h10v1h-10zM508 83h10v1h-10zM509 80h10v3h-10zM510 78h10v2h-10zM510 76h11v2h-11zM511 74h11v2h-11zM511 73h22v1h-22zM512 70h20v1h-20zM512 71h21v2h-21zM513 69h19v1h-19zM514 67h17v2h-17zM515 65h15v2h-15zM516 64h13v1h-13zM517 63h11v1h-11zM518 61h9v1h-9zM518 62h10v1h-10zM519 60h7v1h-7zM520 59h5v1h-5zM522 58h2v1h-2zM524 74h10v2h-10zM525 76h9v2h-9zM526 78h9v3h-9zM527 81h8v2h-8zM527 83h9v1h-9zM528 84h8v3h-8zM529 87h7v1h-7zM529 88h8v2h-8zM530 90h7v3h-7zM531 93h7v1h-7zM531 94h8v1h-8zM533 95h7v1h-7zM534 96h8v1h-8zM535 97h9v1h-9zM537 98h10v1h-10zM538 99h10v1h-10zM539 100h9v1h-9zM540 101h8v1h-8zM541 102h7v1h-7zM542 103h6v1h-6zM543 104h5v1h-5zM544 105h4v1h-4zM545 106h3v1h-3zM546 107h2v1h-2zM547 108h1v1h-1z"/>
<path fill="#c8ff00" d="M0 107h76v1h-76zM0 106h77v1h-77zM0 105h78v1h-78zM0 104h80v1h-80zM0 103h81v1h-81zM0 102h82v1h-82zM0 100h83v2h-83zM0 99h84v1h-84zM0 98h87v1h-87zM0 97h94v1h-94zM0 96h101v1h-101zM0 95h104v1h-104zM0 94h106v1h-106zM0 93h108v1h-108zM75 92h34v1h-34zM77 91h33v1h-33zM78 90h32v1h-32zM79 89h31v1h-31zM79 88h32v1h-32zM80 87h31v1h-31zM81 86h30v1h-30zM81 85h31v1h-31zM82 83h30v2h-30zM83 82h30v1h-30zM83 81h31v1h-31zM83 80h32v1h-32zM83 79h33v1h-33zM83 78h34v1h-34zM84 77h35v1h-35zM84 76h37v1h-37zM84 75h39v1h-39zM84 74h43v1h-43zM84 73h50v1h-50zM84 70h128v2h-128zM84 72h129v1h-129zM85 68h36v1h-36zM85 69h126v1h-126zM101 67h12v1h-12zM107 66h4v1h-4zM192 68h18v1h-18zM202 73h11v1h-11zM206 74h7v1h-7zM208 75h6v1h-6zM210 76h4v3h-4zM211 79h4v3h-4zM212 82h3v1h-3zM212 83h4v3h-4zM213 86h3v1h-3zM213 87h4v3h-4zM214 90h4v2h-4zM215 92h4v1h-4zM215 93h5v1h-5zM216 94h4v1h-4zM216 95h5v1h-5zM217 96h5v1h-5zM218 97h5v1h-5zM218 98h6v1h-6zM219 100h246v1h-246zM219 99h251v1h-251zM220 102h52v1h-52zM220 101h240v1h-240zM221 103h48v1h-48zM222 105h42v1h-42zM222 104h44v1h-44zM223 107h36v1h-36zM223 106h38v1h-38zM224 108h33v1h-33zM225 109h31v1h-31zM230 110h24v1h-24zM235 111h18v1h-18zM240 112h11v1h-11zM245 113h5v1h-5zM250 98h95v1h-95zM251 97h86v1h-86zM252 96h80v1h-80zM254 95h74v1h-74zM256 94h70v1h-70zM258 93h40v1h-40zM261 92h31v1h-31zM264 91h22v1h-22zM269 90h11v1h-11zM277 102h178v1h-178zM282 103h169v1h-169zM286 104h136v1h-136zM290 105h128v1h-128zM293 106h121v1h-121zM295 107h114v1h-114zM298 108h105v1h-105zM326 109h46v1h-46zM332 110h34v1h-34zM337 111h24v1h-24zM342 112h14v1h-14zM345 113h7v1h-7zM355 98h142v1h-142zM365 97h130v1h-130zM371 96h121v1h-121zM380 95h109v1h-109zM393 94h92v1h-92zM399 93h83v1h-83zM401 92h77v1h-77zM403 91h63v1h-63zM405 90h44v1h-44zM407 89h41v1h-41zM409 88h37v1h-37zM410 87h35v1h-35zM412 86h31v1h-31zM413 85h29v1h-29zM414 45h25v3h-25zM415 39h22v1h-22zM415 40h23v2h-23zM415 42h24v3h-24zM415 48h24v2h-24zM415 84h25v1h-25zM416 34h19v2h-19zM416 36h20v2h-20zM416 38h21v1h-21zM416 50h22v2h-22zM416 82h22v1h-22zM416 83h23v1h-23zM417 30h16v2h-16zM417 32h17v2h-17zM417 53h20v1h-20zM417 78h20v2h-20zM417 52h21v1h-21zM417 80h21v2h-21zM418 28h14v2h-14zM418 54h18v2h-18zM418 75h18v3h-18zM419 25h12v2h-12zM419 27h13v1h-13zM419 57h15v1h-15zM419 72h15v1h-15zM419 56h16v1h-16zM419 73h16v2h-16zM420 21h9v1h-9zM420 22h10v3h-10zM420 58h13v1h-13zM420 70h13v2h-13zM421 20h7v1h-7zM421 67h9v1h-9zM421 59h10v1h-10zM421 68h10v1h-10zM421 69h11v1h-11zM422 65h6v1h-6zM422 60h7v1h-7zM422 66h7v1h-7zM423 62h1v1h-1zM423 19h2v1h-2zM423 63h2v1h-2zM423 61h4v1h-4zM423 64h4v1h-4zM475 99h40v1h-40zM477 100h37v1h-37zM480 101h33v1h-33zM482 102h29v1h-29zM484 103h25v1h-25zM487 104h21v1h-21zM489 105h17v1h-17zM492 106h12v1h-12zM494 107h8v1h-8zM496 108h4v1h-4zM499 98h17v1h-17zM500 97h18v1h-18zM502 96h17v1h-17zM503 95h17v1h-17zM505 94h16v1h-16zM506 93h16v1h-16zM507 92h23v1h-23zM509 91h21v1h-21zM510 90h20v1h-20zM511 89h18v1h-18zM512 88h17v1h-17zM514 87h15v1h-15zM515 86h13v1h-13zM516 85h12v1h-12zM517 84h11v1h-11zM518 83h9v1h-9zM519 80h7v1h-7zM519 81h8v2h-8zM520 78h6v2h-6zM521 76h4v2h-4zM522 74h2v2h-2zM524 93h7v2h-7zM525 95h8v1h-8zM525 96h9v1h-9zM526 97h9v1h-9zM527 98h10v1h-10zM528 99h10v1h-10zM528 100h11v1h-11zM529 101h11v1h-11zM530 102h11v1h-11zM531 103h11v1h-11zM531 104h12v1h-12zM532 105h12v1h-12zM533 106h12v1h-12zM534 107h12v1h-12zM535 108h12v1h-12zM536 109h12v1h-12zM538 110h10v1h-10zM540 111h8v1h-8zM542 112h6v1h-6zM545 113h3v1h-3z"/>
<path fill="#a0ff00" d="M0 112h114v1h-114zM0 109h115v3h-115zM0 108h116v1h-116zM75 113h39v1h-39zM76 107h40v1h-40zM77 106h39v1h-39zM78 105h38v1h-38zM79 114h35v1h-35zM80 104h37v1h-37zM81 115h32v1h-32zM81 103h36v1h-36zM82 116h31v1h-31zM82 102h35v1h-35zM83 117h30v1h-30zM83 101h34v1h-34zM83 100h35v1h-35zM84 118h29v1h-29zM84 99h34v1h-34zM85 119h27v1h-27zM87 98h31v1h-31zM88 120h24v1h-24zM91 121h21v1h-21zM93 122h19v1h-19zM94 97h25v1h-25zM95 123h17v1h-17zM97 124h14v1h-14zM98 125h13v1h-13zM99 126h12v1h-12zM101 96h18v1h-18zM102 127h9v1h-9zM104 128h7v1h-7zM104 95h15v1h-15zM106 129h4v1h-4zM106 94h13v1h-13zM107 130h3v1h-3zM108 93h12v1h-12zM109 131h1v1h-1zM109 92h11v1h-11zM110 89h11v3h-11zM111 87h11v2h-11zM111 86h12v1h-12zM112 85h11v1h-11zM112 84h12v1h-12zM112 83h13v1h-13zM113 82h12v1h-12zM114 81h12v1h-12zM115 80h13v1h-13zM116 79h14v1h-14zM117 78h16v1h-16zM119 77h91v1h-91zM121 76h89v1h-89zM123 75h85v1h-85zM127 74h79v1h-79zM134 73h68v1h-68zM195 78h15v1h-15zM200 79h11v1h-11zM202 80h9v1h-9zM203 81h8v1h-8zM205 82h7v1h-7zM206 83h6v1h-6zM207 84h5v2h-5zM208 86h5v1h-5zM209 87h4v2h-4zM210 89h3v1h-3zM210 90h4v2h-4zM210 92h5v1h-5zM211 93h4v1h-4zM211 94h5v1h-5zM212 95h4v1h-4zM212 96h5v1h-5zM212 97h6v1h-6zM213 98h5v1h-5zM213 99h6v1h-6zM214 100h5v1h-5zM214 101h6v1h-6zM215 102h5v1h-5zM215 103h6v1h-6zM216 104h6v2h-6zM216 106h7v1h-7zM217 107h6v1h-6zM217 108h7v1h-7zM218 109h7v1h-7zM218 110h12v1h-12zM219 111h16v1h-16zM219 112h21v1h-21zM220 113h25v1h-25zM220 115h44v1h-44zM220 114h46v1h-46zM221 117h40v1h-40zM221 116h42v1h-42zM222 119h37v1h-37zM222 118h38v1h-38zM223 122h32v1h-32zM223 121h33v1h-33zM223 120h35v1h-35zM224 123h30v2h-30zM228 125h25v1h-25zM233 126h19v1h-19zM238 127h13v1h-13zM243 128h7v1h-7zM247 129h3v1h-3zM250 113h18v1h-18zM251 112h18v1h-18zM253 111h18v1h-18zM254 110h20v1h-20zM256 109h70v1h-70zM257 108h41v1h-41zM259 107h36v1h-36zM261 106h32v1h-32zM264 105h26v1h-26zM266 104h20v1h-20zM269 103h13v1h-13zM272 102h5v1h-5zM275 110h57v1h-57zM278 111h59v1h-59zM281 112h61v1h-61zM284 113h61v1h-61zM287 114h169v1h-169zM289 115h165v1h-165zM292 116h159v1h-159zM294 117h155v1h-155zM296 118h146v1h-146zM299 119h138v1h-138zM328 120h42v1h-42zM333 121h32v1h-32zM337 122h23v1h-23zM342 123h13v1h-13zM347 124h4v1h-4zM352 113h107v1h-107zM356 112h106v1h-106zM361 111h104v1h-104zM366 110h103v1h-103zM372 109h100v1h-100zM385 120h49v1h-49zM396 121h34v1h-34zM403 108h93v1h-93zM408 122h20v1h-20zM409 107h85v1h-85zM414 106h78v1h-78zM416 123h10v1h-10zM418 105h71v1h-71zM422 124h2v1h-2zM422 104h65v1h-65zM451 103h33v1h-33zM455 102h27v1h-27zM460 101h20v1h-20zM465 100h12v1h-12zM470 99h5v1h-5zM474 109h62v1h-62zM476 110h44v1h-44zM479 111h39v1h-39zM481 112h34v1h-34zM483 113h30v1h-30zM486 114h25v1h-25zM488 115h20v1h-20zM491 116h15v1h-15zM493 117h10v1h-10zM495 118h6v1h-6zM498 119h1v1h-1zM500 108h35v1h-35zM502 107h32v1h-32zM504 106h29v1h-29zM506 105h26v1h-26zM508 104h23v1h-23zM509 103h22v1h-22zM511 102h19v1h-19zM513 101h16v1h-16zM514 100h14v1h-14zM515 99h13v1h-13zM516 98h11v1h-11zM518 97h8v1h-8zM519 96h6v1h-6zM520 95h5v1h-5zM521 94h3v1h-3zM522 93h2v1h-2zM525 110h13v1h-13zM526 111h14v1h-14zM528 112h14v1h-14zM529 113h16v1h-16zM531 114h17v1h-17zM533 115h15v1h-15zM535 116h13v1h-13zM537 117h11v1h-11zM539 118h9v1h-9zM541 119h7v1h-7zM543 120h5v1h-5zM545 121h3v1h-3zM547 122h1v1h-1z"/>
<path fill="#78ff00" d="M0 113h75v1h-75zM0 114h79v1h-79zM0 115h81v1h-81zM0 116h82v1h-82zM0 117h83v1h-83zM0 118h84v1h-84zM0 119h85v1h-85zM76 120h12v1h-12zM78 121h13v1h-13zM79 122h14v1h-14zM80 123h15v1h-15zM81 124h16v1h-16zM81 125h17v1h-17zM82 126h17v1h-17zM82 127h20v1h-20zM83 128h21v1h-21zM83 129h23v1h-23zM84 130h23v1h-23zM84 131h25v1h-25zM84 132h31v2h-31zM85 134h29v2h-29zM88 136h26v1h-26zM90 137h24v1h-24zM92 138h21v1h-21zM94 139h19v1h-19zM96 140h17v1h-17zM98 141h15v1h-15zM100 142h12v1h-12zM101 143h11v1h-11zM102 144h10v1h-10zM103 145h9v1h-9zM104 146h7v1h-7zM105 147h6v1h-6zM106 148h5v1h-5zM107 149h4v1h-4zM108 150h2v1h-2zM109 151h1v1h-1zM110 129h6v3h-6zM111 126h6v3h-6zM111 124h7v2h-7zM112 123h6v1h-6zM112 120h7v3h-7zM112 119h8v1h-8zM113 118h7v1h-7zM113 115h8v3h-8zM114 113h8v2h-8zM114 112h9v1h-9zM115 111h8v1h-8zM115 110h9v1h-9zM115 109h10v1h-10zM116 107h9v2h-9zM116 105h10v2h-10zM117 104h9v1h-9zM117 101h10v3h-10zM118 98h10v3h-10zM119 95h10v3h-10zM119 94h11v1h-11zM120 93h10v1h-10zM120 92h11v1h-11zM121 90h10v2h-10zM121 89h11v1h-11zM122 88h10v1h-10zM122 87h11v1h-11zM123 85h10v2h-10zM124 84h10v1h-10zM125 82h9v2h-9zM126 81h9v1h-9zM128 80h74v1h-74zM130 79h70v1h-70zM133 78h62v1h-62zM190 81h13v1h-13zM190 82h15v1h-15zM191 83h15v1h-15zM193 84h14v1h-14zM195 85h12v1h-12zM199 86h9v1h-9zM200 87h9v2h-9zM200 89h10v1h-10zM201 90h9v2h-9zM202 92h8v1h-8zM202 93h9v1h-9zM203 94h8v1h-8zM203 95h9v1h-9zM204 96h8v2h-8zM205 98h8v1h-8zM206 99h7v1h-7zM206 100h8v1h-8zM207 101h7v1h-7zM208 102h7v1h-7zM209 103h6v1h-6zM210 104h6v3h-6zM211 107h6v2h-6zM212 109h6v2h-6zM212 111h7v1h-7zM213 112h6v1h-6zM213 113h7v1h-7zM214 114h6v2h-6zM214 116h7v1h-7zM215 117h6v1h-6zM215 118h7v1h-7zM216 119h6v1h-6zM216 120h7v1h-7zM217 121h6v2h-6zM217 123h7v1h-7zM218 124h6v1h-6zM218 125h10v1h-10zM219 126h14v1h-14zM219 127h19v1h-19zM220 128h23v1h-23zM220 129h27v1h-27zM221 131h37v1h-37zM221 130h38v1h-38zM222 133h33v1h-33zM222 132h34v1h-34zM223 135h30v1h-30zM223 134h31v1h-31zM224 136h28v1h-28zM225 137h26v1h-26zM232 138h19v1h-19zM240 139h10v1h-10zM250 129h10v1h-10zM250 128h11v1h-11zM251 127h11v1h-11zM252 126h11v1h-11zM253 125h11v1h-11zM254 124h12v1h-12zM254 123h13v1h-13zM255 122h13v1h-13zM256 121h14v1h-14zM258 120h13v1h-13zM259 119h14v1h-14zM260 118h36v1h-36zM261 117h33v1h-33zM263 116h29v1h-29zM264 115h25v1h-25zM266 114h21v1h-21zM268 113h16v1h-16zM269 112h12v1h-12zM271 111h7v1h-7zM274 110h1v1h-1zM276 119h23v1h-23zM279 120h49v1h-49zM281 121h52v1h-52zM284 122h53v1h-53zM286 123h56v1h-56zM288 124h59v1h-59zM290 125h162v1h-162zM292 126h158v1h-158zM294 127h153v1h-153zM296 128h148v1h-148zM298 129h143v1h-143zM328 130h44v1h-44zM335 131h32v1h-32zM340 132h22v1h-22zM344 133h13v1h-13zM347 134h6v1h-6zM351 124h71v1h-71zM355 123h61v1h-61zM360 122h48v1h-48zM365 121h31v1h-31zM370 120h15v1h-15zM377 130h61v1h-61zM386 131h50v1h-50zM393 132h41v1h-41zM400 133h33v1h-33zM405 134h26v1h-26zM409 135h20v1h-20zM412 136h16v1h-16zM416 137h10v1h-10zM419 138h6v1h-6zM421 139h3v1h-3zM424 124h31v1h-31zM426 123h33v1h-33zM428 122h34v1h-34zM430 121h36v1h-36zM434 120h36v1h-36zM437 119h61v1h-61zM442 118h53v1h-53zM449 117h44v1h-44zM451 116h40v1h-40zM454 115h34v1h-34zM456 114h30v1h-30zM459 113h24v1h-24zM462 112h19v1h-19zM465 111h14v1h-14zM469 110h7v1h-7zM472 109h2v1h-2zM476 120h43v1h-43zM480 121h35v1h-35zM483 122h28v1h-28zM486 123h22v1h-22zM490 124h15v1h-15zM493 125h9v1h-9zM497 126h3v1h-3zM499 119h42v1h-42zM501 118h38v1h-38zM503 117h34v1h-34zM506 116h29v1h-29zM508 115h25v1h-25zM511 114h20v1h-20zM513 113h16v1h-16zM515 112h13v1h-13zM518 111h8v1h-8zM520 110h5v1h-5zM526 120h17v1h-17zM529 121h16v1h-16zM532 122h15v1h-15zM534 123h14v1h-14zM537 124h11v1h-11zM539 125h9v1h-9zM540 126h8v1h-8zM542 127h6v1h-6zM544 128h4v1h-4zM547 129h1v1h-1z"/>
<path fill="#4cff00" d="M0 120h76v1h-76zM0 121h78v1h-78zM0 122h79v1h-79zM0 123h80v1h-80zM0 124h81v1h-81zM76 125h5v1h-5zM77 126h5v2h-5zM78 128h5v1h-5zM79 129h4v1h-4zM79 130h5v1h-5zM80 131h4v2h-4zM81 133h3v1h-3zM81 134h4v1h-4zM82 135h3v1h-3zM82 136h6v1h-6zM82 137h8v1h-8zM83 138h9v1h-9zM83 139h11v1h-11zM83 140h13v1h-13zM83 141h15v1h-15zM83 142h17v1h-17zM84 143h17v1h-17zM84 144h18v1h-18zM84 145h19v1h-19zM84 146h20v1h-20zM85 147h20v1h-20zM86 148h20v1h-20zM87 149h20v1h-20zM88 150h20v1h-20zM90 151h19v1h-19zM91 152h24v1h-24zM92 153h23v1h-23zM93 154h21v1h-21zM95 155h19v1h-19zM110 151h5v1h-5zM110 150h6v1h-6zM111 147h5v3h-5zM111 146h6v1h-6zM112 143h5v3h-5zM112 142h6v1h-6zM113 139h5v3h-5zM113 138h6v1h-6zM114 135h5v3h-5zM114 134h6v1h-6zM115 133h5v1h-5zM115 132h6v1h-6zM116 131h5v1h-5zM116 129h6v2h-6zM117 127h6v2h-6zM117 126h7v1h-7zM118 125h6v1h-6zM118 124h7v1h-7zM118 123h8v1h-8zM119 122h7v1h-7zM119 121h8v1h-8zM119 120h9v1h-9zM120 118h9v2h-9zM121 117h9v1h-9zM121 115h10v2h-10zM122 114h10v1h-10zM122 113h11v1h-11zM123 112h10v1h-10zM123 111h11v1h-11zM124 110h11v1h-11zM125 107h86v2h-86zM125 109h87v1h-87zM126 104h84v3h-84zM127 101h80v1h-80zM127 102h81v1h-81zM127 103h82v1h-82zM128 98h77v1h-77zM128 99h78v2h-78zM129 95h74v1h-74zM129 96h75v2h-75zM130 93h72v1h-72zM130 94h73v1h-73zM131 90h70v2h-70zM131 92h71v1h-71zM132 88h68v2h-68zM133 85h62v1h-62zM133 86h66v1h-66zM133 87h67v1h-67zM134 82h56v1h-56zM134 83h57v1h-57zM134 84h59v1h-59zM135 81h55v1h-55zM190 110h22v1h-22zM193 111h19v1h-19zM196 112h17v1h-17zM198 113h15v1h-15zM199 114h15v1h-15zM201 115h13v1h-13zM203 116h11v1h-11zM205 117h10v1h-10zM207 118h8v1h-8zM209 119h7v1h-7zM210 120h6v1h-6zM210 121h7v1h-7zM211 122h6v2h-6zM211 124h7v1h-7zM212 125h6v1h-6zM212 126h7v1h-7zM213 127h6v1h-6zM213 128h7v1h-7zM214 129h6v1h-6zM214 130h7v2h-7zM215 132h7v2h-7zM216 134h7v2h-7zM217 136h7v1h-7zM217 137h8v1h-8zM217 138h15v1h-15zM218 139h22v1h-22zM218 140h38v1h-38zM219 142h36v1h-36zM219 141h37v1h-37zM220 144h34v1h-34zM220 143h35v1h-35zM221 145h32v2h-32zM222 147h30v1h-30zM223 149h27v1h-27zM223 148h28v1h-28zM224 150h26v1h-26zM250 139h7v1h-7zM251 138h7v1h-7zM251 137h8v1h-8zM252 136h9v1h-9zM253 135h9v1h-9zM254 134h9v1h-9zM255 133h9v1h-9zM256 132h10v1h-10zM258 131h9v1h-9zM259 130h10v1h-10zM260 129h10v1h-10zM261 128h10v1h-10zM262 127h11v1h-11zM263 126h29v1h-29zM264 125h26v1h-26zM266 124h22v1h-22zM267 123h19v1h-19zM268 122h16v1h-16zM270 121h11v1h-11zM271 120h8v1h-8zM273 119h3v1h-3zM276 127h18v1h-18zM278 128h18v1h-18zM281 129h17v1h-17zM284 130h44v1h-44zM287 131h48v1h-48zM290 132h50v1h-50zM293 133h51v1h-51zM296 134h51v1h-51zM325 135h84v1h-84zM329 136h83v1h-83zM333 137h83v1h-83zM336 138h83v1h-83zM338 139h83v1h-83zM341 140h95v1h-95zM342 141h29v1h-29zM343 142h25v1h-25zM345 143h19v1h-19zM347 144h11v1h-11zM348 145h3v1h-3zM353 134h52v1h-52zM357 133h43v1h-43zM362 132h31v1h-31zM367 131h19v1h-19zM372 130h5v1h-5zM378 141h57v1h-57zM385 142h48v1h-48zM397 143h35v1h-35zM400 144h31v1h-31zM403 145h27v1h-27zM405 146h24v1h-24zM407 147h21v1h-21zM410 148h17v1h-17zM412 149h15v1h-15zM415 150h11v1h-11zM418 151h7v1h-7zM422 152h2v1h-2zM424 139h14v1h-14zM425 138h15v1h-15zM426 137h16v1h-16zM428 136h16v1h-16zM429 135h19v1h-19zM431 134h18v1h-18zM433 133h18v1h-18zM434 132h19v1h-19zM436 131h20v1h-20zM438 130h20v1h-20zM441 129h21v1h-21zM444 128h22v1h-22zM447 127h23v1h-23zM450 126h47v1h-47zM452 125h41v1h-41zM455 124h35v1h-35zM459 123h27v1h-27zM462 122h21v1h-21zM466 121h14v1h-14zM470 120h6v1h-6zM477 127h42v1h-42zM483 128h33v1h-33zM488 129h24v1h-24zM494 130h12v1h-12zM500 126h21v1h-21zM502 125h20v1h-20zM505 124h32v1h-32zM508 123h26v1h-26zM511 122h21v1h-21zM515 121h14v1h-14zM519 120h7v1h-7zM524 125h15v1h-15zM525 126h15v1h-15zM526 127h16v1h-16zM527 128h17v1h-17zM528 129h19v1h-19zM530 130h18v1h-18zM531 131h17v1h-17zM533 132h15v1h-15zM534 133h14v1h-14zM536 134h12v1h-12zM538 135h10v1h-10zM540 136h8v1h-8zM541 137h7v1h-7zM544 138h4v1h-4zM546 139h2v1h-2z"/>
<path fill="#20ff00" d="M0 136h1v1h-1zM0 135h2v1h-2zM0 134h4v1h-4zM0 133h5v1h-5zM0 132h8v1h-8zM0 131h12v1h-12zM0 130h20v1h-20zM0 125h76v1h-76zM0 126h77v2h-77zM0 128h78v1h-78zM0 129h79v1h-79zM75 130h4v1h-4zM76 131h4v1h-4zM77 132h3v1h-3zM77 133h4v1h-4zM78 134h3v1h-3zM78 135h4v1h-4zM79 136h3v2h-3zM80 138h3v5h-3zM80 143h4v2h-4zM81 145h3v2h-3zM81 147h4v1h-4zM81 148h5v1h-5zM81 149h6v1h-6zM81 150h7v1h-7zM82 151h8v1h-8zM82 152h9v1h-9zM82 153h10v1h-10zM82 154h11v1h-11zM82 155h13v1h-13zM114 154h6v2h-6zM115 151h6v3h-6zM116 149h5v2h-5zM116 147h6v2h-6zM117 144h5v3h-5zM117 143h6v1h-6zM118 140h5v3h-5zM118 139h6v1h-6zM119 136h5v3h-5zM119 135h6v1h-6zM120 134h6v1h-6zM120 133h7v1h-7zM121 132h7v1h-7zM121 131h8v1h-8zM122 130h8v1h-8zM122 129h10v1h-10zM123 128h10v1h-10zM123 127h11v1h-11zM124 125h88v2h-88zM125 124h86v1h-86zM126 122h85v2h-85zM127 121h83v1h-83zM128 120h82v1h-82zM129 118h78v1h-78zM129 119h80v1h-80zM130 117h75v1h-75zM131 115h70v1h-70zM131 116h72v1h-72zM132 114h67v1h-67zM133 112h63v1h-63zM133 113h65v1h-65zM134 111h59v1h-59zM135 110h55v1h-55zM192 127h21v1h-21zM195 128h18v1h-18zM198 129h16v1h-16zM201 130h13v1h-13zM203 131h11v1h-11zM205 132h10v1h-10zM207 133h8v1h-8zM208 134h8v1h-8zM209 135h7v1h-7zM210 136h7v3h-7zM210 139h8v2h-8zM211 141h8v2h-8zM211 143h9v2h-9zM212 145h9v2h-9zM212 147h10v1h-10zM213 148h10v2h-10zM213 150h11v1h-11zM214 153h43v1h-43zM214 151h44v2h-44zM215 155h40v1h-40zM215 154h41v1h-41zM250 149h9v2h-9zM251 148h9v1h-9zM252 147h9v1h-9zM253 145h8v2h-8zM254 144h8v1h-8zM255 143h7v1h-7zM255 142h8v1h-8zM256 140h7v2h-7zM257 139h8v1h-8zM258 138h8v1h-8zM259 137h8v1h-8zM261 136h8v1h-8zM262 135h8v1h-8zM263 134h9v1h-9zM264 133h10v1h-10zM266 132h24v1h-24zM267 131h20v1h-20zM269 130h15v1h-15zM270 129h11v1h-11zM271 128h7v1h-7zM273 127h3v1h-3zM275 133h18v1h-18zM279 134h17v1h-17zM282 135h43v1h-43zM285 136h44v1h-44zM289 137h44v1h-44zM292 138h44v1h-44zM296 139h42v1h-42zM324 140h17v1h-17zM325 141h17v1h-17zM326 142h17v1h-17zM326 143h19v1h-19zM327 144h20v1h-20zM328 145h20v1h-20zM329 146h76v1h-76zM330 147h77v1h-77zM331 148h79v1h-79zM332 149h80v1h-80zM333 150h82v1h-82zM334 151h84v1h-84zM335 152h87v1h-87zM336 153h97v1h-97zM337 154h96v1h-96zM338 155h94v1h-94zM351 145h52v1h-52zM358 144h42v1h-42zM364 143h33v1h-33zM368 142h17v1h-17zM371 141h7v1h-7zM424 152h10v1h-10zM425 151h10v1h-10zM426 150h10v1h-10zM427 149h9v1h-9zM427 148h10v1h-10zM428 147h10v1h-10zM429 146h10v1h-10zM430 145h10v1h-10zM431 144h11v1h-11zM432 143h11v1h-11zM433 142h12v1h-12zM435 141h12v1h-12zM436 140h12v1h-12zM438 139h13v1h-13zM440 138h13v1h-13zM442 137h13v1h-13zM444 136h13v1h-13zM448 135h11v1h-11zM449 134h12v1h-12zM451 133h13v1h-13zM453 132h14v1h-14zM456 131h15v1h-15zM458 130h36v1h-36zM462 129h26v1h-26zM466 128h17v1h-17zM470 127h7v1h-7zM476 131h55v1h-55zM484 132h49v1h-49zM492 133h42v1h-42zM504 134h32v1h-32zM506 130h24v1h-24zM512 129h16v1h-16zM514 135h24v1h-24zM516 128h11v1h-11zM518 136h22v1h-22zM519 127h7v1h-7zM520 137h21v1h-21zM521 126h4v1h-4zM521 138h23v1h-23zM522 125h2v1h-2zM522 139h24v1h-24zM523 140h25v1h-25zM525 141h23v1h-23zM526 142h22v1h-22zM528 143h20v1h-20zM529 144h19v1h-19zM531 145h17v1h-17zM532 146h16v1h-16zM533 147h15v1h-15zM534 148h14v1h-14zM536 149h12v1h-12zM537 150h11v1h-11zM538 151h10v1h-10zM539 152h9v1h-9zM540 153h8v1h-8zM541 154h7v1h-7zM542 155h6v1h-6z"/>
<path fill="#00ff10" d="M0 152h13v4h-13zM0 147h14v5h-14zM0 142h15v5h-15zM0 139h16v3h-16zM0 137h17v2h-17zM1 136h19v1h-19zM2 135h22v1h-22zM4 134h74v1h-74zM5 133h72v1h-72zM8 132h69v1h-69zM12 131h64v1h-64zM20 130h55v1h-55zM75 135h3v1h-3zM76 136h3v2h-3zM76 138h4v1h-4zM77 139h3v6h-3zM77 145h4v6h-4zM78 151h4v5h-4zM120 154h7v2h-7zM121 150h7v4h-7zM121 149h8v1h-8zM122 145h7v4h-7zM122 144h8v1h-8zM123 141h7v3h-7zM123 140h8v1h-8zM124 139h7v1h-7zM124 138h8v1h-8zM124 137h10v1h-10zM124 136h86v1h-86zM125 135h84v1h-84zM126 134h82v1h-82zM127 133h80v1h-80zM128 132h77v1h-77zM129 131h74v1h-74zM130 130h71v1h-71zM132 129h66v1h-66zM133 128h62v1h-62zM134 127h58v1h-58zM190 137h20v1h-20zM195 138h15v1h-15zM198 139h12v1h-12zM199 140h11v1h-11zM200 141h11v4h-11zM201 145h11v3h-11zM201 148h12v2h-12zM202 150h11v1h-11zM202 151h12v3h-12zM203 154h12v2h-12zM255 155h11v1h-11zM256 154h11v1h-11zM257 153h10v1h-10zM258 151h10v2h-10zM259 150h9v1h-9zM259 149h10v1h-10zM260 148h9v1h-9zM261 146h8v2h-8zM261 145h9v1h-9zM262 143h8v2h-8zM263 141h7v2h-7zM263 140h8v1h-8zM265 139h7v1h-7zM266 138h26v1h-26zM267 137h22v1h-22zM269 136h16v1h-16zM270 135h12v1h-12zM272 134h7v1h-7zM274 133h1v1h-1zM279 139h17v1h-17zM282 140h42v1h-42zM284 141h41v1h-41zM286 142h40v1h-40zM288 143h38v1h-38zM292 144h35v1h-35zM297 145h31v1h-31zM303 146h26v1h-26zM306 147h24v1h-24zM309 148h22v1h-22zM311 149h21v1h-21zM311 150h22v1h-22zM312 151h22v1h-22zM313 152h22v1h-22zM314 153h22v1h-22zM315 154h22v1h-22zM316 155h22v1h-22zM432 155h10v1h-10zM433 154h10v1h-10zM433 153h11v1h-11zM434 152h10v1h-10zM435 151h10v1h-10zM436 149h10v2h-10zM437 148h10v1h-10zM438 147h10v1h-10zM439 146h12v1h-12zM440 145h15v1h-15zM442 144h16v1h-16zM443 143h17v1h-17zM445 142h17v1h-17zM447 141h16v1h-16zM448 140h16v1h-16zM451 139h14v1h-14zM453 138h13v1h-13zM455 137h12v1h-12zM457 136h11v1h-11zM459 135h11v1h-11zM461 134h12v1h-12zM464 133h28v1h-28zM467 132h17v1h-17zM471 131h5v1h-5zM475 134h29v1h-29zM484 135h30v1h-30zM499 136h19v1h-19zM503 137h17v1h-17zM506 138h15v1h-15zM506 139h16v1h-16zM507 140h16v1h-16zM507 141h18v1h-18zM508 142h18v1h-18zM509 143h19v1h-19zM509 144h20v1h-20zM510 145h21v1h-21zM511 146h21v1h-21zM512 147h21v1h-21zM513 148h21v1h-21zM514 149h22v1h-22zM515 150h22v1h-22zM517 151h21v1h-21zM518 152h21v1h-21zM520 153h20v1h-20zM522 154h19v1h-19zM524 155h18v1h-18z"/>
<path fill="#00c832" d="M13 152h65v4h-65zM14 147h63v4h-63zM14 151h64v1h-64zM15 142h62v5h-62zM16 139h61v3h-61zM17 137h59v2h-59zM20 136h56v1h-56zM24 135h51v1h-51zM127 154h76v2h-76zM128 150h74v4h-74zM129 145h72v5h-72zM130 141h70v4h-70zM131 139h67v1h-67zM131 140h68v1h-68zM132 138h63v1h-63zM134 137h56v1h-56zM266 155h50v1h-50zM267 153h47v1h-47zM267 154h48v1h-48zM268 150h43v1h-43zM268 151h44v1h-44zM268 152h45v1h-45zM269 146h34v1h-34zM269 147h37v1h-37zM269 148h40v1h-40zM269 149h42v1h-42zM270 141h14v1h-14zM270 142h16v1h-16zM270 143h18v1h-18zM270 144h22v1h-22zM270 145h27v1h-27zM271 140h11v1h-11zM272 139h7v1h-7zM442 155h82v1h-82zM443 154h79v1h-79zM444 152h74v1h-74zM444 153h76v1h-76zM445 151h72v1h-72zM446 149h68v1h-68zM446 150h69v1h-69zM447 148h66v1h-66zM448 147h64v1h-64zM451 146h60v1h-60zM455 145h55v1h-55zM458 144h51v1h-51zM460 143h49v1h-49zM462 142h46v1h-46zM463 141h44v1h-44zM464 140h43v1h-43zM465 139h41v1h-41zM466 138h40v1h-40zM467 137h36v1h-36zM468 136h31v1h-31zM470 135h14v1h-14zM473 134h2v1h-2z"/>
</g>
<line x1="51" y1="702.7" x2="606" y2="702.7" stroke="#000" stroke-width="1.8"/>
<line x1="51" y1="858.8" x2="606" y2="858.8" stroke="#111" stroke-width="1.5"/>
<line x1="54.7" y1="697" x2="54.7" y2="702.7" stroke="#333" stroke-width="1"/>
<line x1="54.7" y1="858.8" x2="54.7" y2="864" stroke="#333" stroke-width="1"/>
<line x1="79.6" y1="697" x2="79.6" y2="702.7" stroke="#333" stroke-width="1"/>
<line x1="79.6" y1="858.8" x2="79.6" y2="864" stroke="#333" stroke-width="1"/>
<line x1="104.5" y1="697" x2="104.5" y2="702.7" stroke="#333" stroke-width="1"/>
<line x1="104.5" y1="858.8" x2="104.5" y2="864" stroke="#333" stroke-width="1"/>
<line x1="129.4" y1="697" x2="129.4" y2="702.7" stroke="#333" stroke-width="1"/>
<line x1="129.4" y1="858.8" x2="129.4" y2="864" stroke="#333" stroke-width="1"/>
<line x1="154.3" y1="697" x2="154.3" y2="702.7" stroke="#333" stroke-width="1"/>
<line x1="154.3" y1="858.8" x2="154.3" y2="864" stroke="#333" stroke-width="1"/>
<line x1="179.2" y1="697" x2="179.2" y2="702.7" stroke="#333" stroke-width="1"/>
<line x1="179.2" y1="858.8" x2="179.2" y2="864" stroke="#333" stroke-width="1"/>
<line x1="204.1" y1="697" x2="204.1" y2="702.7" stroke="#333" stroke-width="1"/>
<line x1="204.1" y1="858.8" x2="204.1" y2="864" stroke="#333" stroke-width="1"/>
<line x1="229.0" y1="697" x2="229.0" y2="702.7" stroke="#333" stroke-width="1"/>
<line x1="229.0" y1="858.8" x2="229.0" y2="864" stroke="#333" stroke-width="1"/>
<line x1="253.9" y1="697" x2="253.9" y2="702.7" stroke="#333" stroke-width="1"/>
<line x1="253.9" y1="858.8" x2="253.9" y2="864" stroke="#333" stroke-width="1"/>
<line x1="278.8" y1="697" x2="278.8" y2="702.7" stroke="#333" stroke-width="1"/>
<line x1="278.8" y1="858.8" x2="278.8" y2="864" stroke="#333" stroke-width="1"/>
<line x1="303.7" y1="697" x2="303.7" y2="702.7" stroke="#333" stroke-width="1"/>
<line x1="303.7" y1="858.8" x2="303.7" y2="864" stroke="#333" stroke-width="1"/>
<line x1="328.6" y1="697" x2="328.6" y2="702.7" stroke="#333" stroke-width="1"/>
<line x1="328.6" y1="858.8" x2="328.6" y2="864" stroke="#333" stroke-width="1"/>
<line x1="353.5" y1="697" x2="353.5" y2="702.7" stroke="#333" stroke-width="1"/>
<line x1="353.5" y1="858.8" x2="353.5" y2="864" stroke="#333" stroke-width="1"/>
<line x1="378.4" y1="697" x2="378.4" y2="702.7" stroke="#333" stroke-width="1"/>
<line x1="378.4" y1="858.8" x2="378.4" y2="864" stroke="#333" stroke-width="1"/>
<line x1="403.3" y1="697" x2="403.3" y2="702.7" stroke="#333" stroke-width="1"/>
<line x1="403.3" y1="858.8" x2="403.3" y2="864" stroke="#333" stroke-width="1"/>
<line x1="428.2" y1="697" x2="428.2" y2="702.7" stroke="#333" stroke-width="1"/>
<line x1="428.2" y1="858.8" x2="428.2" y2="864" stroke="#333" stroke-width="1"/>
<line x1="453.1" y1="697" x2="453.1" y2="702.7" stroke="#333" stroke-width="1"/>
<line x1="453.1" y1="858.8" x2="453.1" y2="864" stroke="#333" stroke-width="1"/>
<line x1="478.0" y1="697" x2="478.0" y2="702.7" stroke="#333" stroke-width="1"/>
<line x1="478.0" y1="858.8" x2="478.0" y2="864" stroke="#333" stroke-width="1"/>
<line x1="502.9" y1="697" x2="502.9" y2="702.7" stroke="#333" stroke-width="1"/>
<line x1="502.9" y1="858.8" x2="502.9" y2="864" stroke="#333" stroke-width="1"/>
<line x1="527.8" y1="697" x2="527.8" y2="702.7" stroke="#333" stroke-width="1"/>
<line x1="527.8" y1="858.8" x2="527.8" y2="864" stroke="#333" stroke-width="1"/>
<line x1="552.7" y1="697" x2="552.7" y2="702.7" stroke="#333" stroke-width="1"/>
<line x1="552.7" y1="858.8" x2="552.7" y2="864" stroke="#333" stroke-width="1"/>
<line x1="577.6" y1="697" x2="577.6" y2="702.7" stroke="#333" stroke-width="1"/>
<line x1="577.6" y1="858.8" x2="577.6" y2="864" stroke="#333" stroke-width="1"/>
<line x1="602.5" y1="697" x2="602.5" y2="702.7" stroke="#333" stroke-width="1"/>
<line x1="602.5" y1="858.8" x2="602.5" y2="864" stroke="#333" stroke-width="1"/>
<line x1="50.5" y1="702.7" x2="54.5" y2="702.7" stroke="#333" stroke-width="1"/>
<line x1="602.2" y1="702.7" x2="606.5" y2="702.7" stroke="#333" stroke-width="1"/>
<line x1="50.5" y1="733.9" x2="54.5" y2="733.9" stroke="#333" stroke-width="1"/>
<line x1="602.2" y1="733.9" x2="606.5" y2="733.9" stroke="#333" stroke-width="1"/>
<line x1="50.5" y1="765.1" x2="54.5" y2="765.1" stroke="#333" stroke-width="1"/>
<line x1="602.2" y1="765.1" x2="606.5" y2="765.1" stroke="#333" stroke-width="1"/>
<line x1="50.5" y1="796.4" x2="54.5" y2="796.4" stroke="#333" stroke-width="1"/>
<line x1="602.2" y1="796.4" x2="606.5" y2="796.4" stroke="#333" stroke-width="1"/>
<line x1="50.5" y1="827.6" x2="54.5" y2="827.6" stroke="#333" stroke-width="1"/>
<line x1="602.2" y1="827.6" x2="606.5" y2="827.6" stroke="#333" stroke-width="1"/>
<line x1="50.5" y1="858.8" x2="54.5" y2="858.8" stroke="#333" stroke-width="1"/>
<line x1="602.2" y1="858.8" x2="606.5" y2="858.8" stroke="#333" stroke-width="1"/>
<rect x="59.1" y="702.5" width="15.2" height="11.5" fill="#fff"/>
<text x="66.7" y="709.7" font-size="18.9" font-family="Liberation Sans" text-anchor="middle" fill="#111" textLength="12.7" lengthAdjust="spacingAndGlyphs" >102</text>
<rect x="108.6" y="703" width="15.5" height="14.6" fill="#fff"/>
<text x="116.35" y="715" font-size="16.8" font-family="Liberation Sans" text-anchor="middle" fill="#111" textLength="13.0" lengthAdjust="spacingAndGlyphs" >120</text>
<rect x="170.5" y="703" width="14.9" height="12.5" fill="#fff"/>
<text x="177.95" y="711.5" font-size="19.6" font-family="Liberation Sans" text-anchor="middle" fill="#111" textLength="12.4" lengthAdjust="spacingAndGlyphs" >138</text>
<rect x="218.1" y="703" width="10.7" height="9.9" fill="#fff"/>
<text x="223.45" y="709.4" font-size="18.7" font-family="Liberation Sans" text-anchor="middle" fill="#111" textLength="9.2" lengthAdjust="spacingAndGlyphs" >84</text>
<rect x="285.2" y="703.5" width="15.5" height="20.9" fill="#fff"/>
<text x="292.95" y="719.7" font-size="18.6" font-family="Liberation Sans" text-anchor="middle" fill="#111" textLength="13.0" lengthAdjust="spacingAndGlyphs" >173</text>
<rect x="370.4" y="709" width="15.8" height="21.5" fill="#fff"/>
<text x="378.29999999999995" y="727" font-size="19.6" font-family="Liberation Sans" text-anchor="middle" fill="#111" textLength="13.3" lengthAdjust="spacingAndGlyphs" >191</text>
<rect x="487.6" y="703" width="16.0" height="11.8" fill="#fff"/>
<text x="495.6" y="712" font-size="18.4" font-family="Liberation Sans" text-anchor="middle" fill="#111" textLength="13.5" lengthAdjust="spacingAndGlyphs" >155</text>
<rect x="529.3" y="711.9" width="17.0" height="19.6" fill="#fff"/>
<text x="537.8" y="728" font-size="19.6" font-family="Liberation Sans" text-anchor="middle" fill="#111" textLength="14.5" lengthAdjust="spacingAndGlyphs" >209</text>
<rect x="139.2" y="767.3" width="15.7" height="21.4" fill="#fff"/>
<text x="147.05" y="784.6" font-size="19.0" font-family="Liberation Sans" text-anchor="middle" fill="#111" textLength="13.2" lengthAdjust="spacingAndGlyphs" >226</text>
<rect x="198.5" y="768.3" width="15.3" height="20.4" fill="#fff"/>
<text x="206.15" y="786" font-size="20.3" font-family="Liberation Sans" text-anchor="middle" fill="#111" textLength="12.8" lengthAdjust="spacingAndGlyphs" >262</text>
<rect x="248.1" y="764.2" width="15.2" height="21.5" fill="#fff"/>
<text x="255.7" y="782" font-size="20.9" font-family="Liberation Sans" text-anchor="middle" fill="#111" textLength="12.7" lengthAdjust="spacingAndGlyphs" >244</text>
<rect x="69.8" y="811" width="15.2" height="22.5" fill="#fff"/>
<text x="77.4" y="830" font-size="23.0" font-family="Liberation Sans" text-anchor="middle" fill="#111" textLength="12.7" lengthAdjust="spacingAndGlyphs" >280</text>
<rect x="278.1" y="825" width="15.3" height="21.9" fill="#fff"/>
<text x="285.75" y="843" font-size="19.3" font-family="Liberation Sans" text-anchor="middle" fill="#111" textLength="12.8" lengthAdjust="spacingAndGlyphs" >297</text>
<rect x="327.8" y="827.2" width="15.1" height="22.4" fill="#fff"/>
<text x="335.35" y="847" font-size="22.3" font-family="Liberation Sans" text-anchor="middle" fill="#111" textLength="12.6" lengthAdjust="spacingAndGlyphs" >315</text>
<rect x="527.6" y="827.9" width="15.5" height="22.3" fill="#fff"/>
<text x="535.35" y="846" font-size="19.6" font-family="Liberation Sans" text-anchor="middle" fill="#111" textLength="13.0" lengthAdjust="spacingAndGlyphs" >333</text>
<rect x="621.2" y="742.5" width="9.799999999999955" height="116.89999999999998" fill="#111"/>
<rect x="622.4000000000001" y="854.95" width="7.4" height="3.64" fill="#ff10ff"/>
<rect x="622.4000000000001" y="849.11" width="7.4" height="3.64" fill="#ff00d8"/>
<rect x="622.4000000000001" y="843.26" width="7.4" height="3.64" fill="#ff0060"/>
<rect x="622.4000000000001" y="837.42" width="7.4" height="3.64" fill="#ff0000"/>
<rect x="622.4000000000001" y="831.57" width="7.4" height="3.64" fill="#ff4800"/>
<rect x="622.4000000000001" y="825.73" width="7.4" height="3.64" fill="#ff8800"/>
<rect x="622.4000000000001" y="819.88" width="7.4" height="3.64" fill="#ffc000"/>
<rect x="622.4000000000001" y="814.04" width="7.4" height="3.64" fill="#ffe000"/>
<rect x="622.4000000000001" y="808.19" width="7.4" height="3.64" fill="#f0ff00"/>
<rect x="622.4000000000001" y="802.35" width="7.4" height="3.64" fill="#c8ff00"/>
<rect x="622.4000000000001" y="796.50" width="7.4" height="3.64" fill="#a0ff00"/>
<rect x="622.4000000000001" y="790.66" width="7.4" height="3.64" fill="#78ff00"/>
<rect x="622.4000000000001" y="784.81" width="7.4" height="3.64" fill="#4cff00"/>
<rect x="622.4000000000001" y="778.97" width="7.4" height="3.64" fill="#20ff00"/>
<rect x="622.4000000000001" y="773.12" width="7.4" height="3.64" fill="#00ff10"/>
<rect x="622.4000000000001" y="767.28" width="7.4" height="3.64" fill="#00c832"/>
<rect x="622.4000000000001" y="761.43" width="7.4" height="3.64" fill="#10a080"/>
<rect x="622.4000000000001" y="755.59" width="7.4" height="3.64" fill="#1080b0"/>
<rect x="622.4000000000001" y="749.75" width="7.4" height="3.64" fill="#0020e0"/>
<rect x="622.4000000000001" y="743.90" width="7.4" height="3.64" fill="#0000e0"/>
<text x="634.3" y="770.7" font-size="18" font-family="Liberation Sans" text-anchor="start" fill="#222" textLength="14" lengthAdjust="spacingAndGlyphs" >351</text>
<text x="634.3" y="801.5" font-size="18" font-family="Liberation Sans" text-anchor="start" fill="#222" textLength="14" lengthAdjust="spacingAndGlyphs" >262</text>
<text x="634.3" y="829.7" font-size="18" font-family="Liberation Sans" text-anchor="start" fill="#222" textLength="14" lengthAdjust="spacingAndGlyphs" >173</text>
<text x="634.3" y="858.5" font-size="18" font-family="Liberation Sans" text-anchor="start" fill="#222" textLength="9.5" lengthAdjust="spacingAndGlyphs" >84</text>
</svg>
</body></html>
